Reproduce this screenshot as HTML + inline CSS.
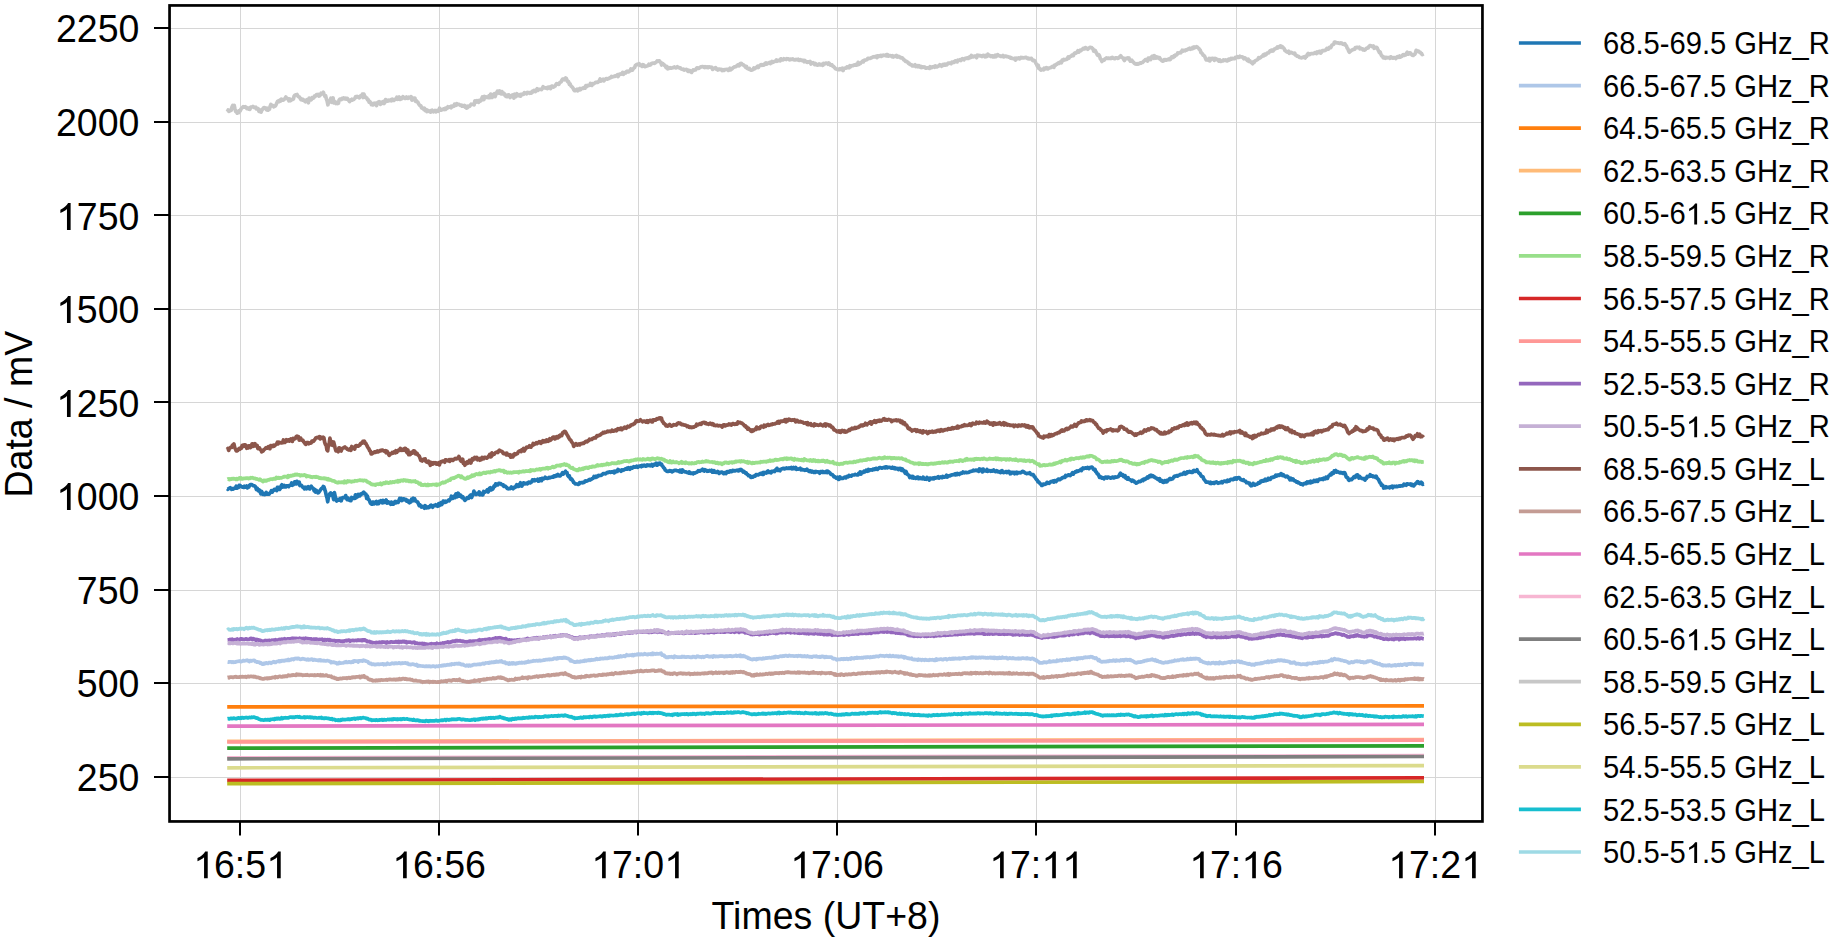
<!DOCTYPE html><html><head><meta charset="utf-8"><style>html,body{margin:0;padding:0;background:#fff;overflow:hidden}svg{display:block}</style></head><body><svg width="1847" height="941" viewBox="0 0 1847 941">
<rect width="1847" height="941" fill="#ffffff"/>
<path d="M240.5 5.5 V821.5 M439.5 5.5 V821.5 M638.5 5.5 V821.5 M837.5 5.5 V821.5 M1036.5 5.5 V821.5 M1236.5 5.5 V821.5 M1435.5 5.5 V821.5 M169.6 777.5 H1482.5 M169.6 683.5 H1482.5 M169.6 590.5 H1482.5 M169.6 496.5 H1482.5 M169.6 402.5 H1482.5 M169.6 309.5 H1482.5 M169.6 215.5 H1482.5 M169.6 122.5 H1482.5 M169.6 28.5 H1482.5" stroke="#d6d6d6" stroke-width="1.0" fill="none"/>
<path d="M227.2 488.7 L227.9 489.3 L228.7 488.5 L229.4 488.3 L230.2 487.7 L230.9 488.2 L231.7 489.3 L232.4 488.6 L233.2 489.1 L233.9 488.3 L234.7 488.3 L235.4 488.0 L236.2 486.2 L236.9 488.2 L237.7 487.7 L238.4 487.5 L239.2 485.4 L239.9 485.3 L240.7 486.1 L241.4 486.5 L242.2 487.2 L242.9 486.9 L243.7 487.4 L244.4 486.3 L245.2 487.2 L245.9 487.2 L246.7 486.0 L247.4 487.9 L248.2 486.6 L248.9 486.9 L249.7 485.0 L250.4 484.6 L251.2 484.7 L251.9 484.7 L252.7 485.4 L253.4 485.7 L254.2 485.8 L254.9 486.1 L255.7 487.2 L256.4 489.5 L257.2 488.3 L257.9 490.0 L258.7 490.9 L259.4 489.9 L260.2 492.0 L260.9 493.8 L261.7 491.5 L262.4 493.8 L263.2 494.4 L263.9 493.6 L264.7 494.6 L265.4 493.8 L266.2 492.4 L266.9 494.2 L267.7 493.9 L268.4 493.9 L269.2 494.1 L269.9 492.9 L270.7 492.3 L271.4 490.7 L272.2 492.1 L272.9 490.6 L273.7 490.4 L274.4 489.4 L275.2 489.3 L275.9 489.3 L276.7 490.6 L277.4 487.3 L278.2 487.4 L278.9 488.6 L279.7 489.4 L280.4 488.2 L281.2 485.7 L281.9 484.7 L282.7 487.1 L283.4 485.9 L284.2 485.4 L284.9 487.0 L285.7 487.0 L286.4 485.9 L287.2 485.8 L287.9 485.8 L288.7 486.6 L289.4 485.5 L290.2 485.2 L290.9 485.1 L291.7 483.0 L292.4 485.3 L293.2 484.8 L293.9 484.2 L294.7 481.8 L295.4 482.8 L296.2 483.9 L296.9 481.4 L297.7 482.6 L298.4 483.6 L299.2 482.2 L299.9 485.5 L300.7 485.2 L301.4 485.3 L302.2 486.4 L302.9 487.3 L303.7 487.6 L304.4 488.9 L305.2 487.2 L305.9 487.4 L306.7 488.7 L307.4 487.7 L308.2 486.8 L308.9 488.4 L309.7 488.9 L310.4 487.1 L311.2 486.2 L311.9 487.4 L312.7 488.1 L313.4 488.6 L314.2 490.9 L314.9 489.4 L315.7 492.1 L316.4 490.5 L317.2 491.6 L317.9 492.9 L318.7 492.5 L319.4 491.5 L320.2 490.2 L320.9 489.2 L321.7 488.4 L322.4 488.0 L323.2 486.5 L323.9 486.7 L324.7 489.5 L325.4 491.4 L326.2 495.2 L326.9 497.3 L327.7 501.8 L328.4 497.5 L329.2 494.9 L329.9 493.7 L330.7 493.0 L331.4 495.1 L332.2 493.8 L332.9 496.1 L333.7 499.7 L334.4 492.7 L335.2 496.3 L335.9 499.8 L336.7 501.0 L337.4 500.2 L338.2 499.4 L338.9 500.1 L339.7 499.4 L340.4 498.4 L341.2 500.8 L341.9 498.7 L342.7 497.6 L343.4 497.7 L344.2 497.3 L344.9 497.7 L345.7 495.6 L346.4 497.9 L347.2 499.6 L347.9 497.9 L348.7 499.2 L349.4 500.4 L350.2 500.5 L350.9 500.7 L351.7 497.5 L352.4 498.3 L353.2 498.0 L353.9 498.5 L354.7 498.5 L355.4 494.8 L356.2 497.8 L356.9 495.2 L357.7 496.7 L358.4 494.4 L359.2 495.4 L359.9 495.8 L360.7 494.1 L361.4 493.9 L362.2 493.9 L362.9 492.8 L363.7 492.1 L364.4 493.2 L365.2 494.1 L365.9 494.2 L366.7 498.3 L367.4 496.1 L368.2 499.3 L368.9 499.6 L369.7 501.3 L370.4 503.2 L371.2 503.9 L371.9 504.2 L372.7 502.1 L373.4 502.0 L374.2 503.9 L374.9 502.3 L375.7 502.1 L376.4 501.5 L377.2 503.8 L377.9 503.1 L378.7 503.6 L379.4 501.3 L380.2 501.9 L380.9 500.7 L381.7 502.2 L382.4 502.8 L383.2 500.4 L383.9 502.6 L384.7 502.3 L385.4 501.4 L386.2 500.0 L386.9 503.2 L387.7 502.1 L388.4 501.8 L389.2 502.9 L389.9 503.1 L390.7 504.2 L391.4 502.1 L392.2 504.2 L392.9 504.2 L393.7 503.9 L394.4 502.2 L395.2 501.4 L395.9 502.8 L396.7 501.7 L397.4 501.5 L398.2 502.4 L398.9 500.6 L399.7 498.5 L400.4 500.0 L401.2 498.4 L401.9 500.6 L402.7 499.9 L403.4 498.8 L404.2 499.1 L404.9 499.8 L405.7 499.5 L406.4 501.0 L407.2 500.1 L407.9 501.5 L408.7 502.2 L409.4 502.7 L410.2 500.9 L410.9 502.0 L411.7 499.1 L412.4 499.4 L413.2 498.3 L413.9 500.6 L414.7 498.8 L415.4 500.6 L416.2 501.1 L416.9 501.9 L417.7 502.1 L418.4 503.6 L419.2 505.7 L419.9 504.8 L420.7 505.9 L421.4 507.0 L422.2 506.7 L422.9 506.3 L423.7 506.8 L424.4 508.2 L425.2 505.7 L425.9 506.5 L426.7 507.9 L427.4 507.6 L428.2 506.9 L428.9 507.5 L429.7 506.9 L430.4 505.6 L431.2 505.1 L431.9 505.9 L432.7 507.2 L433.4 505.8 L434.2 505.4 L434.9 505.5 L435.7 504.7 L436.4 505.9 L437.2 504.9 L437.9 506.2 L438.7 503.7 L439.4 505.6 L440.2 504.3 L440.9 502.7 L441.7 504.6 L442.4 503.3 L443.2 501.1 L443.9 501.8 L444.7 502.4 L445.4 501.3 L446.2 502.0 L446.9 501.5 L447.7 501.0 L448.4 500.2 L449.2 500.7 L449.9 499.6 L450.7 499.0 L451.4 496.2 L452.2 498.5 L452.9 498.4 L453.7 496.5 L454.4 495.9 L455.2 497.6 L455.9 493.8 L456.7 495.4 L457.4 496.7 L458.2 493.2 L458.9 494.3 L459.7 496.1 L460.4 495.0 L461.2 496.4 L461.9 497.5 L462.7 496.6 L463.4 498.1 L464.2 499.2 L464.9 500.4 L465.7 499.7 L466.4 498.9 L467.2 497.6 L467.9 497.6 L468.7 498.2 L469.4 496.9 L470.2 495.5 L470.9 494.9 L471.7 497.5 L472.4 495.5 L473.2 494.5 L473.9 491.0 L474.7 493.3 L475.4 493.2 L476.2 494.4 L476.9 493.5 L477.7 493.3 L478.4 494.0 L479.2 491.9 L479.9 494.8 L480.7 494.4 L481.4 493.4 L482.2 494.8 L482.9 494.8 L483.7 491.5 L484.4 491.7 L485.2 492.1 L485.9 491.6 L486.7 490.6 L487.4 489.7 L488.2 492.0 L488.9 490.6 L489.7 488.2 L490.4 487.6 L491.2 489.9 L491.9 488.8 L492.7 489.1 L493.4 487.8 L494.2 485.8 L494.9 486.4 L495.7 483.8 L496.4 484.6 L497.2 484.8 L497.9 484.9 L498.7 483.3 L499.4 483.4 L500.2 483.5 L500.9 483.8 L501.7 484.6 L502.4 484.8 L503.2 484.9 L503.9 486.5 L504.7 486.4 L505.4 486.2 L506.2 487.0 L506.9 488.1 L507.7 488.6 L508.4 488.8 L509.2 488.5 L509.9 488.6 L510.7 488.1 L511.4 487.0 L512.2 488.3 L513.0 488.8 L513.7 488.0 L514.5 487.1 L515.2 487.4 L516.0 485.9 L516.7 484.8 L517.5 486.3 L518.2 485.1 L519.0 486.3 L519.7 484.4 L520.5 482.8 L521.2 483.9 L522.0 486.0 L522.7 484.0 L523.5 482.8 L524.2 483.1 L525.0 483.9 L525.7 483.6 L526.5 483.1 L527.2 483.9 L528.0 483.0 L528.7 482.1 L529.5 482.3 L530.2 482.9 L531.0 482.1 L531.7 481.9 L532.5 479.8 L533.2 480.3 L534.0 480.8 L534.7 479.7 L535.5 480.6 L536.2 480.1 L537.0 480.2 L537.7 479.2 L538.5 481.2 L539.2 480.0 L540.0 478.8 L540.7 478.9 L541.5 480.7 L542.2 478.3 L543.0 479.1 L543.7 479.0 L544.5 478.2 L545.2 477.2 L546.0 478.1 L546.7 478.1 L547.5 478.5 L548.2 478.1 L549.0 477.4 L549.7 477.9 L550.5 477.5 L551.2 477.2 L552.0 476.9 L552.7 476.6 L553.5 477.1 L554.2 475.8 L555.0 476.0 L555.7 476.3 L556.5 475.1 L557.2 475.7 L558.0 474.5 L558.7 475.3 L559.5 476.0 L560.2 475.9 L561.0 474.9 L561.7 474.1 L562.5 472.7 L563.2 474.1 L564.0 472.6 L564.7 472.3 L565.5 471.3 L566.2 472.8 L567.0 472.7 L567.7 475.4 L568.5 476.5 L569.2 475.7 L570.0 477.8 L570.7 479.2 L571.5 478.8 L572.2 479.8 L573.0 481.2 L573.7 482.5 L574.5 483.0 L575.2 483.8 L576.0 483.9 L576.7 484.0 L577.5 484.0 L578.2 484.4 L579.0 484.1 L579.7 482.6 L580.5 483.0 L581.2 482.6 L582.0 482.5 L582.7 482.8 L583.5 482.5 L584.2 482.5 L585.0 481.0 L585.7 480.9 L586.5 481.2 L587.2 480.8 L588.0 480.4 L588.7 480.2 L589.5 479.5 L590.2 480.0 L591.0 479.5 L591.7 479.0 L592.5 478.3 L593.2 478.3 L594.0 476.5 L594.7 477.2 L595.5 477.4 L596.2 476.3 L597.0 476.9 L597.7 476.5 L598.5 475.4 L599.2 475.7 L600.0 475.3 L600.7 475.4 L601.5 475.2 L602.2 474.5 L603.0 473.7 L603.7 473.8 L604.5 473.6 L605.2 473.9 L606.0 473.5 L606.7 472.8 L607.5 472.3 L608.2 472.6 L609.0 472.3 L609.7 471.9 L610.5 472.3 L611.2 471.9 L612.0 472.1 L612.7 472.1 L613.5 471.4 L614.2 472.8 L615.0 471.2 L615.7 471.8 L616.5 471.1 L617.2 471.4 L618.0 469.4 L618.7 470.1 L619.5 470.5 L620.2 470.5 L621.0 471.3 L621.7 470.0 L622.5 470.4 L623.2 469.9 L624.0 469.8 L624.7 469.4 L625.5 468.9 L626.2 469.1 L627.0 468.1 L627.7 469.1 L628.5 467.8 L629.2 468.3 L630.0 469.2 L630.7 467.7 L631.5 467.7 L632.2 468.1 L633.0 467.3 L633.7 466.7 L634.5 467.1 L635.2 467.1 L636.0 467.0 L636.7 466.1 L637.5 467.3 L638.2 467.1 L639.0 466.2 L639.7 466.2 L640.5 465.8 L641.2 466.7 L642.0 465.4 L642.7 466.1 L643.5 465.4 L644.2 465.2 L645.0 465.9 L645.7 466.2 L646.5 465.3 L647.2 464.9 L648.0 465.6 L648.7 465.1 L649.5 465.2 L650.2 465.8 L651.0 465.5 L651.7 464.5 L652.5 466.0 L653.2 464.6 L654.0 465.0 L654.7 464.1 L655.5 464.4 L656.2 463.3 L657.0 465.2 L657.7 464.9 L658.5 463.4 L659.2 463.2 L660.0 463.0 L660.7 464.5 L661.5 464.2 L662.2 465.6 L663.0 466.6 L663.7 467.8 L664.5 468.4 L665.2 470.1 L666.0 470.4 L666.7 471.2 L667.5 471.4 L668.2 471.4 L669.0 471.0 L669.7 470.6 L670.5 471.2 L671.2 470.8 L672.0 471.8 L672.7 471.4 L673.5 470.8 L674.2 470.6 L675.0 470.4 L675.7 470.3 L676.5 470.6 L677.2 470.9 L678.0 471.0 L678.7 470.9 L679.5 471.7 L680.2 470.2 L681.0 470.5 L681.7 472.2 L682.5 469.9 L683.2 470.8 L684.0 471.5 L684.7 471.7 L685.5 472.0 L686.2 471.9 L687.0 472.5 L687.7 472.5 L688.5 473.1 L689.2 471.9 L690.0 472.7 L690.7 473.4 L691.5 473.1 L692.2 473.2 L693.0 473.8 L693.7 472.8 L694.5 473.2 L695.2 473.0 L696.0 472.5 L696.7 472.3 L697.5 471.7 L698.2 470.7 L699.0 471.2 L699.7 471.2 L700.5 470.3 L701.2 470.3 L702.0 470.5 L702.7 469.3 L703.5 470.2 L704.2 471.0 L705.0 469.8 L705.7 470.3 L706.5 470.3 L707.2 471.3 L708.0 470.8 L708.7 471.2 L709.5 470.5 L710.2 471.0 L711.0 471.1 L711.7 470.3 L712.5 472.2 L713.2 472.0 L714.0 470.7 L714.7 472.2 L715.5 471.9 L716.2 472.3 L717.0 472.4 L717.7 471.5 L718.5 472.4 L719.2 473.4 L720.0 472.4 L720.7 472.3 L721.5 472.2 L722.2 472.2 L723.0 472.9 L723.7 473.6 L724.5 472.7 L725.2 472.5 L726.0 473.5 L726.7 471.8 L727.5 471.6 L728.2 472.2 L729.0 472.1 L729.7 471.1 L730.5 470.9 L731.2 471.6 L732.0 471.4 L732.7 470.4 L733.5 470.9 L734.2 470.6 L735.0 471.0 L735.7 470.6 L736.5 470.5 L737.2 470.2 L738.0 470.9 L738.7 470.9 L739.5 469.8 L740.2 470.4 L741.0 469.4 L741.7 469.9 L742.5 470.9 L743.2 472.0 L744.0 471.5 L744.7 472.3 L745.5 473.1 L746.2 472.8 L747.0 474.3 L747.7 474.5 L748.5 475.7 L749.2 475.5 L750.0 475.7 L750.7 477.4 L751.5 477.4 L752.2 476.6 L753.0 477.1 L753.7 476.2 L754.5 475.7 L755.2 476.0 L756.0 474.6 L756.7 474.8 L757.5 474.8 L758.2 475.0 L759.0 474.1 L759.7 474.1 L760.5 473.3 L761.2 473.7 L762.0 474.3 L762.7 472.8 L763.5 474.4 L764.2 472.5 L765.0 472.7 L765.7 472.7 L766.5 473.0 L767.2 471.6 L768.0 470.9 L768.7 472.3 L769.5 472.2 L770.2 471.9 L771.0 472.9 L771.7 471.4 L772.5 471.3 L773.2 471.5 L774.0 471.0 L774.7 471.5 L775.5 469.8 L776.2 470.1 L777.0 468.3 L777.7 470.4 L778.5 469.6 L779.2 470.2 L780.0 470.7 L780.7 469.3 L781.5 469.0 L782.2 468.7 L783.0 468.4 L783.7 468.3 L784.5 468.9 L785.2 468.4 L786.0 468.2 L786.7 467.9 L787.5 468.5 L788.2 468.3 L789.0 467.9 L789.7 468.4 L790.5 467.9 L791.2 467.4 L792.0 468.8 L792.7 468.3 L793.5 467.5 L794.2 468.7 L795.0 468.4 L795.7 467.5 L796.5 469.4 L797.2 468.8 L798.0 469.2 L798.7 469.0 L799.5 468.9 L800.2 468.3 L801.0 469.8 L801.7 469.4 L802.5 469.4 L803.2 469.9 L804.0 469.8 L804.7 470.3 L805.5 469.9 L806.2 470.2 L807.0 469.2 L807.7 470.2 L808.5 471.0 L809.2 471.5 L810.0 470.6 L810.7 470.9 L811.5 472.0 L812.2 471.1 L813.0 471.8 L813.7 472.4 L814.5 471.7 L815.2 472.4 L816.0 471.4 L816.7 472.0 L817.5 471.8 L818.2 471.9 L819.0 472.5 L819.7 473.2 L820.5 471.6 L821.2 471.7 L822.0 472.3 L822.7 471.4 L823.5 472.3 L824.2 472.4 L825.0 471.9 L825.7 472.4 L826.5 471.3 L827.2 472.6 L828.0 471.3 L828.7 472.0 L829.5 472.6 L830.2 473.2 L831.0 474.4 L831.7 474.5 L832.5 474.8 L833.2 475.8 L834.0 476.9 L834.7 476.6 L835.5 477.3 L836.2 478.3 L837.0 478.1 L837.7 477.3 L838.5 479.4 L839.2 479.2 L840.0 476.9 L840.7 478.0 L841.5 478.2 L842.2 478.5 L843.0 478.4 L843.7 477.8 L844.5 477.2 L845.2 477.6 L846.0 477.9 L846.7 476.5 L847.5 476.3 L848.2 476.7 L849.0 475.4 L849.7 476.1 L850.5 475.8 L851.2 476.1 L852.0 475.3 L852.7 475.0 L853.5 475.0 L854.2 475.0 L855.0 474.4 L855.7 474.6 L856.5 474.8 L857.2 474.8 L858.0 474.9 L858.7 473.3 L859.5 473.3 L860.2 471.9 L861.0 474.0 L861.7 472.3 L862.5 472.4 L863.2 472.5 L864.0 471.2 L864.7 471.9 L865.5 471.4 L866.2 470.2 L867.0 471.1 L867.7 471.3 L868.5 469.4 L869.2 470.6 L870.0 470.0 L870.7 469.9 L871.5 469.8 L872.2 470.1 L873.0 469.1 L873.7 469.6 L874.5 468.8 L875.2 469.3 L876.0 468.3 L876.7 468.6 L877.5 469.4 L878.2 468.6 L879.0 468.1 L879.7 467.5 L880.5 467.5 L881.2 467.9 L882.0 468.2 L882.7 467.8 L883.5 467.7 L884.2 467.3 L885.0 467.9 L885.7 466.9 L886.5 466.9 L887.2 467.8 L888.0 467.4 L888.7 467.3 L889.5 467.3 L890.2 467.5 L891.0 468.1 L891.7 468.1 L892.5 467.3 L893.2 468.3 L894.0 468.3 L894.7 467.7 L895.5 468.8 L896.2 468.3 L897.0 468.4 L897.7 469.1 L898.5 469.5 L899.2 468.4 L900.0 469.2 L900.7 468.5 L901.5 470.4 L902.2 468.9 L903.0 470.6 L903.7 470.3 L904.5 471.8 L905.2 473.3 L906.0 471.4 L906.7 473.2 L907.5 474.5 L908.2 474.9 L909.0 475.3 L909.7 477.5 L910.5 477.1 L911.2 476.4 L912.0 477.8 L912.7 476.5 L913.5 478.1 L914.2 477.2 L915.0 477.7 L915.7 478.4 L916.5 477.9 L917.2 477.1 L918.0 477.0 L918.7 478.7 L919.5 478.5 L920.2 477.7 L921.0 478.7 L921.7 478.6 L922.5 478.8 L923.2 477.2 L924.0 478.4 L924.7 479.1 L925.5 479.1 L926.2 479.3 L927.0 477.5 L927.7 479.0 L928.5 479.0 L929.2 480.1 L930.0 478.1 L930.7 478.3 L931.5 478.4 L932.2 478.8 L933.0 478.0 L933.7 478.8 L934.5 477.6 L935.2 478.1 L936.0 477.6 L936.7 477.9 L937.5 477.3 L938.2 476.7 L939.0 478.1 L939.7 477.6 L940.5 477.0 L941.2 477.4 L942.0 477.7 L942.7 476.5 L943.5 476.9 L944.2 477.2 L945.0 477.0 L945.7 476.4 L946.5 475.3 L947.2 477.0 L948.0 476.3 L948.7 476.0 L949.5 475.6 L950.2 475.8 L951.0 475.2 L951.7 474.8 L952.5 474.8 L953.2 474.7 L954.0 474.5 L954.7 474.0 L955.5 474.9 L956.2 473.6 L957.0 474.6 L957.7 473.5 L958.5 474.1 L959.2 474.5 L960.0 473.7 L960.7 473.0 L961.5 473.3 L962.2 473.2 L963.0 472.0 L963.7 472.5 L964.5 472.8 L965.2 472.3 L966.0 472.4 L966.7 472.7 L967.5 472.5 L968.2 472.5 L969.0 472.2 L969.7 471.5 L970.5 471.6 L971.2 471.3 L972.0 471.1 L972.7 471.0 L973.5 470.1 L974.2 470.7 L975.0 470.7 L975.7 470.1 L976.5 470.4 L977.2 470.6 L978.0 470.1 L978.7 471.4 L979.5 468.9 L980.2 470.2 L981.0 469.4 L981.7 471.0 L982.5 471.9 L983.2 469.1 L984.0 470.6 L984.7 470.9 L985.5 470.5 L986.2 471.0 L987.0 469.5 L987.7 471.3 L988.5 471.0 L989.2 470.9 L990.0 470.6 L990.7 471.3 L991.5 470.7 L992.2 471.2 L993.0 470.8 L993.7 469.9 L994.5 471.2 L995.2 471.4 L996.0 471.7 L996.7 470.8 L997.5 471.4 L998.2 471.8 L999.0 471.5 L999.7 472.2 L1000.5 472.6 L1001.2 471.1 L1002.0 470.6 L1002.7 472.2 L1003.5 472.6 L1004.2 472.3 L1005.0 472.3 L1005.7 471.6 L1006.5 471.6 L1007.2 472.6 L1008.0 471.7 L1008.7 471.3 L1009.5 471.8 L1010.2 473.8 L1011.0 473.6 L1011.7 472.3 L1012.5 472.3 L1013.2 472.9 L1014.0 472.5 L1014.7 473.7 L1015.5 472.9 L1016.2 472.3 L1017.0 473.6 L1017.7 472.5 L1018.5 472.9 L1019.2 472.7 L1020.0 472.5 L1020.7 472.8 L1021.5 472.2 L1022.2 471.5 L1023.0 471.3 L1023.7 471.9 L1024.5 472.4 L1025.2 472.9 L1026.0 473.2 L1026.7 473.6 L1027.5 473.5 L1028.2 473.2 L1029.0 473.4 L1029.7 472.8 L1030.5 474.0 L1031.2 474.5 L1032.0 474.7 L1032.7 474.5 L1033.5 474.9 L1034.2 476.6 L1035.0 477.1 L1035.7 478.5 L1036.5 479.4 L1037.2 480.2 L1038.0 481.8 L1038.7 481.8 L1039.5 482.9 L1040.2 483.7 L1041.0 484.3 L1041.7 485.4 L1042.5 485.3 L1043.2 484.1 L1044.0 484.2 L1044.7 484.4 L1045.5 484.0 L1046.2 484.0 L1047.0 482.4 L1047.7 482.6 L1048.5 483.0 L1049.2 483.3 L1050.0 482.4 L1050.7 481.6 L1051.5 481.7 L1052.2 481.3 L1053.0 481.0 L1053.7 482.1 L1054.5 480.6 L1055.2 480.6 L1056.0 481.5 L1056.7 480.7 L1057.5 479.9 L1058.2 479.1 L1059.0 479.3 L1059.7 479.7 L1060.5 478.8 L1061.2 478.9 L1062.0 477.9 L1062.7 477.8 L1063.5 477.1 L1064.2 477.2 L1065.0 477.3 L1065.7 475.5 L1066.5 476.0 L1067.2 475.8 L1068.0 475.1 L1068.7 474.9 L1069.5 475.2 L1070.2 475.5 L1071.0 474.5 L1071.7 474.0 L1072.5 472.6 L1073.2 474.2 L1074.0 472.9 L1074.7 472.5 L1075.5 471.6 L1076.2 471.9 L1077.0 471.0 L1077.7 471.3 L1078.5 471.2 L1079.2 470.6 L1080.0 470.5 L1080.7 469.5 L1081.5 470.5 L1082.2 469.0 L1083.0 468.0 L1083.7 468.7 L1084.5 468.2 L1085.2 467.9 L1086.0 468.1 L1086.7 468.3 L1087.5 467.4 L1088.2 467.8 L1089.0 468.5 L1089.7 467.9 L1090.5 467.3 L1091.2 467.3 L1092.0 467.1 L1092.7 468.0 L1093.5 469.4 L1094.2 469.8 L1095.0 469.4 L1095.7 471.6 L1096.5 472.1 L1097.2 473.8 L1098.0 474.0 L1098.7 475.3 L1099.5 477.3 L1100.2 476.5 L1101.0 477.3 L1101.7 478.1 L1102.5 477.7 L1103.2 477.8 L1104.0 478.8 L1104.7 478.0 L1105.5 477.1 L1106.2 477.1 L1107.0 478.1 L1107.7 477.1 L1108.5 477.1 L1109.2 477.4 L1110.0 477.9 L1110.7 478.2 L1111.5 477.7 L1112.2 477.2 L1113.0 477.2 L1113.7 478.0 L1114.5 477.8 L1115.2 476.8 L1116.0 477.2 L1116.7 477.1 L1117.5 477.0 L1118.2 476.6 L1119.0 475.8 L1119.7 474.3 L1120.5 473.2 L1121.2 475.2 L1122.0 475.2 L1122.7 474.7 L1123.5 476.6 L1124.2 476.7 L1125.0 475.6 L1125.7 478.1 L1126.5 478.0 L1127.2 479.1 L1128.0 477.7 L1128.7 479.1 L1129.5 479.5 L1130.2 479.8 L1131.0 480.3 L1131.7 481.2 L1132.5 480.2 L1133.2 480.8 L1134.0 481.1 L1134.7 482.0 L1135.5 482.4 L1136.2 483.2 L1137.0 482.8 L1137.7 482.3 L1138.5 481.6 L1139.2 481.3 L1140.0 481.7 L1140.7 481.3 L1141.5 480.6 L1142.2 480.0 L1143.0 480.6 L1143.7 479.1 L1144.5 479.4 L1145.2 479.3 L1146.0 478.2 L1146.7 478.4 L1147.5 477.0 L1148.2 477.8 L1149.0 477.0 L1149.7 475.7 L1150.5 476.6 L1151.2 475.3 L1152.0 476.2 L1152.7 475.6 L1153.5 476.4 L1154.2 477.1 L1155.0 477.2 L1155.7 478.0 L1156.5 478.0 L1157.2 479.1 L1158.0 479.2 L1158.7 479.8 L1159.5 478.6 L1160.2 481.2 L1161.0 481.1 L1161.7 480.5 L1162.5 482.0 L1163.2 482.3 L1164.0 482.3 L1164.7 480.8 L1165.5 481.9 L1166.2 480.6 L1167.0 481.7 L1167.7 480.0 L1168.5 480.1 L1169.2 479.2 L1170.0 478.5 L1170.7 479.4 L1171.5 478.9 L1172.2 479.0 L1173.0 478.3 L1173.7 477.1 L1174.5 476.2 L1175.2 476.4 L1176.0 476.1 L1176.7 475.7 L1177.5 476.1 L1178.2 475.7 L1179.0 475.0 L1179.7 474.9 L1180.5 474.4 L1181.2 474.3 L1182.0 474.3 L1182.7 474.2 L1183.5 473.1 L1184.2 472.5 L1185.0 474.0 L1185.7 473.1 L1186.5 473.5 L1187.2 471.8 L1188.0 472.3 L1188.7 472.4 L1189.5 471.4 L1190.2 471.7 L1191.0 472.3 L1191.7 472.3 L1192.5 472.4 L1193.2 470.9 L1194.0 470.4 L1194.7 471.3 L1195.5 471.4 L1196.2 470.8 L1197.0 469.8 L1197.7 471.6 L1198.5 472.5 L1199.2 473.3 L1200.0 473.7 L1200.7 475.1 L1201.5 476.3 L1202.2 476.6 L1203.0 476.8 L1203.7 478.9 L1204.5 480.0 L1205.2 480.7 L1206.0 482.1 L1206.7 481.9 L1207.5 482.2 L1208.2 482.1 L1209.0 482.6 L1209.7 483.2 L1210.5 482.2 L1211.2 483.5 L1212.0 483.2 L1212.7 482.8 L1213.5 482.7 L1214.2 483.4 L1215.0 482.3 L1215.7 482.4 L1216.5 481.9 L1217.2 482.8 L1218.0 483.3 L1218.7 482.8 L1219.5 482.8 L1220.2 482.5 L1221.0 482.6 L1221.7 481.6 L1222.5 482.7 L1223.2 481.8 L1224.0 481.2 L1224.7 481.2 L1225.5 481.0 L1226.2 481.7 L1227.0 481.6 L1227.7 480.1 L1228.5 481.2 L1229.2 481.0 L1230.0 480.0 L1230.7 479.3 L1231.5 479.5 L1232.2 479.4 L1233.0 479.7 L1233.7 479.2 L1234.5 478.1 L1235.2 479.1 L1236.0 478.0 L1236.7 479.1 L1237.5 477.8 L1238.2 477.9 L1239.0 477.6 L1239.7 478.0 L1240.5 479.5 L1241.2 479.7 L1242.0 480.0 L1242.7 480.3 L1243.5 479.7 L1244.2 480.7 L1245.0 481.2 L1245.7 481.4 L1246.5 482.7 L1247.2 482.4 L1248.0 482.9 L1248.7 483.2 L1249.5 483.1 L1250.2 485.0 L1251.0 485.8 L1251.7 485.6 L1252.5 484.8 L1253.2 483.5 L1254.0 484.8 L1254.7 485.1 L1255.5 484.3 L1256.2 484.3 L1257.0 484.3 L1257.7 483.8 L1258.5 482.7 L1259.2 483.2 L1260.0 482.7 L1260.7 481.2 L1261.5 481.5 L1262.2 480.6 L1263.0 481.0 L1263.7 481.1 L1264.5 479.9 L1265.2 479.1 L1266.0 480.6 L1266.7 479.8 L1267.5 480.1 L1268.2 478.3 L1269.0 479.3 L1269.7 479.5 L1270.5 479.2 L1271.2 477.7 L1272.0 477.6 L1272.7 477.1 L1273.5 477.4 L1274.2 477.1 L1275.0 476.3 L1275.7 475.2 L1276.5 476.1 L1277.2 475.1 L1278.0 475.4 L1278.7 474.9 L1279.5 475.4 L1280.2 474.8 L1281.0 473.6 L1281.7 474.3 L1282.5 475.5 L1283.2 474.6 L1284.0 475.5 L1284.7 476.3 L1285.5 476.8 L1286.2 476.7 L1287.0 476.1 L1287.7 476.5 L1288.5 477.8 L1289.2 478.2 L1290.0 479.8 L1290.7 478.3 L1291.5 479.8 L1292.2 480.0 L1293.0 479.0 L1293.7 479.9 L1294.5 480.8 L1295.2 480.9 L1296.0 481.4 L1296.7 482.2 L1297.5 481.9 L1298.2 482.9 L1299.0 482.7 L1299.7 483.2 L1300.5 484.2 L1301.2 483.9 L1302.0 484.3 L1302.7 484.8 L1303.5 483.7 L1304.2 483.5 L1305.0 483.7 L1305.7 482.9 L1306.5 483.5 L1307.2 482.0 L1308.0 482.9 L1308.7 482.1 L1309.5 481.7 L1310.2 482.9 L1311.0 481.3 L1311.7 482.5 L1312.5 481.7 L1313.2 481.9 L1314.0 480.4 L1314.7 481.4 L1315.5 481.4 L1316.2 480.3 L1317.0 480.1 L1317.7 481.3 L1318.5 479.9 L1319.2 479.3 L1320.0 479.0 L1320.7 479.4 L1321.5 479.1 L1322.2 478.9 L1323.0 479.5 L1323.7 478.2 L1324.5 478.4 L1325.2 478.8 L1326.0 477.2 L1326.7 478.1 L1327.5 478.4 L1328.2 476.4 L1329.0 475.8 L1329.7 475.2 L1330.5 474.1 L1331.2 474.7 L1332.0 472.8 L1332.7 473.4 L1333.5 473.3 L1334.2 470.9 L1335.0 471.2 L1335.7 470.5 L1336.5 472.1 L1337.2 471.5 L1338.0 471.9 L1338.7 472.3 L1339.5 472.8 L1340.2 472.4 L1341.0 472.8 L1341.7 472.7 L1342.5 473.3 L1343.2 472.7 L1344.0 473.6 L1344.7 472.7 L1345.5 474.5 L1346.2 477.1 L1347.0 477.3 L1347.7 477.8 L1348.5 479.9 L1349.2 480.3 L1350.0 479.4 L1350.7 479.4 L1351.5 479.6 L1352.2 478.9 L1353.0 478.1 L1353.7 477.1 L1354.5 476.5 L1355.2 477.3 L1356.0 476.2 L1356.7 475.0 L1357.5 474.8 L1358.2 475.6 L1359.0 478.1 L1359.7 476.5 L1360.5 477.6 L1361.2 478.1 L1362.0 478.4 L1362.7 478.7 L1363.5 478.5 L1364.2 479.1 L1365.0 480.1 L1365.7 478.1 L1366.5 478.4 L1367.2 476.5 L1368.0 476.7 L1368.7 476.4 L1369.5 476.3 L1370.2 474.6 L1371.0 475.9 L1371.7 476.1 L1372.5 475.8 L1373.2 476.8 L1374.0 476.3 L1374.7 476.7 L1375.5 477.4 L1376.2 476.3 L1377.0 478.1 L1377.7 478.7 L1378.5 479.5 L1379.2 481.1 L1380.0 482.8 L1380.7 483.2 L1381.5 485.2 L1382.2 484.9 L1383.0 485.8 L1383.7 488.1 L1384.5 487.5 L1385.2 487.8 L1386.0 486.8 L1386.7 487.6 L1387.5 487.3 L1388.2 487.5 L1389.0 487.2 L1389.7 487.8 L1390.5 486.7 L1391.2 486.5 L1392.0 486.2 L1392.7 487.7 L1393.5 486.6 L1394.2 486.4 L1395.0 486.4 L1395.7 486.7 L1396.5 486.2 L1397.2 486.7 L1398.0 486.3 L1398.7 486.2 L1399.5 485.8 L1400.2 486.2 L1401.0 485.7 L1401.7 485.9 L1402.5 485.8 L1403.2 485.7 L1404.0 484.1 L1404.7 484.9 L1405.5 484.6 L1406.2 485.3 L1407.0 483.8 L1407.7 484.1 L1408.5 484.2 L1409.2 484.0 L1410.0 484.5 L1410.7 483.9 L1411.5 485.3 L1412.2 484.5 L1413.0 484.9 L1413.7 485.9 L1414.5 484.8 L1415.2 484.1 L1416.0 483.3 L1416.7 482.8 L1417.5 481.6 L1418.2 483.0 L1419.0 482.4 L1419.7 483.5 L1420.5 483.2 L1421.2 482.3 L1422.0 482.9 L1422.7 484.4 L1423.5 483.8" stroke="#1f77b4" stroke-width="3.7" fill="none" stroke-linejoin="round" stroke-linecap="butt"/>
<path d="M227.6 662.0 L228.3 662.1 L229.1 661.9 L229.8 661.8 L230.6 661.9 L231.3 661.9 L232.1 662.3 L232.8 661.8 L233.6 662.3 L234.3 662.2 L235.1 662.1 L235.8 661.9 L236.6 661.6 L237.3 661.5 L238.1 661.4 L238.8 661.1 L239.6 661.3 L240.3 661.1 L241.1 661.7 L241.8 661.3 L242.6 661.0 L243.3 660.5 L244.1 661.0 L244.8 660.8 L245.6 660.6 L246.3 660.5 L247.1 660.1 L247.8 660.9 L248.6 660.7 L249.3 661.5 L250.1 660.6 L250.8 660.5 L251.6 661.0 L252.3 660.5 L253.1 660.5 L253.8 660.4 L254.6 660.6 L255.3 661.5 L256.1 661.6 L256.9 662.1 L257.6 661.8 L258.4 662.2 L259.1 662.2 L259.9 663.0 L260.6 662.6 L261.4 663.4 L262.1 663.9 L262.9 664.2 L263.6 663.4 L264.4 663.9 L265.1 663.2 L265.9 663.1 L266.6 662.8 L267.4 663.5 L268.1 663.5 L268.9 662.7 L269.6 662.6 L270.4 662.6 L271.1 663.3 L271.9 662.8 L272.6 662.2 L273.4 661.7 L274.1 661.9 L274.9 662.4 L275.6 662.5 L276.4 661.7 L277.1 661.5 L277.9 661.4 L278.6 660.9 L279.4 661.6 L280.1 660.9 L280.9 661.4 L281.6 660.5 L282.4 660.5 L283.1 660.9 L283.9 660.5 L284.6 660.8 L285.4 660.5 L286.1 660.0 L286.9 660.4 L287.6 660.4 L288.4 659.4 L289.1 660.4 L289.9 659.9 L290.6 659.9 L291.4 659.0 L292.1 659.2 L292.9 659.2 L293.6 659.6 L294.4 658.7 L295.1 658.7 L295.9 658.3 L296.6 658.7 L297.4 658.8 L298.1 658.3 L298.9 658.6 L299.6 659.0 L300.4 659.4 L301.1 659.2 L301.9 658.9 L302.6 658.7 L303.4 658.8 L304.1 659.0 L304.9 659.3 L305.6 659.3 L306.4 659.8 L307.1 659.5 L307.9 659.1 L308.6 660.0 L309.4 659.8 L310.1 659.6 L310.9 659.4 L311.6 659.1 L312.4 659.4 L313.1 660.1 L313.9 659.6 L314.6 659.5 L315.4 660.0 L316.1 660.1 L316.9 660.2 L317.6 660.3 L318.4 660.6 L319.1 660.0 L319.9 660.6 L320.6 660.0 L321.4 660.6 L322.1 660.5 L322.9 660.6 L323.6 660.8 L324.4 660.6 L325.1 661.0 L325.9 661.0 L326.6 660.8 L327.4 660.6 L328.1 660.8 L328.9 661.0 L329.6 661.3 L330.4 661.6 L331.1 662.6 L331.9 662.1 L332.6 662.4 L333.4 662.1 L334.1 662.3 L334.9 662.6 L335.6 663.0 L336.4 662.8 L337.1 663.8 L337.9 663.2 L338.6 663.6 L339.4 662.5 L340.1 663.1 L340.9 663.1 L341.6 663.0 L342.4 663.0 L343.1 662.9 L343.9 662.7 L344.6 662.0 L345.4 662.3 L346.1 661.7 L346.9 662.5 L347.6 662.4 L348.4 662.1 L349.1 661.9 L349.9 661.8 L350.6 662.5 L351.4 662.4 L352.1 661.7 L352.9 662.1 L353.6 661.1 L354.4 660.9 L355.1 661.3 L355.9 661.1 L356.6 661.1 L357.4 661.2 L358.1 662.0 L358.9 660.8 L359.6 660.9 L360.4 660.9 L361.1 660.7 L361.9 661.0 L362.6 661.1 L363.4 660.1 L364.1 660.5 L364.9 660.6 L365.6 661.2 L366.4 661.1 L367.1 661.4 L367.9 661.7 L368.6 662.9 L369.4 663.2 L370.1 663.6 L370.9 663.3 L371.6 664.3 L372.4 664.4 L373.1 664.1 L373.9 664.2 L374.6 664.7 L375.4 664.6 L376.1 664.4 L376.9 664.5 L377.6 664.1 L378.4 664.3 L379.1 664.2 L379.9 664.4 L380.6 664.1 L381.4 664.1 L382.1 664.0 L382.9 663.8 L383.6 664.7 L384.4 664.1 L385.1 664.0 L385.9 664.6 L386.6 664.3 L387.4 663.3 L388.1 664.0 L388.9 664.0 L389.6 664.2 L390.4 664.0 L391.1 663.8 L391.9 663.2 L392.6 663.3 L393.4 663.6 L394.1 663.6 L394.9 663.1 L395.6 663.3 L396.4 663.2 L397.1 663.3 L397.9 663.4 L398.6 663.1 L399.4 662.8 L400.1 663.5 L400.9 663.6 L401.6 663.0 L402.4 663.3 L403.1 663.1 L403.9 663.1 L404.6 663.0 L405.4 662.8 L406.1 663.3 L406.9 663.6 L407.6 663.2 L408.4 664.2 L409.1 664.4 L409.9 664.4 L410.6 664.6 L411.4 664.4 L412.1 664.2 L412.9 664.2 L413.6 664.3 L414.4 664.7 L415.1 664.8 L415.9 665.2 L416.6 664.5 L417.4 665.9 L418.1 666.1 L418.9 665.5 L419.6 665.9 L420.4 665.9 L421.1 666.0 L421.9 666.0 L422.6 666.2 L423.4 666.1 L424.1 666.4 L424.9 666.3 L425.6 666.4 L426.4 666.0 L427.1 666.3 L427.9 666.3 L428.6 666.5 L429.4 666.0 L430.1 666.4 L430.9 666.6 L431.6 666.5 L432.4 666.2 L433.1 666.2 L433.9 666.2 L434.6 666.5 L435.4 666.8 L436.1 666.3 L436.9 666.1 L437.6 666.4 L438.4 666.3 L439.1 665.9 L439.9 665.8 L440.6 665.9 L441.4 666.0 L442.1 665.4 L442.9 665.3 L443.6 665.7 L444.4 665.0 L445.1 665.3 L445.9 665.3 L446.6 665.1 L447.4 664.7 L448.1 664.9 L448.9 664.7 L449.6 664.8 L450.4 664.3 L451.1 664.8 L451.9 663.8 L452.6 664.2 L453.4 664.1 L454.1 664.3 L454.9 663.7 L455.6 664.0 L456.4 663.5 L457.1 663.8 L457.9 664.0 L458.6 663.4 L459.4 663.8 L460.1 663.6 L460.9 664.4 L461.6 664.7 L462.4 664.6 L463.1 664.4 L463.9 665.1 L464.6 665.5 L465.4 665.7 L466.1 665.9 L466.9 665.2 L467.6 665.5 L468.4 666.0 L469.1 665.1 L469.9 665.7 L470.6 665.8 L471.4 665.4 L472.1 665.4 L472.9 664.9 L473.6 664.5 L474.4 664.7 L475.1 664.6 L475.9 664.6 L476.6 664.7 L477.4 664.3 L478.1 664.3 L478.9 664.3 L479.6 664.1 L480.4 664.5 L481.1 664.0 L481.9 663.8 L482.6 663.6 L483.4 663.4 L484.1 663.9 L484.9 663.4 L485.6 662.9 L486.4 663.0 L487.1 663.0 L487.9 662.8 L488.6 663.2 L489.4 662.4 L490.1 662.8 L490.9 662.6 L491.6 662.1 L492.4 662.4 L493.1 662.2 L493.9 662.3 L494.6 661.9 L495.4 662.1 L496.1 661.4 L496.9 661.4 L497.6 661.9 L498.4 661.9 L499.1 661.5 L499.9 661.2 L500.6 661.7 L501.4 661.0 L502.1 661.6 L502.9 662.3 L503.6 662.5 L504.4 662.2 L505.1 662.2 L505.9 663.4 L506.6 663.2 L507.4 663.1 L508.1 663.6 L508.9 664.1 L509.6 663.0 L510.4 664.0 L511.1 663.8 L511.9 662.9 L512.6 663.7 L513.4 662.9 L514.1 663.7 L514.9 663.4 L515.6 663.9 L516.4 663.0 L517.1 663.1 L517.9 663.4 L518.6 662.8 L519.4 662.7 L520.1 662.8 L520.9 662.8 L521.6 662.4 L522.4 662.8 L523.1 662.7 L523.9 662.5 L524.6 662.9 L525.4 662.2 L526.1 662.6 L526.9 661.9 L527.6 662.2 L528.4 661.3 L529.1 661.9 L529.9 661.7 L530.6 661.5 L531.4 661.3 L532.1 661.3 L532.9 661.1 L533.6 660.6 L534.4 661.0 L535.1 660.9 L535.9 660.8 L536.6 660.6 L537.4 660.8 L538.1 660.9 L538.9 660.5 L539.6 660.4 L540.4 660.8 L541.1 660.6 L541.9 660.5 L542.6 660.5 L543.4 660.0 L544.1 659.9 L544.9 660.2 L545.6 659.6 L546.4 659.7 L547.1 659.7 L547.9 659.6 L548.6 659.3 L549.4 659.6 L550.1 659.2 L550.9 659.4 L551.6 659.4 L552.4 659.2 L553.1 659.1 L553.9 658.4 L554.6 658.3 L555.4 658.4 L556.1 658.7 L556.9 658.9 L557.6 658.0 L558.4 658.3 L559.1 657.9 L559.9 657.8 L560.6 657.9 L561.4 658.1 L562.1 657.9 L562.9 658.1 L563.6 657.3 L564.4 657.8 L565.1 657.7 L565.9 657.7 L566.6 658.2 L567.4 658.3 L568.1 658.5 L568.9 659.1 L569.6 659.4 L570.4 660.8 L571.1 660.2 L571.9 661.2 L572.6 661.2 L573.4 661.6 L574.1 662.1 L574.9 661.8 L575.6 662.2 L576.4 662.0 L577.1 661.3 L577.9 661.9 L578.6 661.8 L579.4 661.7 L580.1 661.9 L580.9 661.2 L581.6 661.4 L582.4 661.4 L583.1 660.8 L583.9 661.3 L584.6 660.4 L585.4 660.4 L586.1 660.9 L586.9 660.3 L587.6 660.5 L588.4 659.9 L589.1 660.4 L589.9 659.9 L590.6 660.3 L591.4 659.6 L592.1 660.1 L592.9 659.8 L593.6 659.8 L594.4 659.7 L595.1 659.7 L595.9 659.1 L596.6 658.7 L597.4 659.4 L598.1 659.0 L598.9 659.0 L599.6 659.2 L600.4 658.4 L601.1 658.7 L601.9 658.6 L602.6 658.4 L603.4 658.7 L604.1 658.5 L604.9 658.2 L605.6 658.1 L606.4 658.5 L607.1 658.0 L607.9 658.3 L608.6 658.1 L609.4 657.3 L610.1 657.5 L610.9 657.7 L611.6 657.7 L612.4 657.8 L613.1 657.7 L613.9 657.7 L614.6 657.2 L615.4 657.1 L616.1 657.3 L616.9 656.9 L617.6 657.2 L618.4 656.3 L619.1 656.9 L619.9 656.6 L620.6 655.9 L621.4 656.7 L622.1 656.5 L622.9 656.3 L623.6 655.9 L624.4 655.9 L625.1 656.4 L625.9 655.7 L626.6 654.8 L627.4 655.5 L628.1 655.3 L628.9 655.5 L629.6 655.3 L630.4 655.1 L631.1 655.0 L631.9 655.5 L632.6 654.7 L633.4 655.6 L634.1 654.7 L634.9 654.5 L635.6 655.0 L636.4 654.8 L637.1 654.2 L637.9 654.7 L638.6 653.9 L639.4 654.2 L640.1 654.7 L640.9 654.3 L641.6 654.0 L642.4 654.5 L643.1 654.6 L643.9 654.3 L644.6 653.7 L645.4 654.1 L646.1 654.3 L646.9 654.4 L647.6 654.7 L648.4 654.1 L649.1 654.0 L649.9 654.1 L650.6 654.4 L651.4 653.7 L652.1 654.4 L652.9 653.2 L653.6 654.2 L654.4 653.7 L655.1 654.0 L655.9 654.1 L656.6 653.5 L657.4 653.8 L658.1 653.9 L658.9 653.9 L659.6 653.5 L660.4 653.4 L661.1 653.2 L661.9 655.0 L662.6 654.7 L663.4 655.2 L664.1 655.4 L664.9 656.6 L665.6 656.7 L666.4 657.5 L667.1 657.4 L667.9 657.1 L668.6 657.3 L669.4 656.8 L670.1 657.0 L670.9 656.9 L671.6 656.7 L672.4 657.1 L673.1 657.1 L673.9 657.5 L674.6 656.1 L675.4 656.9 L676.1 656.8 L676.9 657.0 L677.6 657.2 L678.4 657.2 L679.1 657.1 L679.9 657.0 L680.6 657.2 L681.4 657.2 L682.1 656.5 L682.9 657.0 L683.6 656.7 L684.4 656.7 L685.1 657.1 L685.9 657.1 L686.6 657.1 L687.4 656.8 L688.1 657.0 L688.9 656.8 L689.6 657.2 L690.4 657.2 L691.1 657.5 L691.9 657.4 L692.6 656.7 L693.4 656.8 L694.1 656.7 L694.9 657.0 L695.6 657.5 L696.4 657.1 L697.1 656.2 L697.9 656.5 L698.6 656.4 L699.4 657.0 L700.1 656.8 L700.9 656.9 L701.6 657.3 L702.4 656.5 L703.1 656.5 L703.9 657.3 L704.6 656.8 L705.4 656.4 L706.1 656.0 L706.9 656.2 L707.6 655.9 L708.4 656.6 L709.1 656.6 L709.9 656.8 L710.6 656.5 L711.4 656.3 L712.1 656.3 L712.9 657.0 L713.6 655.9 L714.4 656.5 L715.1 656.4 L715.9 656.6 L716.6 656.3 L717.4 656.5 L718.1 656.6 L718.9 656.3 L719.6 656.2 L720.4 656.2 L721.1 656.0 L721.9 656.2 L722.6 656.1 L723.4 656.3 L724.1 656.6 L724.9 656.6 L725.6 656.0 L726.4 656.3 L727.1 656.2 L727.9 656.3 L728.6 656.1 L729.4 656.1 L730.1 655.9 L730.9 655.8 L731.6 656.3 L732.4 656.4 L733.1 656.2 L733.9 656.1 L734.6 656.0 L735.4 655.8 L736.1 655.3 L736.9 656.1 L737.6 655.9 L738.4 655.7 L739.1 655.5 L739.9 656.2 L740.6 655.2 L741.4 656.3 L742.1 655.9 L742.9 656.4 L743.6 655.7 L744.4 656.2 L745.1 656.4 L745.9 657.0 L746.6 657.2 L747.4 657.4 L748.1 658.3 L748.9 658.1 L749.6 658.5 L750.4 659.2 L751.1 659.2 L751.9 659.4 L752.6 659.6 L753.4 659.3 L754.1 658.9 L754.9 659.2 L755.6 659.1 L756.4 659.6 L757.1 658.7 L757.9 659.2 L758.6 658.6 L759.4 658.6 L760.1 658.6 L760.9 658.7 L761.6 658.8 L762.4 658.9 L763.1 658.1 L763.9 658.6 L764.6 658.5 L765.4 658.3 L766.1 657.8 L766.9 658.2 L767.6 657.8 L768.4 657.9 L769.1 657.6 L769.9 657.8 L770.6 657.8 L771.4 657.8 L772.1 657.3 L772.9 657.6 L773.6 657.6 L774.4 656.8 L775.1 657.4 L775.9 656.5 L776.6 657.0 L777.4 656.9 L778.1 657.1 L778.9 656.7 L779.6 656.4 L780.4 656.2 L781.1 656.0 L781.9 656.5 L782.6 656.1 L783.4 655.9 L784.1 656.2 L784.9 655.7 L785.6 655.7 L786.4 655.6 L787.1 656.2 L787.9 656.2 L788.6 655.7 L789.4 655.3 L790.1 655.9 L790.9 655.8 L791.6 656.0 L792.4 656.0 L793.1 655.8 L793.9 656.2 L794.6 656.2 L795.4 656.0 L796.1 655.9 L796.9 655.9 L797.6 656.3 L798.4 655.7 L799.1 656.0 L799.9 655.9 L800.6 655.7 L801.4 656.4 L802.1 656.2 L802.9 656.2 L803.6 656.5 L804.4 655.8 L805.1 656.3 L805.9 656.4 L806.6 656.6 L807.4 656.0 L808.1 656.6 L808.9 656.5 L809.6 656.8 L810.4 656.8 L811.1 656.7 L811.9 657.2 L812.6 656.5 L813.4 656.4 L814.1 656.5 L814.9 656.3 L815.6 656.6 L816.4 656.1 L817.1 656.7 L817.9 656.8 L818.6 657.0 L819.4 656.6 L820.1 657.2 L820.9 656.6 L821.6 656.8 L822.4 656.3 L823.1 656.6 L823.9 656.7 L824.6 657.4 L825.4 657.1 L826.1 656.6 L826.9 657.2 L827.6 657.2 L828.4 657.0 L829.1 657.1 L829.9 657.0 L830.6 657.2 L831.4 657.1 L832.1 657.8 L832.9 658.5 L833.6 658.8 L834.4 658.6 L835.1 658.8 L835.9 659.2 L836.6 659.8 L837.4 659.7 L838.1 659.3 L838.9 659.5 L839.6 659.3 L840.4 659.5 L841.1 659.1 L841.9 658.8 L842.6 659.2 L843.4 659.3 L844.1 658.7 L844.9 658.9 L845.6 659.2 L846.4 658.7 L847.1 658.6 L847.9 659.3 L848.6 658.9 L849.4 658.9 L850.1 658.3 L850.9 659.0 L851.6 657.9 L852.4 658.2 L853.1 658.5 L853.9 658.6 L854.6 657.9 L855.4 657.9 L856.1 658.1 L856.9 657.4 L857.6 658.1 L858.4 658.0 L859.1 657.7 L859.9 657.9 L860.6 657.9 L861.4 657.7 L862.1 657.7 L862.9 658.0 L863.6 657.3 L864.4 657.4 L865.1 657.2 L865.9 657.6 L866.6 657.1 L867.4 657.3 L868.1 657.1 L868.9 657.1 L869.6 657.5 L870.4 656.9 L871.1 657.3 L871.9 657.0 L872.6 657.1 L873.4 656.6 L874.1 656.9 L874.9 656.8 L875.6 656.3 L876.4 656.5 L877.1 656.3 L877.9 656.3 L878.6 656.6 L879.4 656.0 L880.1 655.6 L880.9 655.6 L881.6 655.9 L882.4 655.8 L883.1 655.9 L883.9 656.0 L884.6 656.3 L885.4 655.8 L886.1 655.9 L886.9 655.6 L887.6 656.0 L888.4 656.3 L889.1 656.3 L889.9 655.4 L890.6 656.3 L891.4 656.5 L892.1 656.3 L892.9 655.7 L893.6 656.1 L894.4 656.4 L895.1 656.4 L895.9 656.1 L896.6 656.1 L897.4 656.7 L898.1 656.1 L898.9 656.9 L899.6 656.6 L900.4 656.7 L901.1 656.2 L901.9 656.5 L902.6 657.0 L903.4 656.6 L904.1 657.8 L904.9 656.9 L905.6 657.2 L906.4 657.7 L907.1 658.0 L907.9 658.3 L908.6 658.2 L909.4 658.4 L910.1 658.6 L910.9 658.7 L911.6 658.3 L912.4 659.5 L913.1 659.5 L913.9 659.6 L914.6 659.4 L915.4 659.7 L916.1 659.7 L916.9 659.7 L917.6 660.1 L918.4 659.3 L919.1 659.9 L919.9 659.5 L920.6 659.8 L921.4 660.3 L922.1 659.6 L922.9 659.9 L923.6 659.8 L924.4 660.3 L925.1 659.7 L925.9 659.6 L926.6 660.2 L927.4 660.0 L928.1 660.0 L928.9 660.3 L929.6 659.7 L930.4 659.8 L931.1 659.9 L931.9 660.0 L932.6 659.7 L933.4 660.1 L934.1 660.4 L934.9 659.6 L935.6 660.2 L936.4 659.0 L937.1 660.0 L937.9 659.4 L938.6 659.5 L939.4 659.4 L940.1 659.2 L940.9 659.0 L941.6 659.2 L942.4 659.7 L943.1 659.6 L943.9 659.1 L944.6 659.0 L945.4 658.9 L946.1 658.8 L946.9 659.6 L947.6 659.2 L948.4 659.0 L949.1 658.8 L949.9 658.6 L950.6 659.2 L951.4 659.0 L952.1 658.5 L952.9 659.0 L953.6 658.4 L954.4 658.8 L955.1 658.3 L955.9 658.5 L956.6 658.7 L957.4 658.6 L958.1 658.7 L958.9 658.2 L959.6 658.8 L960.4 658.7 L961.1 658.3 L961.9 658.4 L962.6 658.0 L963.4 658.1 L964.1 657.8 L964.9 658.1 L965.6 658.1 L966.4 658.4 L967.1 658.2 L967.9 658.2 L968.6 657.8 L969.4 657.8 L970.1 657.7 L970.9 657.8 L971.6 657.2 L972.4 657.9 L973.1 657.2 L973.9 657.5 L974.6 657.6 L975.4 657.4 L976.1 658.0 L976.9 657.4 L977.6 657.9 L978.4 657.8 L979.1 657.3 L979.9 657.6 L980.6 657.8 L981.4 657.4 L982.1 657.5 L982.9 657.4 L983.6 657.6 L984.4 657.5 L985.1 657.6 L985.9 657.9 L986.6 658.0 L987.4 657.7 L988.1 657.7 L988.9 657.9 L989.6 657.6 L990.4 657.4 L991.1 658.0 L991.9 657.5 L992.6 658.0 L993.4 657.5 L994.1 658.3 L994.9 657.5 L995.6 658.1 L996.4 658.3 L997.1 657.6 L997.9 658.3 L998.6 657.7 L999.4 657.4 L1000.1 658.1 L1000.9 658.1 L1001.6 657.9 L1002.4 657.2 L1003.1 658.0 L1003.9 657.9 L1004.6 657.9 L1005.4 658.0 L1006.1 657.5 L1006.9 657.9 L1007.6 658.6 L1008.4 658.6 L1009.1 658.0 L1009.9 657.9 L1010.6 658.3 L1011.4 658.5 L1012.1 658.4 L1012.9 657.9 L1013.6 658.3 L1014.4 658.3 L1015.1 658.7 L1015.9 658.6 L1016.6 658.5 L1017.4 658.7 L1018.1 658.2 L1018.9 658.8 L1019.6 658.3 L1020.4 658.5 L1021.1 658.7 L1021.9 658.2 L1022.6 658.2 L1023.4 658.0 L1024.1 658.5 L1024.8 658.5 L1025.6 658.4 L1026.3 658.7 L1027.1 657.9 L1027.8 658.6 L1028.6 658.6 L1029.3 658.5 L1030.1 658.9 L1030.8 659.1 L1031.6 658.5 L1032.3 658.4 L1033.1 658.5 L1033.8 659.1 L1034.6 659.7 L1035.3 659.7 L1036.1 660.6 L1036.8 660.4 L1037.6 661.4 L1038.3 661.7 L1039.1 662.1 L1039.8 663.0 L1040.6 662.8 L1041.3 662.8 L1042.1 662.9 L1042.8 662.9 L1043.6 662.2 L1044.3 662.5 L1045.1 662.2 L1045.8 662.5 L1046.6 662.6 L1047.3 662.1 L1048.1 662.0 L1048.8 662.0 L1049.6 661.0 L1050.3 662.0 L1051.1 661.8 L1051.8 661.6 L1052.6 661.3 L1053.3 661.2 L1054.1 661.2 L1054.8 661.5 L1055.6 661.1 L1056.3 661.4 L1057.1 660.2 L1057.8 660.7 L1058.6 660.8 L1059.3 660.6 L1060.1 660.1 L1060.8 660.3 L1061.6 660.7 L1062.3 659.9 L1063.1 659.9 L1063.8 659.8 L1064.6 659.8 L1065.3 660.1 L1066.1 660.0 L1066.8 659.1 L1067.6 660.1 L1068.3 659.4 L1069.1 659.3 L1069.8 659.9 L1070.6 659.3 L1071.3 658.8 L1072.1 658.9 L1072.8 658.8 L1073.6 658.6 L1074.3 658.7 L1075.1 659.0 L1075.8 658.7 L1076.6 658.2 L1077.3 659.3 L1078.1 658.1 L1078.8 658.3 L1079.6 658.2 L1080.3 658.3 L1081.1 657.9 L1081.8 658.0 L1082.6 658.4 L1083.3 657.8 L1084.1 657.3 L1084.8 657.6 L1085.6 657.2 L1086.3 657.3 L1087.1 657.3 L1087.8 657.3 L1088.6 657.0 L1089.3 657.3 L1090.1 656.9 L1090.8 656.5 L1091.6 657.0 L1092.3 656.8 L1093.1 657.7 L1093.8 657.5 L1094.6 658.2 L1095.3 658.5 L1096.1 658.0 L1096.8 658.8 L1097.6 659.3 L1098.3 660.4 L1099.1 659.8 L1099.8 661.0 L1100.6 661.4 L1101.3 661.6 L1102.1 662.0 L1102.8 661.6 L1103.6 661.7 L1104.3 661.7 L1105.1 661.7 L1105.8 661.7 L1106.6 661.4 L1107.3 661.2 L1108.1 661.2 L1108.8 661.4 L1109.6 660.7 L1110.3 660.8 L1111.1 661.0 L1111.8 660.9 L1112.6 660.9 L1113.3 660.1 L1114.1 660.8 L1114.8 660.7 L1115.6 661.0 L1116.3 660.1 L1117.1 660.5 L1117.8 660.7 L1118.6 660.6 L1119.3 660.8 L1120.1 660.7 L1120.8 660.0 L1121.6 660.4 L1122.3 660.1 L1123.1 659.9 L1123.8 660.5 L1124.6 659.8 L1125.3 659.7 L1126.1 659.8 L1126.8 659.6 L1127.6 660.1 L1128.3 659.8 L1129.1 660.1 L1129.8 659.7 L1130.6 659.8 L1131.3 660.6 L1132.1 660.6 L1132.8 661.0 L1133.6 661.5 L1134.3 662.0 L1135.1 662.7 L1135.8 662.6 L1136.6 662.9 L1137.3 662.6 L1138.1 662.1 L1138.8 662.0 L1139.6 662.1 L1140.3 662.1 L1141.1 661.9 L1141.8 661.8 L1142.6 661.5 L1143.3 661.2 L1144.1 661.3 L1144.8 660.8 L1145.6 660.5 L1146.3 660.7 L1147.1 660.2 L1147.8 660.3 L1148.6 660.1 L1149.3 660.0 L1150.1 660.0 L1150.8 659.6 L1151.6 659.5 L1152.3 659.2 L1153.1 660.0 L1153.8 659.9 L1154.6 660.5 L1155.3 659.8 L1156.1 660.6 L1156.8 661.2 L1157.6 660.6 L1158.3 661.4 L1159.1 661.8 L1159.8 662.0 L1160.6 661.8 L1161.3 662.5 L1162.1 662.7 L1162.8 662.6 L1163.6 663.0 L1164.3 662.6 L1165.1 662.5 L1165.8 662.2 L1166.6 662.4 L1167.3 662.2 L1168.1 662.3 L1168.8 662.0 L1169.6 661.6 L1170.3 661.5 L1171.1 661.7 L1171.8 661.2 L1172.6 661.3 L1173.3 661.2 L1174.1 660.9 L1174.8 660.2 L1175.6 660.7 L1176.3 660.6 L1177.1 660.5 L1177.8 660.1 L1178.6 660.5 L1179.3 660.0 L1180.1 659.8 L1180.8 659.6 L1181.6 659.8 L1182.3 659.3 L1183.1 659.2 L1183.8 660.0 L1184.6 659.8 L1185.3 659.6 L1186.1 659.7 L1186.8 659.4 L1187.6 658.7 L1188.3 659.4 L1189.1 659.4 L1189.8 659.1 L1190.6 658.4 L1191.3 659.2 L1192.1 659.2 L1192.8 658.6 L1193.6 658.7 L1194.3 658.9 L1195.1 658.5 L1195.8 658.8 L1196.6 658.5 L1197.3 658.7 L1198.1 658.9 L1198.8 658.9 L1199.6 659.4 L1200.3 661.0 L1201.1 660.6 L1201.8 661.3 L1202.6 661.7 L1203.3 662.2 L1204.1 662.3 L1204.8 662.4 L1205.6 663.0 L1206.3 662.8 L1207.1 663.3 L1207.8 663.6 L1208.6 662.7 L1209.3 663.4 L1210.1 663.5 L1210.8 663.6 L1211.6 662.9 L1212.3 663.0 L1213.1 662.6 L1213.8 662.8 L1214.6 663.3 L1215.3 663.7 L1216.1 662.7 L1216.8 663.4 L1217.6 663.1 L1218.3 662.8 L1219.1 663.6 L1219.8 662.2 L1220.6 662.9 L1221.3 662.9 L1222.1 663.4 L1222.8 663.2 L1223.6 663.3 L1224.3 662.6 L1225.1 662.8 L1225.8 662.9 L1226.6 662.5 L1227.3 662.4 L1228.1 662.2 L1228.8 662.1 L1229.6 661.8 L1230.3 662.6 L1231.1 661.9 L1231.8 661.3 L1232.6 661.9 L1233.3 661.8 L1234.1 661.8 L1234.8 662.2 L1235.6 661.6 L1236.3 661.5 L1237.1 661.3 L1237.8 661.4 L1238.6 661.2 L1239.3 661.4 L1240.1 662.4 L1240.8 661.8 L1241.6 661.7 L1242.3 662.7 L1243.1 662.6 L1243.8 662.8 L1244.6 662.9 L1245.3 663.1 L1246.1 663.3 L1246.8 663.7 L1247.6 663.8 L1248.3 664.1 L1249.1 663.7 L1249.8 664.1 L1250.6 664.1 L1251.3 664.8 L1252.1 664.8 L1252.8 664.3 L1253.6 664.5 L1254.3 665.0 L1255.1 664.5 L1255.8 663.7 L1256.6 663.8 L1257.3 663.9 L1258.1 663.6 L1258.8 663.6 L1259.6 663.7 L1260.3 663.4 L1261.1 662.9 L1261.8 663.3 L1262.6 662.9 L1263.3 662.9 L1264.1 662.5 L1264.8 662.2 L1265.6 662.1 L1266.3 662.3 L1267.1 661.9 L1267.8 661.3 L1268.6 662.4 L1269.3 661.6 L1270.1 661.6 L1270.8 661.8 L1271.6 660.9 L1272.3 661.8 L1273.1 661.1 L1273.8 661.4 L1274.6 661.0 L1275.3 661.1 L1276.1 660.9 L1276.8 660.8 L1277.6 660.1 L1278.3 660.1 L1279.1 660.4 L1279.8 660.7 L1280.6 660.0 L1281.3 660.3 L1282.1 660.4 L1282.8 660.6 L1283.6 660.9 L1284.3 660.4 L1285.1 661.1 L1285.8 661.1 L1286.6 661.2 L1287.3 661.2 L1288.1 661.4 L1288.8 661.5 L1289.6 661.7 L1290.3 662.9 L1291.1 662.8 L1291.8 662.5 L1292.6 662.9 L1293.3 662.5 L1294.1 662.2 L1294.8 662.6 L1295.6 663.4 L1296.3 663.9 L1297.1 663.7 L1297.8 663.5 L1298.6 663.9 L1299.3 663.9 L1300.1 663.9 L1300.8 664.4 L1301.6 664.4 L1302.3 664.2 L1303.1 664.1 L1303.8 664.0 L1304.6 664.3 L1305.3 664.5 L1306.1 663.9 L1306.8 664.6 L1307.6 663.4 L1308.3 663.8 L1309.1 663.3 L1309.8 663.5 L1310.6 663.5 L1311.3 663.5 L1312.1 663.6 L1312.8 663.0 L1313.6 662.7 L1314.3 662.9 L1315.1 663.0 L1315.8 662.6 L1316.6 663.0 L1317.3 663.1 L1318.1 662.1 L1318.8 662.5 L1319.6 662.6 L1320.3 661.7 L1321.1 662.2 L1321.8 662.0 L1322.6 661.6 L1323.3 662.3 L1324.1 661.9 L1324.8 661.6 L1325.6 661.7 L1326.3 661.7 L1327.1 661.6 L1327.8 661.5 L1328.6 661.3 L1329.3 660.5 L1330.1 660.5 L1330.8 660.4 L1331.6 659.3 L1332.3 660.5 L1333.1 659.5 L1333.8 659.1 L1334.6 658.6 L1335.3 659.3 L1336.1 659.3 L1336.8 659.3 L1337.6 659.4 L1338.3 659.4 L1339.1 659.6 L1339.8 659.9 L1340.6 659.9 L1341.3 660.4 L1342.1 660.3 L1342.8 660.5 L1343.6 660.7 L1344.3 661.1 L1345.1 661.1 L1345.8 661.3 L1346.6 661.6 L1347.3 661.8 L1348.1 662.3 L1348.8 663.0 L1349.6 662.9 L1350.3 662.5 L1351.1 662.1 L1351.8 661.9 L1352.6 662.3 L1353.3 662.3 L1354.1 662.0 L1354.8 661.3 L1355.6 661.5 L1356.3 661.4 L1357.1 661.1 L1357.8 661.6 L1358.6 661.5 L1359.3 661.4 L1360.1 661.4 L1360.8 662.1 L1361.6 662.1 L1362.3 661.9 L1363.1 661.9 L1363.8 662.6 L1364.6 662.5 L1365.3 662.0 L1366.1 662.4 L1366.8 661.6 L1367.6 661.2 L1368.3 661.6 L1369.1 661.0 L1369.8 661.0 L1370.6 661.0 L1371.3 661.0 L1372.1 661.2 L1372.8 661.8 L1373.6 662.5 L1374.3 662.1 L1375.1 663.1 L1375.8 663.0 L1376.6 662.9 L1377.3 663.6 L1378.1 664.0 L1378.8 663.8 L1379.6 663.7 L1380.3 664.7 L1381.1 664.6 L1381.8 665.3 L1382.6 664.9 L1383.3 665.7 L1384.1 665.5 L1384.8 665.3 L1385.6 665.6 L1386.3 665.7 L1387.1 665.4 L1387.8 665.2 L1388.6 665.6 L1389.3 665.0 L1390.1 665.6 L1390.8 665.6 L1391.6 665.9 L1392.3 665.6 L1393.1 665.4 L1393.8 665.3 L1394.6 665.2 L1395.3 664.8 L1396.1 665.6 L1396.8 665.3 L1397.6 664.9 L1398.3 664.6 L1399.1 665.3 L1399.8 665.0 L1400.6 664.4 L1401.3 664.9 L1402.1 665.2 L1402.8 664.5 L1403.6 664.6 L1404.3 664.3 L1405.1 664.1 L1405.8 664.6 L1406.6 665.1 L1407.3 664.1 L1408.1 664.0 L1408.8 664.2 L1409.6 663.8 L1410.3 664.0 L1411.1 664.1 L1411.8 663.6 L1412.6 663.6 L1413.3 664.0 L1414.1 664.3 L1414.8 664.2 L1415.6 664.5 L1416.3 663.8 L1417.1 664.4 L1417.8 664.1 L1418.6 664.3 L1419.3 664.5 L1420.1 664.1 L1420.8 664.4 L1421.6 664.2 L1422.3 664.6 L1423.1 664.4 L1423.8 664.5" stroke="#aec7e8" stroke-width="3.7" fill="none" stroke-linejoin="round" stroke-linecap="butt"/>
<path d="M227.2 706.8 L1424.0 705.9" stroke="#ff7f0e" stroke-width="3.7" fill="none" stroke-linejoin="round" stroke-linecap="butt"/>
<path d="M227.2 741.4 L1424.0 739.6" stroke="#ffbb78" stroke-width="3.7" fill="none" stroke-linejoin="round" stroke-linecap="butt"/>
<path d="M227.2 748.2 L1424.0 745.9" stroke="#2ca02c" stroke-width="3.7" fill="none" stroke-linejoin="round" stroke-linecap="butt"/>
<path d="M227.6 479.3 L228.3 478.9 L229.1 479.5 L229.8 478.9 L230.6 479.3 L231.3 479.1 L232.1 478.6 L232.8 478.9 L233.6 478.6 L234.3 478.8 L235.1 478.8 L235.8 479.4 L236.6 478.6 L237.3 479.3 L238.1 478.9 L238.8 478.2 L239.6 477.9 L240.3 478.8 L241.1 477.9 L241.8 478.8 L242.6 478.9 L243.3 478.6 L244.1 478.4 L244.8 478.3 L245.6 478.5 L246.3 478.2 L247.1 478.1 L247.8 478.1 L248.6 478.6 L249.3 478.0 L250.1 478.3 L250.8 477.7 L251.6 477.9 L252.3 477.6 L253.1 478.0 L253.8 478.3 L254.6 478.4 L255.3 478.4 L256.1 479.0 L256.9 478.9 L257.6 479.3 L258.4 479.5 L259.1 479.9 L259.9 479.1 L260.6 479.7 L261.4 480.6 L262.1 480.6 L262.9 481.6 L263.6 480.6 L264.4 480.3 L265.1 480.9 L265.9 480.4 L266.6 480.8 L267.4 480.2 L268.1 479.8 L268.9 480.0 L269.6 479.3 L270.4 479.3 L271.1 479.1 L271.9 479.1 L272.6 479.3 L273.4 478.7 L274.1 478.9 L274.9 478.5 L275.6 478.8 L276.4 477.4 L277.1 478.2 L277.9 478.1 L278.6 477.6 L279.4 478.2 L280.1 477.8 L280.9 478.0 L281.6 477.7 L282.4 477.5 L283.1 477.1 L283.9 476.6 L284.6 476.8 L285.4 476.6 L286.1 476.7 L286.9 476.3 L287.6 477.4 L288.4 475.7 L289.1 476.5 L289.9 475.8 L290.6 475.7 L291.4 476.0 L292.1 475.5 L292.9 475.0 L293.6 475.4 L294.4 475.0 L295.1 474.3 L295.9 474.9 L296.6 474.4 L297.4 474.4 L298.1 474.9 L298.9 474.9 L299.6 474.8 L300.4 475.8 L301.1 475.3 L301.9 475.0 L302.6 475.4 L303.4 475.4 L304.1 474.8 L304.9 475.1 L305.6 475.3 L306.4 476.6 L307.1 475.9 L307.9 476.0 L308.6 476.0 L309.4 476.6 L310.1 476.4 L310.9 477.1 L311.6 476.9 L312.4 477.3 L313.1 476.8 L313.9 477.0 L314.6 476.9 L315.4 477.1 L316.1 476.6 L316.9 477.1 L317.6 477.1 L318.4 477.3 L319.1 478.1 L319.9 477.8 L320.6 478.3 L321.4 478.2 L322.1 478.4 L322.9 478.5 L323.6 478.1 L324.4 478.6 L325.1 478.4 L325.9 478.4 L326.6 479.1 L327.4 479.5 L328.1 478.7 L328.9 479.9 L329.6 479.9 L330.4 479.6 L331.1 480.2 L331.9 480.6 L332.6 480.8 L333.4 480.9 L334.1 480.8 L334.9 481.5 L335.6 482.1 L336.4 482.3 L337.1 482.6 L337.9 482.8 L338.6 482.1 L339.4 482.3 L340.1 482.4 L340.9 482.5 L341.6 482.2 L342.4 482.3 L343.1 482.1 L343.9 482.7 L344.6 481.2 L345.4 481.8 L346.1 482.6 L346.9 481.8 L347.6 481.0 L348.4 481.6 L349.1 481.0 L349.9 481.2 L350.6 481.5 L351.4 481.9 L352.1 481.4 L352.9 481.4 L353.6 481.5 L354.4 481.1 L355.1 480.7 L355.9 480.9 L356.6 481.0 L357.4 480.7 L358.1 480.5 L358.9 480.5 L359.6 480.1 L360.4 480.2 L361.1 480.4 L361.9 480.3 L362.6 480.4 L363.4 480.8 L364.1 480.3 L364.9 480.5 L365.6 480.5 L366.4 480.9 L367.1 481.8 L367.9 481.8 L368.6 482.6 L369.4 482.5 L370.1 483.4 L370.9 483.7 L371.6 484.4 L372.4 484.4 L373.1 484.6 L373.9 484.7 L374.6 484.6 L375.4 485.1 L376.1 484.4 L376.9 484.2 L377.6 484.1 L378.4 484.3 L379.1 484.1 L379.9 484.1 L380.6 483.3 L381.4 484.5 L382.1 484.2 L382.9 483.5 L383.6 482.9 L384.4 483.3 L385.1 483.3 L385.9 482.3 L386.6 482.9 L387.4 482.3 L388.1 482.9 L388.9 483.1 L389.6 482.8 L390.4 481.9 L391.1 482.7 L391.9 482.5 L392.6 481.9 L393.4 482.1 L394.1 482.3 L394.9 481.6 L395.6 481.6 L396.4 481.3 L397.1 481.8 L397.9 480.6 L398.6 481.7 L399.4 480.7 L400.1 481.3 L400.9 480.3 L401.6 480.4 L402.4 480.4 L403.1 480.8 L403.9 479.9 L404.6 480.5 L405.4 480.2 L406.1 480.9 L406.9 480.4 L407.6 480.8 L408.4 480.7 L409.1 481.4 L409.9 480.8 L410.6 481.0 L411.4 481.7 L412.1 481.2 L412.9 481.5 L413.6 481.1 L414.4 481.5 L415.1 481.0 L415.9 482.1 L416.6 482.2 L417.4 482.2 L418.1 482.6 L418.9 483.8 L419.6 483.9 L420.4 483.5 L421.1 485.0 L421.9 484.5 L422.6 484.9 L423.4 485.2 L424.1 484.7 L424.9 484.5 L425.6 484.8 L426.4 485.4 L427.1 485.3 L427.9 484.4 L428.6 485.3 L429.4 484.9 L430.1 485.0 L430.9 484.9 L431.6 485.0 L432.4 484.5 L433.1 484.5 L433.9 484.5 L434.6 484.6 L435.4 484.9 L436.1 484.3 L436.9 485.2 L437.6 484.4 L438.4 484.4 L439.1 484.7 L439.9 484.2 L440.6 483.6 L441.4 483.1 L442.1 482.7 L442.9 482.2 L443.6 482.8 L444.4 482.4 L445.1 482.4 L445.9 481.6 L446.6 481.2 L447.4 481.0 L448.1 480.7 L448.9 480.0 L449.6 479.9 L450.4 480.1 L451.1 478.5 L451.9 478.3 L452.6 478.1 L453.4 478.3 L454.1 478.1 L454.9 477.3 L455.6 477.3 L456.4 476.7 L457.1 476.5 L457.9 475.9 L458.6 475.7 L459.4 475.8 L460.1 476.6 L460.9 477.3 L461.6 476.3 L462.4 477.5 L463.1 477.6 L463.9 478.3 L464.6 478.7 L465.4 478.9 L466.1 478.7 L466.9 477.8 L467.6 477.2 L468.4 478.1 L469.1 477.6 L469.9 476.6 L470.6 477.0 L471.4 476.5 L472.1 475.2 L472.9 476.0 L473.6 475.1 L474.4 475.5 L475.1 474.6 L475.9 474.3 L476.6 473.9 L477.4 474.2 L478.1 474.5 L478.9 473.8 L479.6 473.2 L480.4 474.4 L481.1 474.2 L481.9 473.7 L482.6 473.1 L483.4 472.8 L484.1 472.5 L484.9 473.1 L485.6 473.2 L486.4 472.3 L487.1 472.5 L487.9 472.3 L488.6 472.2 L489.4 472.3 L490.1 472.7 L490.9 471.7 L491.6 472.0 L492.4 472.0 L493.1 471.4 L493.9 471.3 L494.6 470.8 L495.4 471.5 L496.1 470.8 L496.9 470.6 L497.6 470.7 L498.4 470.3 L499.1 470.1 L499.9 470.2 L500.6 470.8 L501.4 470.5 L502.1 471.0 L502.9 470.6 L503.6 470.7 L504.4 472.3 L505.1 471.8 L505.9 471.7 L506.6 472.4 L507.4 472.9 L508.1 472.3 L508.9 472.5 L509.6 472.8 L510.4 472.3 L511.1 472.8 L511.9 472.8 L512.6 472.6 L513.4 472.2 L514.1 472.3 L514.9 472.0 L515.6 472.1 L516.4 472.2 L517.1 471.9 L517.9 472.2 L518.6 472.7 L519.4 471.6 L520.1 471.8 L520.9 471.9 L521.6 471.7 L522.4 471.4 L523.1 471.2 L523.9 471.6 L524.6 471.4 L525.4 471.3 L526.1 470.8 L526.9 471.2 L527.6 471.2 L528.4 470.8 L529.1 471.0 L529.9 471.4 L530.6 470.0 L531.4 470.8 L532.1 470.1 L532.9 470.0 L533.6 470.3 L534.4 470.4 L535.1 470.2 L535.9 469.7 L536.6 469.4 L537.4 469.6 L538.1 469.7 L538.9 469.3 L539.6 468.9 L540.4 469.9 L541.1 468.9 L541.9 469.0 L542.6 468.7 L543.4 468.6 L544.1 468.7 L544.9 468.5 L545.6 468.6 L546.4 467.9 L547.1 467.7 L547.9 468.7 L548.6 467.9 L549.4 468.1 L550.1 468.1 L550.9 467.7 L551.6 467.4 L552.4 466.8 L553.1 466.6 L553.9 467.4 L554.6 467.1 L555.4 466.8 L556.1 465.9 L556.9 465.5 L557.6 465.7 L558.4 465.5 L559.1 465.7 L559.9 465.2 L560.6 465.8 L561.4 464.9 L562.1 464.7 L562.9 465.0 L563.6 464.6 L564.4 464.0 L565.1 464.4 L565.9 465.1 L566.6 464.5 L567.4 465.3 L568.1 465.4 L568.9 465.6 L569.6 466.9 L570.4 467.4 L571.1 467.9 L571.9 468.2 L572.6 467.8 L573.4 469.0 L574.1 469.2 L574.9 469.5 L575.6 469.8 L576.4 470.3 L577.1 469.8 L577.9 470.4 L578.6 469.7 L579.4 468.8 L580.1 469.6 L580.9 469.6 L581.6 469.0 L582.4 468.4 L583.1 469.3 L583.9 468.1 L584.6 468.4 L585.4 467.6 L586.1 467.7 L586.9 467.4 L587.6 468.2 L588.4 468.1 L589.1 467.4 L589.9 466.9 L590.6 467.2 L591.4 467.2 L592.1 466.4 L592.9 466.4 L593.6 466.6 L594.4 466.7 L595.1 466.4 L595.9 466.3 L596.6 465.6 L597.4 465.0 L598.1 465.8 L598.9 465.3 L599.6 465.4 L600.4 465.2 L601.1 465.3 L601.9 464.7 L602.6 465.3 L603.4 464.7 L604.1 464.8 L604.9 464.7 L605.6 464.7 L606.4 464.4 L607.1 463.5 L607.9 463.8 L608.6 464.5 L609.4 464.0 L610.1 463.9 L610.9 463.7 L611.6 463.2 L612.4 463.1 L613.1 463.0 L613.9 463.5 L614.6 463.1 L615.4 463.5 L616.1 463.0 L616.9 463.3 L617.6 462.7 L618.4 462.0 L619.1 462.9 L619.9 462.3 L620.6 462.5 L621.4 462.1 L622.1 461.8 L622.9 461.8 L623.6 461.3 L624.4 461.1 L625.1 461.1 L625.9 461.2 L626.6 460.8 L627.4 461.1 L628.1 461.1 L628.9 461.6 L629.6 461.4 L630.4 460.6 L631.1 460.9 L631.9 460.4 L632.6 460.5 L633.4 460.2 L634.1 459.9 L634.9 460.0 L635.6 459.4 L636.4 459.9 L637.1 459.6 L637.9 459.2 L638.6 459.4 L639.4 459.7 L640.1 459.2 L640.9 459.6 L641.6 459.6 L642.4 459.9 L643.1 458.9 L643.9 459.2 L644.6 459.4 L645.4 459.7 L646.1 459.3 L646.9 459.4 L647.6 458.6 L648.4 458.8 L649.1 459.6 L649.9 458.9 L650.6 459.7 L651.4 458.6 L652.1 458.8 L652.9 458.3 L653.6 459.0 L654.4 458.8 L655.1 459.4 L655.9 458.7 L656.6 458.5 L657.4 458.1 L658.1 458.5 L658.9 458.8 L659.6 458.7 L660.4 458.9 L661.1 458.7 L661.9 458.8 L662.6 459.4 L663.4 459.7 L664.1 459.5 L664.9 460.9 L665.6 460.9 L666.4 460.8 L667.1 461.6 L667.9 461.9 L668.6 462.2 L669.4 462.4 L670.1 460.9 L670.9 462.2 L671.6 462.6 L672.4 461.8 L673.1 461.5 L673.9 462.3 L674.6 462.4 L675.4 462.4 L676.1 461.9 L676.9 462.2 L677.6 462.5 L678.4 462.7 L679.1 463.3 L679.9 462.7 L680.6 462.4 L681.4 461.8 L682.1 463.1 L682.9 462.7 L683.6 462.8 L684.4 462.5 L685.1 463.2 L685.9 462.3 L686.6 463.0 L687.4 463.1 L688.1 463.2 L688.9 463.6 L689.6 463.2 L690.4 463.3 L691.1 463.6 L691.9 462.8 L692.6 463.3 L693.4 463.3 L694.1 463.5 L694.9 462.8 L695.6 463.2 L696.4 462.9 L697.1 462.1 L697.9 462.0 L698.6 461.9 L699.4 462.3 L700.1 462.2 L700.9 462.2 L701.6 462.1 L702.4 461.5 L703.1 461.9 L703.9 461.7 L704.6 461.5 L705.4 461.6 L706.1 461.0 L706.9 461.7 L707.6 461.3 L708.4 461.4 L709.1 461.7 L709.9 462.0 L710.6 462.0 L711.4 462.0 L712.1 461.9 L712.9 462.4 L713.6 462.2 L714.4 462.0 L715.1 462.6 L715.9 463.2 L716.6 462.7 L717.4 462.5 L718.1 463.5 L718.9 463.7 L719.6 463.1 L720.4 463.2 L721.1 463.4 L721.9 464.4 L722.6 463.3 L723.4 463.5 L724.1 463.2 L724.9 462.4 L725.6 462.5 L726.4 462.4 L727.1 462.9 L727.9 462.7 L728.6 463.2 L729.4 462.4 L730.1 462.5 L730.9 462.3 L731.6 462.2 L732.4 462.9 L733.1 462.1 L733.9 462.4 L734.6 462.3 L735.4 461.5 L736.1 461.9 L736.9 461.4 L737.6 461.5 L738.4 461.4 L739.1 461.3 L739.9 461.0 L740.6 461.7 L741.4 460.9 L742.1 461.2 L742.9 461.4 L743.6 461.1 L744.4 461.5 L745.1 461.9 L745.9 462.0 L746.6 462.5 L747.4 461.6 L748.1 463.0 L748.9 462.6 L749.6 462.2 L750.4 462.8 L751.1 462.8 L751.9 463.4 L752.6 462.7 L753.4 462.8 L754.1 463.2 L754.9 463.0 L755.6 462.6 L756.4 462.7 L757.1 462.6 L757.9 462.6 L758.6 462.5 L759.4 462.3 L760.1 462.6 L760.9 461.6 L761.6 461.9 L762.4 462.0 L763.1 461.7 L763.9 461.6 L764.6 461.5 L765.4 461.6 L766.1 461.9 L766.9 461.3 L767.6 461.2 L768.4 461.3 L769.1 461.0 L769.9 460.3 L770.6 461.0 L771.4 460.6 L772.1 460.5 L772.9 460.8 L773.6 460.5 L774.4 460.2 L775.1 459.5 L775.9 459.6 L776.6 460.1 L777.4 459.9 L778.1 460.0 L778.9 459.8 L779.6 459.5 L780.4 459.1 L781.1 459.1 L781.9 459.3 L782.6 458.9 L783.4 459.4 L784.1 458.6 L784.9 458.3 L785.6 458.8 L786.4 458.2 L787.1 459.3 L787.9 458.4 L788.6 458.8 L789.4 458.8 L790.1 458.6 L790.9 458.4 L791.6 458.4 L792.4 459.4 L793.1 459.5 L793.9 460.0 L794.6 458.7 L795.4 459.5 L796.1 459.4 L796.9 459.7 L797.6 459.3 L798.4 459.8 L799.1 459.9 L799.9 459.8 L800.6 460.2 L801.4 459.7 L802.1 460.3 L802.9 459.6 L803.6 460.5 L804.4 459.0 L805.1 460.0 L805.9 459.8 L806.6 460.1 L807.4 460.5 L808.1 460.5 L808.9 460.3 L809.6 460.9 L810.4 459.9 L811.1 460.2 L811.9 461.0 L812.6 460.7 L813.4 459.9 L814.1 460.8 L814.9 460.3 L815.6 461.3 L816.4 461.2 L817.1 460.7 L817.9 461.4 L818.6 460.7 L819.4 461.4 L820.1 461.3 L820.9 461.1 L821.6 460.7 L822.4 461.2 L823.1 460.5 L823.9 461.2 L824.6 460.8 L825.4 461.9 L826.1 461.2 L826.9 460.7 L827.6 461.8 L828.4 461.8 L829.1 461.6 L829.9 462.5 L830.6 462.3 L831.4 462.3 L832.1 462.3 L832.9 461.7 L833.6 463.2 L834.4 463.6 L835.1 463.3 L835.9 463.3 L836.6 464.0 L837.4 463.5 L838.1 464.0 L838.9 464.2 L839.6 464.3 L840.4 463.8 L841.1 463.7 L841.9 463.8 L842.6 464.0 L843.4 463.3 L844.1 462.9 L844.9 462.9 L845.6 462.6 L846.4 462.6 L847.1 462.8 L847.9 462.8 L848.6 462.6 L849.4 462.5 L850.1 462.2 L850.9 462.4 L851.6 462.4 L852.4 462.3 L853.1 462.4 L853.9 461.6 L854.6 461.5 L855.4 462.1 L856.1 461.5 L856.9 461.4 L857.6 461.0 L858.4 461.4 L859.1 460.8 L859.9 460.4 L860.6 460.6 L861.4 460.4 L862.1 460.7 L862.9 460.2 L863.6 460.2 L864.4 460.0 L865.1 460.1 L865.9 459.6 L866.6 460.1 L867.4 459.1 L868.1 459.3 L868.9 459.1 L869.6 459.5 L870.4 459.1 L871.1 459.2 L871.9 458.8 L872.6 458.6 L873.4 458.4 L874.1 458.6 L874.9 458.4 L875.6 458.6 L876.4 458.6 L877.1 458.7 L877.9 458.2 L878.6 457.9 L879.4 457.7 L880.1 458.0 L880.9 458.0 L881.6 458.5 L882.4 457.8 L883.1 458.3 L883.9 458.2 L884.6 457.1 L885.4 457.8 L886.1 457.8 L886.9 458.0 L887.6 457.6 L888.4 458.0 L889.1 457.5 L889.9 457.7 L890.6 457.8 L891.4 458.5 L892.1 457.8 L892.9 458.3 L893.6 458.1 L894.4 457.8 L895.1 458.2 L895.9 458.4 L896.6 458.0 L897.4 458.5 L898.1 458.1 L898.9 458.1 L899.6 458.6 L900.4 458.5 L901.1 458.3 L901.9 458.1 L902.6 458.9 L903.4 459.2 L904.1 459.3 L904.9 459.8 L905.6 459.5 L906.4 460.5 L907.1 460.8 L907.9 461.0 L908.6 461.0 L909.4 461.6 L910.1 461.9 L910.9 462.5 L911.6 462.5 L912.4 462.8 L913.1 462.8 L913.9 463.6 L914.6 463.8 L915.4 463.3 L916.1 463.7 L916.9 463.7 L917.6 463.6 L918.4 463.2 L919.1 464.3 L919.9 463.1 L920.6 463.9 L921.4 463.7 L922.1 464.2 L922.9 463.7 L923.6 463.9 L924.4 464.2 L925.1 464.1 L925.9 463.8 L926.6 464.3 L927.4 464.2 L928.1 464.4 L928.9 463.8 L929.6 463.9 L930.4 463.7 L931.1 463.4 L931.9 463.7 L932.6 463.7 L933.4 464.0 L934.1 463.3 L934.9 463.5 L935.6 463.7 L936.4 463.2 L937.1 463.1 L937.9 463.1 L938.6 462.7 L939.4 462.5 L940.1 463.2 L940.9 462.8 L941.6 462.6 L942.4 462.2 L943.1 462.6 L943.9 462.8 L944.6 462.0 L945.4 462.0 L946.1 462.6 L946.9 462.6 L947.6 462.6 L948.4 461.8 L949.1 462.1 L949.9 461.5 L950.6 461.9 L951.4 461.5 L952.1 461.6 L952.9 461.9 L953.6 461.5 L954.4 461.2 L955.1 461.2 L955.9 461.2 L956.6 460.9 L957.4 461.0 L958.1 461.1 L958.9 461.3 L959.6 460.0 L960.4 460.2 L961.1 460.1 L961.9 460.8 L962.6 461.2 L963.4 460.4 L964.1 460.3 L964.9 460.5 L965.6 459.2 L966.4 459.9 L967.1 458.8 L967.9 459.8 L968.6 459.5 L969.4 459.5 L970.1 459.7 L970.9 459.3 L971.6 459.8 L972.4 459.3 L973.1 459.4 L973.9 460.0 L974.6 458.9 L975.4 459.3 L976.1 458.6 L976.9 459.2 L977.6 459.1 L978.4 458.8 L979.1 459.1 L979.9 459.3 L980.6 459.2 L981.4 458.8 L982.1 458.7 L982.9 459.2 L983.6 458.3 L984.4 458.6 L985.1 459.0 L985.9 459.0 L986.6 459.5 L987.4 459.5 L988.1 459.0 L988.9 459.0 L989.6 458.4 L990.4 458.8 L991.1 459.0 L991.9 458.8 L992.6 458.9 L993.4 459.1 L994.1 458.6 L994.9 458.8 L995.6 458.3 L996.4 459.4 L997.1 458.6 L997.9 458.4 L998.6 459.3 L999.4 458.9 L1000.1 459.4 L1000.9 458.9 L1001.6 459.8 L1002.4 459.3 L1003.1 459.1 L1003.9 459.1 L1004.6 459.0 L1005.4 459.4 L1006.1 459.9 L1006.9 459.1 L1007.6 459.0 L1008.4 459.6 L1009.1 459.8 L1009.9 459.0 L1010.6 459.3 L1011.4 459.3 L1012.1 459.9 L1012.9 459.9 L1013.6 459.5 L1014.4 459.5 L1015.1 460.1 L1015.9 459.3 L1016.6 460.2 L1017.4 460.0 L1018.1 460.8 L1018.9 460.5 L1019.6 460.1 L1020.4 460.2 L1021.1 460.3 L1021.9 460.2 L1022.6 460.5 L1023.4 460.9 L1024.1 460.1 L1024.8 460.6 L1025.6 461.2 L1026.3 461.0 L1027.1 460.5 L1027.8 460.6 L1028.6 460.7 L1029.3 460.4 L1030.1 461.5 L1030.8 461.1 L1031.6 460.9 L1032.3 460.7 L1033.1 461.2 L1033.8 461.5 L1034.6 462.7 L1035.3 462.4 L1036.1 463.1 L1036.8 463.9 L1037.6 464.2 L1038.3 464.3 L1039.1 464.1 L1039.8 465.8 L1040.6 465.9 L1041.3 465.6 L1042.1 465.6 L1042.8 465.2 L1043.6 465.1 L1044.3 464.8 L1045.1 465.4 L1045.8 465.3 L1046.6 465.1 L1047.3 465.2 L1048.1 465.0 L1048.8 464.7 L1049.6 464.3 L1050.3 464.7 L1051.1 464.8 L1051.8 464.5 L1052.6 464.6 L1053.3 463.9 L1054.1 463.5 L1054.8 464.1 L1055.6 463.2 L1056.3 463.3 L1057.1 462.9 L1057.8 462.8 L1058.6 462.4 L1059.3 462.1 L1060.1 461.5 L1060.8 462.5 L1061.6 461.7 L1062.3 460.7 L1063.1 460.9 L1063.8 460.6 L1064.6 460.5 L1065.3 459.6 L1066.1 460.5 L1066.8 460.6 L1067.6 459.8 L1068.3 459.9 L1069.1 459.7 L1069.8 458.9 L1070.6 459.7 L1071.3 458.5 L1072.1 458.8 L1072.8 458.7 L1073.6 459.2 L1074.3 458.7 L1075.1 458.4 L1075.8 458.1 L1076.6 458.3 L1077.3 458.1 L1078.1 458.2 L1078.8 458.3 L1079.6 458.0 L1080.3 457.6 L1081.1 457.4 L1081.8 457.9 L1082.6 457.3 L1083.3 457.1 L1084.1 457.6 L1084.8 457.4 L1085.6 456.9 L1086.3 456.6 L1087.1 456.3 L1087.8 456.7 L1088.6 456.1 L1089.3 456.5 L1090.1 455.7 L1090.8 455.9 L1091.6 455.9 L1092.3 456.0 L1093.1 456.5 L1093.8 457.1 L1094.6 457.0 L1095.3 457.5 L1096.1 458.3 L1096.8 459.5 L1097.6 459.3 L1098.3 459.5 L1099.1 460.0 L1099.8 460.7 L1100.6 461.6 L1101.3 461.5 L1102.1 462.3 L1102.8 462.1 L1103.6 461.9 L1104.3 461.6 L1105.1 461.8 L1105.8 461.6 L1106.6 461.9 L1107.3 461.1 L1108.1 462.0 L1108.8 461.8 L1109.6 461.7 L1110.3 462.0 L1111.1 461.6 L1111.8 460.8 L1112.6 461.3 L1113.3 461.4 L1114.1 460.9 L1114.8 460.7 L1115.6 461.2 L1116.3 461.2 L1117.1 460.8 L1117.8 460.8 L1118.6 460.6 L1119.3 460.1 L1120.1 459.6 L1120.8 460.2 L1121.6 459.6 L1122.3 460.2 L1123.1 461.1 L1123.8 460.9 L1124.6 461.1 L1125.3 461.6 L1126.1 461.2 L1126.8 461.3 L1127.6 461.4 L1128.3 461.7 L1129.1 462.5 L1129.8 463.0 L1130.6 462.8 L1131.3 462.9 L1132.1 463.5 L1132.8 463.8 L1133.6 463.9 L1134.3 463.4 L1135.1 464.1 L1135.8 463.7 L1136.6 464.5 L1137.3 463.9 L1138.1 463.8 L1138.8 464.3 L1139.6 464.0 L1140.3 463.5 L1141.1 463.3 L1141.8 463.0 L1142.6 462.5 L1143.3 462.5 L1144.1 463.0 L1144.8 461.8 L1145.6 461.7 L1146.3 461.7 L1147.1 461.8 L1147.8 461.5 L1148.6 460.7 L1149.3 460.8 L1150.1 460.5 L1150.8 460.0 L1151.6 460.2 L1152.3 460.1 L1153.1 460.7 L1153.8 460.7 L1154.6 460.5 L1155.3 461.0 L1156.1 461.1 L1156.8 461.2 L1157.6 461.4 L1158.3 462.1 L1159.1 461.8 L1159.8 461.6 L1160.6 462.1 L1161.3 462.8 L1162.1 463.5 L1162.8 462.5 L1163.6 462.6 L1164.3 462.4 L1165.1 461.8 L1165.8 462.2 L1166.6 461.9 L1167.3 461.8 L1168.1 462.3 L1168.8 461.2 L1169.6 461.4 L1170.3 461.2 L1171.1 460.5 L1171.8 460.4 L1172.6 460.9 L1173.3 460.4 L1174.1 460.0 L1174.8 459.4 L1175.6 459.9 L1176.3 459.6 L1177.1 459.9 L1177.8 459.5 L1178.6 459.1 L1179.3 458.7 L1180.1 458.4 L1180.8 458.0 L1181.6 458.1 L1182.3 458.0 L1183.1 458.0 L1183.8 458.1 L1184.6 457.7 L1185.3 457.3 L1186.1 457.7 L1186.8 457.9 L1187.6 457.0 L1188.3 457.3 L1189.1 457.3 L1189.8 457.2 L1190.6 457.1 L1191.3 456.8 L1192.1 456.7 L1192.8 457.3 L1193.6 457.2 L1194.3 456.0 L1195.1 455.6 L1195.8 456.5 L1196.6 456.0 L1197.3 456.1 L1198.1 456.2 L1198.8 457.4 L1199.6 457.7 L1200.3 458.0 L1201.1 459.0 L1201.8 460.0 L1202.6 460.2 L1203.3 460.5 L1204.1 460.5 L1204.8 461.3 L1205.6 461.6 L1206.3 462.5 L1207.1 462.4 L1207.8 462.2 L1208.6 462.5 L1209.3 462.1 L1210.1 462.7 L1210.8 463.0 L1211.6 462.4 L1212.3 462.8 L1213.1 462.1 L1213.8 463.1 L1214.6 463.1 L1215.3 462.6 L1216.1 463.6 L1216.8 463.1 L1217.6 462.5 L1218.3 462.7 L1219.1 463.6 L1219.8 463.2 L1220.6 463.8 L1221.3 462.8 L1222.1 463.2 L1222.8 463.4 L1223.6 462.8 L1224.3 463.1 L1225.1 462.7 L1225.8 462.8 L1226.6 462.7 L1227.3 463.2 L1228.1 461.9 L1228.8 462.5 L1229.6 462.6 L1230.3 461.7 L1231.1 462.0 L1231.8 462.6 L1232.6 462.1 L1233.3 460.6 L1234.1 461.4 L1234.8 460.8 L1235.6 461.4 L1236.3 461.0 L1237.1 460.9 L1237.8 460.7 L1238.6 461.0 L1239.3 460.7 L1240.1 460.7 L1240.8 461.2 L1241.6 461.6 L1242.3 461.3 L1243.1 462.2 L1243.8 461.5 L1244.6 462.4 L1245.3 462.3 L1246.1 463.1 L1246.8 462.6 L1247.6 462.8 L1248.3 462.7 L1249.1 464.1 L1249.8 463.8 L1250.6 463.4 L1251.3 463.9 L1252.1 463.7 L1252.8 464.4 L1253.6 463.8 L1254.3 462.8 L1255.1 463.4 L1255.8 463.4 L1256.6 463.0 L1257.3 462.9 L1258.1 462.6 L1258.8 462.5 L1259.6 462.3 L1260.3 461.8 L1261.1 462.0 L1261.8 461.8 L1262.6 461.5 L1263.3 461.1 L1264.1 460.8 L1264.8 461.1 L1265.6 461.1 L1266.3 459.8 L1267.1 460.3 L1267.8 460.7 L1268.6 460.4 L1269.3 459.7 L1270.1 460.2 L1270.8 459.2 L1271.6 459.1 L1272.3 459.9 L1273.1 458.9 L1273.8 458.8 L1274.6 458.1 L1275.3 458.1 L1276.1 457.9 L1276.8 458.1 L1277.6 457.3 L1278.3 458.1 L1279.1 457.5 L1279.8 457.2 L1280.6 457.0 L1281.3 457.4 L1282.1 457.9 L1282.8 457.5 L1283.6 458.4 L1284.3 458.6 L1285.1 458.7 L1285.8 458.6 L1286.6 458.2 L1287.3 459.1 L1288.1 459.0 L1288.8 459.4 L1289.6 458.9 L1290.3 459.7 L1291.1 460.1 L1291.8 459.9 L1292.6 460.5 L1293.3 461.2 L1294.1 460.9 L1294.8 460.8 L1295.6 462.1 L1296.3 460.7 L1297.1 461.4 L1297.8 462.0 L1298.6 461.9 L1299.3 461.6 L1300.1 462.6 L1300.8 463.1 L1301.6 462.6 L1302.3 463.3 L1303.1 462.8 L1303.8 462.9 L1304.6 461.9 L1305.3 462.3 L1306.1 462.8 L1306.8 462.8 L1307.6 462.5 L1308.3 461.9 L1309.1 461.9 L1309.8 461.5 L1310.6 462.0 L1311.3 461.2 L1312.1 461.4 L1312.8 460.6 L1313.6 460.6 L1314.3 461.7 L1315.1 461.0 L1315.8 460.9 L1316.6 460.0 L1317.3 460.6 L1318.1 461.2 L1318.8 459.9 L1319.6 459.5 L1320.3 460.1 L1321.1 459.9 L1321.8 459.9 L1322.6 459.5 L1323.3 459.3 L1324.1 459.2 L1324.8 459.8 L1325.6 459.4 L1326.3 459.6 L1327.1 458.9 L1327.8 459.3 L1328.6 458.6 L1329.3 458.3 L1330.1 458.0 L1330.8 457.2 L1331.6 456.6 L1332.3 455.6 L1333.1 455.7 L1333.8 455.4 L1334.6 454.4 L1335.3 454.5 L1336.1 454.0 L1336.8 454.3 L1337.6 455.0 L1338.3 455.4 L1339.1 454.9 L1339.8 454.5 L1340.6 455.1 L1341.3 454.7 L1342.1 455.3 L1342.8 456.1 L1343.6 455.6 L1344.3 455.6 L1345.1 456.2 L1345.8 456.5 L1346.6 457.4 L1347.3 458.0 L1348.1 458.8 L1348.8 458.9 L1349.6 459.7 L1350.3 459.5 L1351.1 458.2 L1351.8 457.8 L1352.6 458.1 L1353.3 458.7 L1354.1 458.0 L1354.8 457.9 L1355.6 457.7 L1356.3 457.5 L1357.1 457.0 L1357.8 457.1 L1358.6 457.6 L1359.3 457.9 L1360.1 458.0 L1360.8 458.1 L1361.6 458.0 L1362.3 458.7 L1363.1 458.6 L1363.8 459.0 L1364.6 457.7 L1365.3 458.7 L1366.1 457.2 L1366.8 457.9 L1367.6 457.3 L1368.3 457.3 L1369.1 456.9 L1369.8 456.7 L1370.6 456.9 L1371.3 457.1 L1372.1 456.9 L1372.8 456.5 L1373.6 457.3 L1374.3 458.0 L1375.1 457.7 L1375.8 458.3 L1376.6 458.2 L1377.3 458.5 L1378.1 459.8 L1378.8 460.5 L1379.6 460.5 L1380.3 461.0 L1381.1 461.9 L1381.8 461.7 L1382.6 462.4 L1383.3 463.7 L1384.1 463.7 L1384.8 463.2 L1385.6 463.1 L1386.3 463.4 L1387.1 462.8 L1387.8 463.1 L1388.6 463.1 L1389.3 462.3 L1390.1 463.4 L1390.8 463.4 L1391.6 463.5 L1392.3 462.6 L1393.1 462.6 L1393.8 462.7 L1394.6 462.5 L1395.3 463.7 L1396.1 462.6 L1396.8 462.8 L1397.6 462.8 L1398.3 462.8 L1399.1 462.9 L1399.8 461.9 L1400.6 462.4 L1401.3 462.0 L1402.1 461.4 L1402.8 461.7 L1403.6 461.0 L1404.3 461.9 L1405.1 460.9 L1405.8 461.4 L1406.6 461.3 L1407.3 460.5 L1408.1 460.3 L1408.8 460.5 L1409.6 459.9 L1410.3 460.4 L1411.1 460.3 L1411.8 460.0 L1412.6 460.2 L1413.3 460.8 L1414.1 460.1 L1414.8 461.3 L1415.6 460.5 L1416.3 460.8 L1417.1 460.7 L1417.8 461.7 L1418.6 461.5 L1419.3 461.8 L1420.1 461.6 L1420.8 461.5 L1421.6 462.2 L1422.3 461.9 L1423.1 462.0 L1423.8 462.0" stroke="#98df8a" stroke-width="3.7" fill="none" stroke-linejoin="round" stroke-linecap="butt"/>
<path d="M227.2 780.3 L1424.0 777.9" stroke="#d62728" stroke-width="3.7" fill="none" stroke-linejoin="round" stroke-linecap="butt"/>
<path d="M227.2 742.0 L1424.0 740.2" stroke="#ff9896" stroke-width="3.7" fill="none" stroke-linejoin="round" stroke-linecap="butt"/>
<path d="M227.6 640.2 L228.3 640.1 L229.1 639.9 L229.8 639.4 L230.6 640.5 L231.3 639.5 L232.1 639.2 L232.8 639.6 L233.6 640.3 L234.3 640.1 L235.1 639.5 L235.8 639.7 L236.6 639.6 L237.3 639.0 L238.1 639.5 L238.8 639.6 L239.6 639.8 L240.3 639.1 L241.1 638.8 L241.8 638.9 L242.6 639.5 L243.3 639.4 L244.1 639.3 L244.8 639.3 L245.6 639.1 L246.3 638.8 L247.1 639.3 L247.8 639.3 L248.6 639.3 L249.3 639.5 L250.1 638.7 L250.8 638.3 L251.6 638.5 L252.3 639.6 L253.1 638.6 L253.8 639.1 L254.6 639.1 L255.3 639.5 L256.1 640.5 L256.9 639.5 L257.6 639.8 L258.4 639.9 L259.1 640.3 L259.9 640.6 L260.6 640.3 L261.4 641.1 L262.1 641.3 L262.9 641.2 L263.6 641.0 L264.4 640.9 L265.1 640.4 L265.9 641.0 L266.6 640.5 L267.4 640.6 L268.1 641.0 L268.9 640.3 L269.6 640.4 L270.4 640.7 L271.1 641.0 L271.9 640.2 L272.6 640.6 L273.4 640.0 L274.1 640.3 L274.9 640.3 L275.6 639.7 L276.4 640.3 L277.1 640.5 L277.9 639.9 L278.6 639.9 L279.4 639.4 L280.1 640.2 L280.9 639.6 L281.6 639.2 L282.4 639.7 L283.1 639.0 L283.9 639.2 L284.6 638.7 L285.4 639.7 L286.1 639.9 L286.9 639.0 L287.6 638.9 L288.4 638.8 L289.1 638.8 L289.9 639.1 L290.6 639.3 L291.4 638.5 L292.1 638.8 L292.9 638.1 L293.6 639.1 L294.4 638.5 L295.1 638.3 L295.9 638.9 L296.6 638.3 L297.4 638.7 L298.1 638.7 L298.9 638.9 L299.6 638.2 L300.4 638.5 L301.1 638.6 L301.9 638.5 L302.6 639.1 L303.4 638.4 L304.1 639.0 L304.9 639.1 L305.6 638.2 L306.4 638.5 L307.1 638.6 L307.9 638.7 L308.6 639.1 L309.4 638.9 L310.1 639.0 L310.9 638.9 L311.6 639.1 L312.4 639.3 L313.1 639.4 L313.9 639.0 L314.6 639.2 L315.4 639.1 L316.1 639.3 L316.9 639.0 L317.6 639.7 L318.4 639.7 L319.1 639.5 L319.9 639.4 L320.6 639.5 L321.4 639.5 L322.1 639.2 L322.9 640.2 L323.6 640.8 L324.4 639.5 L325.1 639.5 L325.9 640.1 L326.6 640.1 L327.4 639.5 L328.1 639.5 L328.9 640.3 L329.6 639.6 L330.4 640.7 L331.1 640.3 L331.9 640.5 L332.6 640.6 L333.4 640.5 L334.1 640.7 L334.9 640.7 L335.6 641.3 L336.4 640.9 L337.1 641.0 L337.9 640.9 L338.6 640.9 L339.4 640.8 L340.1 641.0 L340.9 641.5 L341.6 641.3 L342.4 641.0 L343.1 641.4 L343.9 641.1 L344.6 640.9 L345.4 640.7 L346.1 640.4 L346.9 640.8 L347.6 640.6 L348.4 640.2 L349.1 640.2 L349.9 641.2 L350.6 640.6 L351.4 640.7 L352.1 640.6 L352.9 640.3 L353.6 640.6 L354.4 640.7 L355.1 640.3 L355.9 640.5 L356.6 640.6 L357.4 640.1 L358.1 640.3 L358.9 640.0 L359.6 640.4 L360.4 640.1 L361.1 640.5 L361.9 639.9 L362.6 640.6 L363.4 639.9 L364.1 639.8 L364.9 639.9 L365.6 640.7 L366.4 640.5 L367.1 641.6 L367.9 641.7 L368.6 641.7 L369.4 641.4 L370.1 642.1 L370.9 642.2 L371.6 642.1 L372.4 642.9 L373.1 643.4 L373.9 642.6 L374.6 642.9 L375.4 643.1 L376.1 642.4 L376.9 642.5 L377.6 642.7 L378.4 642.7 L379.1 642.2 L379.9 642.6 L380.6 642.4 L381.4 642.7 L382.1 641.9 L382.9 642.2 L383.6 642.2 L384.4 642.2 L385.1 642.5 L385.9 642.1 L386.6 643.1 L387.4 642.0 L388.1 642.5 L388.9 642.5 L389.6 642.4 L390.4 642.1 L391.1 641.8 L391.9 642.0 L392.6 642.2 L393.4 642.0 L394.1 642.2 L394.9 642.1 L395.6 641.7 L396.4 641.6 L397.1 642.3 L397.9 641.7 L398.6 641.3 L399.4 642.4 L400.1 641.5 L400.9 641.5 L401.6 642.0 L402.4 641.3 L403.1 641.4 L403.9 641.9 L404.6 641.4 L405.4 642.4 L406.1 641.8 L406.9 642.7 L407.6 642.0 L408.4 642.1 L409.1 642.0 L409.9 642.2 L410.6 642.2 L411.4 642.5 L412.1 642.8 L412.9 642.3 L413.6 642.5 L414.4 642.2 L415.1 643.4 L415.9 643.0 L416.6 643.2 L417.4 643.2 L418.1 643.7 L418.9 643.5 L419.6 643.8 L420.4 643.6 L421.1 643.7 L421.9 643.8 L422.6 643.4 L423.4 644.3 L424.1 643.5 L424.9 643.7 L425.6 644.2 L426.4 644.0 L427.1 644.2 L427.9 644.5 L428.6 644.6 L429.4 644.4 L430.1 643.9 L430.9 644.6 L431.6 643.7 L432.4 644.0 L433.1 644.3 L433.9 643.9 L434.6 644.0 L435.4 643.9 L436.1 644.4 L436.9 643.3 L437.6 644.4 L438.4 644.3 L439.1 643.8 L439.9 643.9 L440.6 643.3 L441.4 643.8 L442.1 644.3 L442.9 642.9 L443.6 643.5 L444.4 642.9 L445.1 642.7 L445.9 642.6 L446.6 642.5 L447.4 642.1 L448.1 641.9 L448.9 642.7 L449.6 642.1 L450.4 642.1 L451.1 641.9 L451.9 641.8 L452.6 641.1 L453.4 641.2 L454.1 641.5 L454.9 641.5 L455.6 640.7 L456.4 640.8 L457.1 640.5 L457.9 640.9 L458.6 640.8 L459.4 640.8 L460.1 640.7 L460.9 641.1 L461.6 641.2 L462.4 641.1 L463.1 641.5 L463.9 641.3 L464.6 641.9 L465.4 642.0 L466.1 641.7 L466.9 642.2 L467.6 641.9 L468.4 641.6 L469.1 641.4 L469.9 641.1 L470.6 641.2 L471.4 641.5 L472.1 641.7 L472.9 641.0 L473.6 641.2 L474.4 641.1 L475.1 641.2 L475.9 641.0 L476.6 641.1 L477.4 640.9 L478.1 640.3 L478.9 640.6 L479.6 639.7 L480.4 640.2 L481.1 640.2 L481.9 640.3 L482.6 639.9 L483.4 640.2 L484.1 640.2 L484.9 639.5 L485.6 639.5 L486.4 639.6 L487.1 639.6 L487.9 639.4 L488.6 639.5 L489.4 638.8 L490.1 639.3 L490.9 639.3 L491.6 639.2 L492.4 638.9 L493.1 638.6 L493.9 638.7 L494.6 638.5 L495.4 637.9 L496.1 638.1 L496.9 638.2 L497.6 638.0 L498.4 637.8 L499.1 637.9 L499.9 637.7 L500.6 637.9 L501.4 638.1 L502.1 638.4 L502.9 638.9 L503.6 638.8 L504.4 639.1 L505.1 638.9 L505.9 638.6 L506.6 639.6 L507.4 640.1 L508.1 640.0 L508.9 640.1 L509.6 639.9 L510.4 640.5 L511.1 640.1 L511.9 640.3 L512.6 640.5 L513.4 640.3 L514.1 640.8 L514.9 640.1 L515.6 640.4 L516.4 640.3 L517.1 639.9 L517.9 640.1 L518.6 639.9 L519.4 639.7 L520.1 640.1 L520.9 639.7 L521.6 640.3 L522.4 639.5 L523.1 639.5 L523.9 639.6 L524.6 639.3 L525.4 639.4 L526.1 639.1 L526.9 638.8 L527.6 638.4 L528.4 638.7 L529.1 639.4 L529.9 639.0 L530.6 638.9 L531.4 638.6 L532.1 638.6 L532.9 638.6 L533.6 638.1 L534.4 638.1 L535.1 638.0 L535.9 638.6 L536.6 637.8 L537.4 638.4 L538.1 637.8 L538.9 638.7 L539.6 637.8 L540.4 637.7 L541.1 638.0 L541.9 637.8 L542.6 637.7 L543.4 637.1 L544.1 637.6 L544.9 637.7 L545.6 637.1 L546.4 636.9 L547.1 636.6 L547.9 637.2 L548.6 636.9 L549.4 636.7 L550.1 636.2 L550.9 637.0 L551.6 636.7 L552.4 636.4 L553.1 636.7 L553.9 635.9 L554.6 636.4 L555.4 635.7 L556.1 636.4 L556.9 635.8 L557.6 636.1 L558.4 635.6 L559.1 635.7 L559.9 635.9 L560.6 635.2 L561.4 635.4 L562.1 635.0 L562.9 635.4 L563.6 634.9 L564.4 634.9 L565.1 634.9 L565.9 635.5 L566.6 635.1 L567.4 635.6 L568.1 635.8 L568.9 636.0 L569.6 636.3 L570.4 636.7 L571.1 637.1 L571.9 636.9 L572.6 637.7 L573.4 637.5 L574.1 638.2 L574.9 638.9 L575.6 637.9 L576.4 638.1 L577.1 638.0 L577.9 638.3 L578.6 637.7 L579.4 637.3 L580.1 637.2 L580.9 637.7 L581.6 637.7 L582.4 637.8 L583.1 637.3 L583.9 637.5 L584.6 637.0 L585.4 637.6 L586.1 637.1 L586.9 636.8 L587.6 637.0 L588.4 637.4 L589.1 636.6 L589.9 636.4 L590.6 636.4 L591.4 636.2 L592.1 636.5 L592.9 636.5 L593.6 636.3 L594.4 636.3 L595.1 636.6 L595.9 636.0 L596.6 635.7 L597.4 635.3 L598.1 636.0 L598.9 635.6 L599.6 635.7 L600.4 635.8 L601.1 635.7 L601.9 635.1 L602.6 635.2 L603.4 635.4 L604.1 635.2 L604.9 635.6 L605.6 635.0 L606.4 634.4 L607.1 635.3 L607.9 634.4 L608.6 634.5 L609.4 634.9 L610.1 634.4 L610.9 635.4 L611.6 634.6 L612.4 634.6 L613.1 634.2 L613.9 635.0 L614.6 634.4 L615.4 633.9 L616.1 634.5 L616.9 633.5 L617.6 633.7 L618.4 633.9 L619.1 633.8 L619.9 633.4 L620.6 634.1 L621.4 634.0 L622.1 633.2 L622.9 633.5 L623.6 633.1 L624.4 633.1 L625.1 633.5 L625.9 633.1 L626.6 633.0 L627.4 633.0 L628.1 632.5 L628.9 633.1 L629.6 632.5 L630.4 633.0 L631.1 632.4 L631.9 632.3 L632.6 632.8 L633.4 632.4 L634.1 632.1 L634.9 632.0 L635.6 632.3 L636.4 632.6 L637.1 632.1 L637.9 631.8 L638.6 631.5 L639.4 631.7 L640.1 631.8 L640.9 631.9 L641.6 631.7 L642.4 632.2 L643.1 631.5 L643.9 631.6 L644.6 632.0 L645.4 631.9 L646.1 631.7 L646.9 632.1 L647.6 631.3 L648.4 632.3 L649.1 632.4 L649.9 632.3 L650.6 631.8 L651.4 632.3 L652.1 631.7 L652.9 632.1 L653.6 631.6 L654.4 631.7 L655.1 631.8 L655.9 631.1 L656.6 631.6 L657.4 632.2 L658.1 630.8 L658.9 631.7 L659.6 631.9 L660.4 631.7 L661.1 631.7 L661.9 632.3 L662.6 632.2 L663.4 631.8 L664.1 632.3 L664.9 632.7 L665.6 633.1 L666.4 633.1 L667.1 633.1 L667.9 633.7 L668.6 632.3 L669.4 633.5 L670.1 633.4 L670.9 633.3 L671.6 633.1 L672.4 633.1 L673.1 633.2 L673.9 633.1 L674.6 632.8 L675.4 633.2 L676.1 632.7 L676.9 633.0 L677.6 632.9 L678.4 632.6 L679.1 633.1 L679.9 632.9 L680.6 632.5 L681.4 632.9 L682.1 632.5 L682.9 633.3 L683.6 633.0 L684.4 633.4 L685.1 632.6 L685.9 633.0 L686.6 632.5 L687.4 632.5 L688.1 632.7 L688.9 632.8 L689.6 633.0 L690.4 632.6 L691.1 633.0 L691.9 633.0 L692.6 632.4 L693.4 632.6 L694.1 632.3 L694.9 633.1 L695.6 632.4 L696.4 632.8 L697.1 632.8 L697.9 632.5 L698.6 632.4 L699.4 632.6 L700.1 632.3 L700.9 632.1 L701.6 632.2 L702.4 632.5 L703.1 632.5 L703.9 632.9 L704.6 631.9 L705.4 632.5 L706.1 632.0 L706.9 632.7 L707.6 632.5 L708.4 632.4 L709.1 632.7 L709.9 632.2 L710.6 632.1 L711.4 631.9 L712.1 632.0 L712.9 632.3 L713.6 632.4 L714.4 632.6 L715.1 632.1 L715.9 631.9 L716.6 632.1 L717.4 632.0 L718.1 632.0 L718.9 632.0 L719.6 631.8 L720.4 632.1 L721.1 631.9 L721.9 632.0 L722.6 631.6 L723.4 632.1 L724.1 632.2 L724.9 632.2 L725.6 631.8 L726.4 631.6 L727.1 631.5 L727.9 631.6 L728.6 631.7 L729.4 631.8 L730.1 631.3 L730.9 632.1 L731.6 631.4 L732.4 631.6 L733.1 631.6 L733.9 632.0 L734.6 632.3 L735.4 631.7 L736.1 631.7 L736.9 631.6 L737.6 631.7 L738.4 631.7 L739.1 632.4 L739.9 631.3 L740.6 631.6 L741.4 631.4 L742.1 631.7 L742.9 631.5 L743.6 631.9 L744.4 631.7 L745.1 632.9 L745.9 632.5 L746.6 632.2 L747.4 633.2 L748.1 633.1 L748.9 633.1 L749.6 633.9 L750.4 633.8 L751.1 634.5 L751.9 634.2 L752.6 634.6 L753.4 634.3 L754.1 634.4 L754.9 634.2 L755.6 634.0 L756.4 634.0 L757.1 634.2 L757.9 634.2 L758.6 633.8 L759.4 634.6 L760.1 634.4 L760.9 633.5 L761.6 634.1 L762.4 633.7 L763.1 633.8 L763.9 633.4 L764.6 634.1 L765.4 633.3 L766.1 633.5 L766.9 633.2 L767.6 634.0 L768.4 633.7 L769.1 632.9 L769.9 633.1 L770.6 633.3 L771.4 633.0 L772.1 633.0 L772.9 632.8 L773.6 633.1 L774.4 632.7 L775.1 633.2 L775.9 633.6 L776.6 632.7 L777.4 633.3 L778.1 632.9 L778.9 632.5 L779.6 632.6 L780.4 632.3 L781.1 632.6 L781.9 632.7 L782.6 632.7 L783.4 632.3 L784.1 632.0 L784.9 632.3 L785.6 632.8 L786.4 632.3 L787.1 632.2 L787.9 631.6 L788.6 632.2 L789.4 632.5 L790.1 632.1 L790.9 632.8 L791.6 632.3 L792.4 632.2 L793.1 632.3 L793.9 632.5 L794.6 632.9 L795.4 632.5 L796.1 632.1 L796.9 632.7 L797.6 632.9 L798.4 633.2 L799.1 632.5 L799.9 633.3 L800.6 633.1 L801.4 633.1 L802.1 632.7 L802.9 632.8 L803.6 632.8 L804.4 633.4 L805.1 633.2 L805.9 633.5 L806.6 633.7 L807.4 633.3 L808.1 633.3 L808.9 633.9 L809.6 633.0 L810.4 633.3 L811.1 633.3 L811.9 633.4 L812.6 633.6 L813.4 633.3 L814.1 633.9 L814.9 633.2 L815.6 633.4 L816.4 633.2 L817.1 633.3 L817.9 634.0 L818.6 634.0 L819.4 633.8 L820.1 634.1 L820.9 634.1 L821.6 633.8 L822.4 634.0 L823.1 634.2 L823.9 634.7 L824.6 634.0 L825.4 634.3 L826.1 634.4 L826.9 634.6 L827.6 634.4 L828.4 634.6 L829.1 634.0 L829.9 634.3 L830.6 633.9 L831.4 634.5 L832.1 635.3 L832.9 634.8 L833.6 634.8 L834.4 635.0 L835.1 635.0 L835.9 634.7 L836.6 635.0 L837.4 635.1 L838.1 635.2 L838.9 634.8 L839.6 635.0 L840.4 634.7 L841.1 634.5 L841.9 634.6 L842.6 634.5 L843.4 635.0 L844.1 635.1 L844.9 634.8 L845.6 634.5 L846.4 634.3 L847.1 634.0 L847.9 634.2 L848.6 634.8 L849.4 634.6 L850.1 634.3 L850.9 634.1 L851.6 634.1 L852.4 634.2 L853.1 634.0 L853.9 634.1 L854.6 633.7 L855.4 633.8 L856.1 633.7 L856.9 634.0 L857.6 633.3 L858.4 634.0 L859.1 633.5 L859.9 633.4 L860.6 633.4 L861.4 633.4 L862.1 633.3 L862.9 633.4 L863.6 633.0 L864.4 632.7 L865.1 633.3 L865.9 633.0 L866.6 633.5 L867.4 633.1 L868.1 632.3 L868.9 633.2 L869.6 632.6 L870.4 632.9 L871.1 633.3 L871.9 632.9 L872.6 632.2 L873.4 632.5 L874.1 632.0 L874.9 632.6 L875.6 632.5 L876.4 632.0 L877.1 632.4 L877.9 632.4 L878.6 632.3 L879.4 631.9 L880.1 631.8 L880.9 631.6 L881.6 631.5 L882.4 631.9 L883.1 631.8 L883.9 632.1 L884.6 631.7 L885.4 631.5 L886.1 631.2 L886.9 632.2 L887.6 631.8 L888.4 631.9 L889.1 631.6 L889.9 631.7 L890.6 632.3 L891.4 631.9 L892.1 632.4 L892.9 632.5 L893.6 632.3 L894.4 632.0 L895.1 632.6 L895.9 633.0 L896.6 632.4 L897.4 632.4 L898.1 633.1 L898.9 632.9 L899.6 632.8 L900.4 633.4 L901.1 633.0 L901.9 633.3 L902.6 633.2 L903.4 633.3 L904.1 633.7 L904.9 633.6 L905.6 633.5 L906.4 634.1 L907.1 634.8 L907.9 634.9 L908.6 635.4 L909.4 635.2 L910.1 635.6 L910.9 635.4 L911.6 635.4 L912.4 635.8 L913.1 635.6 L913.9 636.3 L914.6 636.0 L915.4 636.2 L916.1 635.8 L916.9 636.1 L917.6 636.4 L918.4 636.0 L919.1 635.9 L919.9 636.2 L920.6 636.4 L921.4 636.0 L922.1 635.8 L922.9 635.6 L923.6 635.7 L924.4 636.4 L925.1 636.1 L925.9 636.2 L926.6 636.4 L927.4 636.2 L928.1 636.2 L928.9 635.9 L929.6 635.5 L930.4 636.1 L931.1 635.9 L931.9 636.0 L932.6 635.5 L933.4 635.7 L934.1 636.3 L934.9 635.4 L935.6 635.7 L936.4 636.0 L937.1 635.5 L937.9 635.5 L938.6 634.8 L939.4 635.6 L940.1 635.2 L940.9 635.7 L941.6 635.3 L942.4 635.1 L943.1 635.3 L943.9 635.1 L944.6 635.0 L945.4 635.5 L946.1 635.3 L946.9 635.0 L947.6 635.2 L948.4 635.1 L949.1 635.0 L949.9 634.8 L950.6 634.8 L951.4 634.8 L952.1 634.8 L952.9 634.7 L953.6 634.4 L954.4 634.5 L955.1 634.6 L955.9 634.2 L956.6 634.4 L957.4 634.6 L958.1 634.4 L958.9 634.2 L959.6 634.2 L960.4 634.1 L961.1 634.4 L961.9 634.0 L962.6 633.6 L963.4 633.7 L964.1 634.1 L964.9 634.0 L965.6 633.8 L966.4 633.5 L967.1 633.8 L967.9 633.5 L968.6 633.5 L969.4 633.7 L970.1 633.4 L970.9 633.7 L971.6 633.3 L972.4 633.4 L973.1 633.4 L973.9 633.9 L974.6 633.8 L975.4 633.6 L976.1 633.1 L976.9 633.3 L977.6 633.5 L978.4 633.5 L979.1 632.8 L979.9 633.3 L980.6 633.1 L981.4 633.5 L982.1 633.5 L982.9 633.2 L983.6 634.0 L984.4 633.3 L985.1 634.1 L985.9 633.4 L986.6 633.4 L987.4 634.0 L988.1 633.4 L988.9 633.4 L989.6 634.0 L990.4 633.6 L991.1 633.7 L991.9 633.3 L992.6 634.2 L993.4 634.0 L994.1 633.8 L994.9 633.9 L995.6 633.6 L996.4 633.6 L997.1 633.3 L997.9 633.9 L998.6 634.2 L999.4 634.1 L1000.1 634.2 L1000.9 634.1 L1001.6 633.7 L1002.4 633.6 L1003.1 634.2 L1003.9 634.1 L1004.6 634.3 L1005.4 634.0 L1006.1 633.8 L1006.9 634.2 L1007.6 634.0 L1008.4 633.7 L1009.1 634.0 L1009.9 633.9 L1010.6 633.9 L1011.4 634.1 L1012.1 634.5 L1012.9 635.0 L1013.6 634.8 L1014.4 634.2 L1015.1 634.7 L1015.9 634.4 L1016.6 634.5 L1017.4 634.2 L1018.1 634.4 L1018.9 634.0 L1019.6 635.0 L1020.4 634.3 L1021.1 634.7 L1021.9 634.4 L1022.6 634.7 L1023.4 634.3 L1024.1 634.5 L1024.8 634.9 L1025.6 634.8 L1026.3 634.1 L1027.1 635.0 L1027.8 634.4 L1028.6 634.8 L1029.3 634.9 L1030.1 634.6 L1030.8 634.7 L1031.6 634.8 L1032.3 635.0 L1033.1 635.2 L1033.8 635.5 L1034.6 635.5 L1035.3 636.3 L1036.1 635.7 L1036.8 636.8 L1037.6 636.5 L1038.3 637.1 L1039.1 637.1 L1039.8 637.5 L1040.6 637.5 L1041.3 637.8 L1042.1 638.2 L1042.8 637.6 L1043.6 637.5 L1044.3 637.4 L1045.1 637.5 L1045.8 637.2 L1046.6 637.2 L1047.3 637.1 L1048.1 637.4 L1048.8 637.2 L1049.6 636.5 L1050.3 636.6 L1051.1 636.7 L1051.8 636.8 L1052.6 636.8 L1053.3 636.4 L1054.1 637.0 L1054.8 636.2 L1055.6 636.6 L1056.3 636.5 L1057.1 636.5 L1057.8 636.0 L1058.6 636.0 L1059.3 635.3 L1060.1 635.2 L1060.8 635.4 L1061.6 635.7 L1062.3 635.7 L1063.1 635.3 L1063.8 635.6 L1064.6 635.4 L1065.3 635.5 L1066.1 634.6 L1066.8 634.7 L1067.6 634.6 L1068.3 634.5 L1069.1 635.2 L1069.8 634.4 L1070.6 634.3 L1071.3 634.3 L1072.1 634.6 L1072.8 634.2 L1073.6 634.4 L1074.3 634.3 L1075.1 633.8 L1075.8 633.3 L1076.6 633.6 L1077.3 633.4 L1078.1 634.2 L1078.8 633.4 L1079.6 633.2 L1080.3 633.6 L1081.1 633.4 L1081.8 633.0 L1082.6 633.5 L1083.3 633.4 L1084.1 633.1 L1084.8 632.8 L1085.6 632.6 L1086.3 632.2 L1087.1 632.8 L1087.8 632.8 L1088.6 632.3 L1089.3 632.5 L1090.1 633.4 L1090.8 632.0 L1091.6 631.7 L1092.3 632.6 L1093.1 632.5 L1093.8 632.8 L1094.6 633.4 L1095.3 633.5 L1096.1 634.1 L1096.8 634.3 L1097.6 634.7 L1098.3 634.7 L1099.1 634.3 L1099.8 635.7 L1100.6 635.1 L1101.3 636.2 L1102.1 636.2 L1102.8 635.7 L1103.6 636.1 L1104.3 636.4 L1105.1 635.8 L1105.8 636.1 L1106.6 635.9 L1107.3 635.8 L1108.1 635.9 L1108.8 636.5 L1109.6 636.3 L1110.3 636.1 L1111.1 636.1 L1111.8 636.1 L1112.6 636.2 L1113.3 636.2 L1114.1 635.6 L1114.8 636.4 L1115.6 635.8 L1116.3 635.4 L1117.1 636.3 L1117.8 635.8 L1118.6 636.1 L1119.3 636.1 L1120.1 635.9 L1120.8 636.3 L1121.6 636.0 L1122.3 636.0 L1123.1 635.8 L1123.8 636.0 L1124.6 635.8 L1125.3 636.1 L1126.1 636.5 L1126.8 636.4 L1127.6 636.2 L1128.3 635.7 L1129.1 636.4 L1129.8 636.4 L1130.6 636.9 L1131.3 635.8 L1132.1 636.7 L1132.8 636.8 L1133.6 637.4 L1134.3 637.0 L1135.1 637.4 L1135.8 638.4 L1136.6 638.0 L1137.3 637.0 L1138.1 637.5 L1138.8 637.8 L1139.6 637.1 L1140.3 637.4 L1141.1 637.1 L1141.8 636.6 L1142.6 636.7 L1143.3 637.1 L1144.1 637.0 L1144.8 636.4 L1145.6 636.8 L1146.3 636.2 L1147.1 636.3 L1147.8 636.2 L1148.6 635.7 L1149.3 636.0 L1150.1 635.7 L1150.8 635.0 L1151.6 635.4 L1152.3 635.4 L1153.1 635.5 L1153.8 635.6 L1154.6 635.8 L1155.3 635.4 L1156.1 636.5 L1156.8 636.4 L1157.6 636.6 L1158.3 636.5 L1159.1 636.7 L1159.8 636.8 L1160.6 636.6 L1161.3 636.6 L1162.1 637.2 L1162.8 637.6 L1163.6 637.2 L1164.3 637.5 L1165.1 636.6 L1165.8 636.8 L1166.6 636.5 L1167.3 637.0 L1168.1 637.0 L1168.8 636.2 L1169.6 636.5 L1170.3 636.1 L1171.1 635.8 L1171.8 635.9 L1172.6 635.5 L1173.3 636.2 L1174.1 635.8 L1174.8 635.8 L1175.6 635.5 L1176.3 634.6 L1177.1 635.4 L1177.8 635.1 L1178.6 634.2 L1179.3 634.8 L1180.1 635.0 L1180.8 635.1 L1181.6 634.2 L1182.3 634.6 L1183.1 634.4 L1183.8 634.2 L1184.6 634.1 L1185.3 634.3 L1186.1 634.3 L1186.8 634.2 L1187.6 633.8 L1188.3 633.5 L1189.1 634.2 L1189.8 634.2 L1190.6 633.6 L1191.3 633.7 L1192.1 633.8 L1192.8 633.0 L1193.6 633.6 L1194.3 634.1 L1195.1 633.4 L1195.8 633.1 L1196.6 633.9 L1197.3 633.3 L1198.1 633.6 L1198.8 633.7 L1199.6 634.2 L1200.3 634.0 L1201.1 634.4 L1201.8 634.6 L1202.6 635.6 L1203.3 635.6 L1204.1 636.3 L1204.8 635.7 L1205.6 636.4 L1206.3 637.3 L1207.1 636.7 L1207.8 636.4 L1208.6 636.7 L1209.3 636.9 L1210.1 637.0 L1210.8 637.4 L1211.6 637.4 L1212.3 637.5 L1213.1 637.3 L1213.8 637.0 L1214.6 637.0 L1215.3 636.7 L1216.1 637.5 L1216.8 637.6 L1217.6 637.2 L1218.3 637.0 L1219.1 637.5 L1219.8 637.4 L1220.6 637.3 L1221.3 636.9 L1222.1 637.3 L1222.8 637.0 L1223.6 637.3 L1224.3 637.2 L1225.1 637.1 L1225.8 636.8 L1226.6 637.4 L1227.3 637.1 L1228.1 637.2 L1228.8 637.0 L1229.6 636.9 L1230.3 636.8 L1231.1 636.3 L1231.8 636.1 L1232.6 636.3 L1233.3 636.7 L1234.1 636.7 L1234.8 636.4 L1235.6 636.4 L1236.3 636.8 L1237.1 636.1 L1237.8 635.7 L1238.6 635.7 L1239.3 636.0 L1240.1 636.5 L1240.8 636.7 L1241.6 636.6 L1242.3 637.0 L1243.1 637.0 L1243.8 636.9 L1244.6 637.2 L1245.3 637.7 L1246.1 637.9 L1246.8 637.5 L1247.6 637.7 L1248.3 638.2 L1249.1 638.9 L1249.8 638.1 L1250.6 638.3 L1251.3 638.9 L1252.1 639.0 L1252.8 638.6 L1253.6 638.6 L1254.3 638.6 L1255.1 637.9 L1255.8 638.3 L1256.6 638.3 L1257.3 638.3 L1258.1 638.3 L1258.8 637.8 L1259.6 637.3 L1260.3 638.0 L1261.1 637.7 L1261.8 637.2 L1262.6 637.5 L1263.3 637.4 L1264.1 637.0 L1264.8 636.2 L1265.6 636.6 L1266.3 636.4 L1267.1 636.3 L1267.8 636.4 L1268.6 636.0 L1269.3 636.3 L1270.1 636.6 L1270.8 635.6 L1271.6 636.2 L1272.3 635.6 L1273.1 635.8 L1273.8 635.5 L1274.6 635.8 L1275.3 635.1 L1276.1 635.4 L1276.8 634.8 L1277.6 635.0 L1278.3 634.8 L1279.1 635.0 L1279.8 634.1 L1280.6 634.1 L1281.3 634.8 L1282.1 634.7 L1282.8 635.2 L1283.6 634.5 L1284.3 635.0 L1285.1 635.3 L1285.8 635.7 L1286.6 635.3 L1287.3 635.3 L1288.1 635.8 L1288.8 635.7 L1289.6 635.6 L1290.3 636.2 L1291.1 635.5 L1291.8 635.9 L1292.6 636.7 L1293.3 636.3 L1294.1 636.5 L1294.8 636.8 L1295.6 637.2 L1296.3 637.1 L1297.1 636.8 L1297.8 637.1 L1298.6 637.7 L1299.3 637.4 L1300.1 637.4 L1300.8 638.0 L1301.6 638.1 L1302.3 638.3 L1303.1 637.3 L1303.8 637.4 L1304.6 637.3 L1305.3 637.6 L1306.1 637.3 L1306.8 637.7 L1307.6 636.5 L1308.3 637.5 L1309.1 637.0 L1309.8 637.0 L1310.6 637.2 L1311.3 637.0 L1312.1 636.6 L1312.8 637.3 L1313.6 637.0 L1314.3 636.6 L1315.1 636.7 L1315.8 636.3 L1316.6 636.2 L1317.3 636.4 L1318.1 636.5 L1318.8 636.4 L1319.6 636.1 L1320.3 635.8 L1321.1 635.7 L1321.8 636.6 L1322.6 636.2 L1323.3 635.8 L1324.1 636.3 L1324.8 636.0 L1325.6 635.7 L1326.3 635.6 L1327.1 636.0 L1327.8 635.7 L1328.6 635.9 L1329.3 635.3 L1330.1 634.7 L1330.8 634.4 L1331.6 634.1 L1332.3 634.2 L1333.1 633.9 L1333.8 633.7 L1334.6 633.4 L1335.3 633.0 L1336.1 633.4 L1336.8 633.3 L1337.6 633.9 L1338.3 633.5 L1339.1 633.9 L1339.8 634.0 L1340.6 634.2 L1341.3 634.4 L1342.1 635.1 L1342.8 634.7 L1343.6 634.5 L1344.3 635.0 L1345.1 635.5 L1345.8 635.7 L1346.6 636.0 L1347.3 636.8 L1348.1 636.8 L1348.8 636.8 L1349.6 637.1 L1350.3 636.2 L1351.1 636.4 L1351.8 636.0 L1352.6 636.2 L1353.3 636.4 L1354.1 635.6 L1354.8 636.1 L1355.6 635.1 L1356.3 635.7 L1357.1 634.8 L1357.8 635.2 L1358.6 635.9 L1359.3 635.8 L1360.1 636.0 L1360.8 636.1 L1361.6 636.4 L1362.3 636.4 L1363.1 636.4 L1363.8 636.7 L1364.6 636.8 L1365.3 636.3 L1366.1 636.5 L1366.8 636.6 L1367.6 635.4 L1368.3 635.5 L1369.1 635.4 L1369.8 635.3 L1370.6 635.4 L1371.3 635.3 L1372.1 635.7 L1372.8 636.0 L1373.6 636.1 L1374.3 636.8 L1375.1 636.6 L1375.8 636.4 L1376.6 636.5 L1377.3 637.4 L1378.1 637.3 L1378.8 637.4 L1379.6 637.4 L1380.3 637.9 L1381.1 638.2 L1381.8 638.2 L1382.6 638.5 L1383.3 639.1 L1384.1 639.1 L1384.8 639.1 L1385.6 638.8 L1386.3 638.5 L1387.1 639.1 L1387.8 639.3 L1388.6 639.3 L1389.3 639.2 L1390.1 639.0 L1390.8 639.0 L1391.6 638.9 L1392.3 639.3 L1393.1 638.8 L1393.8 639.5 L1394.6 639.1 L1395.3 638.8 L1396.1 638.9 L1396.8 638.4 L1397.6 638.7 L1398.3 638.8 L1399.1 639.6 L1399.8 638.6 L1400.6 639.1 L1401.3 638.8 L1402.1 638.7 L1402.8 638.9 L1403.6 638.2 L1404.3 639.0 L1405.1 639.3 L1405.8 638.8 L1406.6 638.7 L1407.3 638.7 L1408.1 638.8 L1408.8 638.5 L1409.6 638.6 L1410.3 638.7 L1411.1 638.5 L1411.8 638.7 L1412.6 638.6 L1413.3 638.7 L1414.1 638.2 L1414.8 638.3 L1415.6 638.3 L1416.3 638.8 L1417.1 638.5 L1417.8 637.9 L1418.6 638.0 L1419.3 638.9 L1420.1 638.5 L1420.8 638.0 L1421.6 638.1 L1422.3 638.4 L1423.1 638.7 L1423.8 638.8" stroke="#9467bd" stroke-width="3.7" fill="none" stroke-linejoin="round" stroke-linecap="butt"/>
<path d="M227.6 642.7 L228.3 642.8 L229.1 643.4 L229.8 642.6 L230.6 643.4 L231.3 643.1 L232.1 643.0 L232.8 643.4 L233.6 643.2 L234.3 642.9 L235.1 642.7 L235.8 643.2 L236.6 643.4 L237.3 643.7 L238.1 642.5 L238.8 643.7 L239.6 643.6 L240.3 643.9 L241.1 643.7 L241.8 643.5 L242.6 643.7 L243.3 643.7 L244.1 643.4 L244.8 643.6 L245.6 643.7 L246.3 643.6 L247.1 643.3 L247.8 643.4 L248.6 644.0 L249.3 644.0 L250.1 643.9 L250.8 643.6 L251.6 644.2 L252.3 643.9 L253.1 643.4 L253.8 644.5 L254.6 643.7 L255.3 644.8 L256.1 644.3 L256.9 644.1 L257.6 643.6 L258.4 644.1 L259.1 644.8 L259.9 644.7 L260.6 644.5 L261.4 643.9 L262.1 644.4 L262.9 644.4 L263.6 644.6 L264.4 644.3 L265.1 644.4 L265.9 643.7 L266.6 643.9 L267.4 644.5 L268.1 643.6 L268.9 644.2 L269.6 644.5 L270.4 643.9 L271.1 643.3 L271.9 644.0 L272.6 643.0 L273.4 643.6 L274.1 643.3 L274.9 643.7 L275.6 643.6 L276.4 643.2 L277.1 643.6 L277.9 643.3 L278.6 642.8 L279.4 642.6 L280.1 643.5 L280.9 642.6 L281.6 642.8 L282.4 642.5 L283.1 642.4 L283.9 642.0 L284.6 642.3 L285.4 642.2 L286.1 642.5 L286.9 642.0 L287.6 641.6 L288.4 641.7 L289.1 641.9 L289.9 641.9 L290.6 642.0 L291.4 641.6 L292.1 641.8 L292.9 641.6 L293.6 641.9 L294.4 641.4 L295.1 641.3 L295.9 641.4 L296.6 641.5 L297.4 640.8 L298.1 641.1 L298.9 641.2 L299.6 640.7 L300.4 641.8 L301.1 641.8 L301.9 641.6 L302.6 642.6 L303.4 642.1 L304.1 642.4 L304.9 642.4 L305.6 642.2 L306.4 641.6 L307.1 642.6 L307.9 642.3 L308.6 641.9 L309.4 642.4 L310.1 642.7 L310.9 642.8 L311.6 642.7 L312.4 642.5 L313.1 643.0 L313.9 642.6 L314.6 642.9 L315.4 643.2 L316.1 642.7 L316.9 643.3 L317.6 642.7 L318.4 643.0 L319.1 643.0 L319.9 643.4 L320.6 643.7 L321.4 643.6 L322.1 644.0 L322.9 643.8 L323.6 643.8 L324.4 644.1 L325.1 643.9 L325.9 644.1 L326.6 644.5 L327.4 644.1 L328.1 644.7 L328.9 644.1 L329.6 644.4 L330.4 644.1 L331.1 644.5 L331.9 645.2 L332.6 644.9 L333.4 645.2 L334.1 644.5 L334.9 644.7 L335.6 645.2 L336.4 645.4 L337.1 645.5 L337.9 644.8 L338.6 645.5 L339.4 645.3 L340.1 645.4 L340.9 645.5 L341.6 645.3 L342.4 644.9 L343.1 645.1 L343.9 645.0 L344.6 645.1 L345.4 645.5 L346.1 645.9 L346.9 645.3 L347.6 645.3 L348.4 645.3 L349.1 645.1 L349.9 645.6 L350.6 645.5 L351.4 645.6 L352.1 645.4 L352.9 645.8 L353.6 645.4 L354.4 645.9 L355.1 645.6 L355.9 646.0 L356.6 645.5 L357.4 645.9 L358.1 646.0 L358.9 645.8 L359.6 646.4 L360.4 645.9 L361.1 645.7 L361.9 646.1 L362.6 645.7 L363.4 645.8 L364.1 646.0 L364.9 646.1 L365.6 646.5 L366.4 645.5 L367.1 646.0 L367.9 646.4 L368.6 646.1 L369.4 646.2 L370.1 646.6 L370.9 645.8 L371.6 646.2 L372.4 646.4 L373.1 646.1 L373.9 645.8 L374.6 646.0 L375.4 646.4 L376.1 646.4 L376.9 646.9 L377.6 646.8 L378.4 646.0 L379.1 646.7 L379.9 646.7 L380.6 646.9 L381.4 646.5 L382.1 646.4 L382.9 646.6 L383.6 647.0 L384.4 646.8 L385.1 647.1 L385.9 646.9 L386.6 646.5 L387.4 646.4 L388.1 647.2 L388.9 646.3 L389.6 646.7 L390.4 646.7 L391.1 646.5 L391.9 646.7 L392.6 646.8 L393.4 647.6 L394.1 646.9 L394.9 646.8 L395.6 647.0 L396.4 647.2 L397.1 646.7 L397.9 646.9 L398.6 646.5 L399.4 647.3 L400.1 647.3 L400.9 647.5 L401.6 646.8 L402.4 647.8 L403.1 647.4 L403.9 647.1 L404.6 647.1 L405.4 647.2 L406.1 646.9 L406.9 647.5 L407.6 647.1 L408.4 647.1 L409.1 647.5 L409.9 647.4 L410.6 647.2 L411.4 647.4 L412.1 647.3 L412.9 647.9 L413.6 647.8 L414.4 647.3 L415.1 647.5 L415.9 648.0 L416.6 647.5 L417.4 648.1 L418.1 647.8 L418.9 647.9 L419.6 647.1 L420.4 648.0 L421.1 647.8 L421.9 647.9 L422.6 647.9 L423.4 647.9 L424.1 647.6 L424.9 648.0 L425.6 647.7 L426.4 647.3 L427.1 647.3 L427.9 647.6 L428.6 647.6 L429.4 646.8 L430.1 646.8 L430.9 647.7 L431.6 647.3 L432.4 648.1 L433.1 646.8 L433.9 647.2 L434.6 647.0 L435.4 647.3 L436.1 647.5 L436.9 647.5 L437.6 646.7 L438.4 647.3 L439.1 646.6 L439.9 647.0 L440.6 646.9 L441.4 647.0 L442.1 646.5 L442.9 647.1 L443.6 646.7 L444.4 646.6 L445.1 646.5 L445.9 646.2 L446.6 646.7 L447.4 646.6 L448.1 646.5 L448.9 646.9 L449.6 646.1 L450.4 646.2 L451.1 646.2 L451.9 646.4 L452.6 646.1 L453.4 646.4 L454.1 646.2 L454.9 645.5 L455.6 645.8 L456.4 645.3 L457.1 645.8 L457.9 645.7 L458.6 646.0 L459.4 645.8 L460.1 645.7 L460.9 646.0 L461.6 645.8 L462.4 645.2 L463.1 645.3 L463.9 645.6 L464.6 645.9 L465.4 645.3 L466.1 645.3 L466.9 645.4 L467.6 645.4 L468.4 645.1 L469.1 645.1 L469.9 644.8 L470.6 644.7 L471.4 644.5 L472.1 644.8 L472.9 644.4 L473.6 644.6 L474.4 644.5 L475.1 644.5 L475.9 643.4 L476.6 643.8 L477.4 643.6 L478.1 643.8 L478.9 644.0 L479.6 644.4 L480.4 644.0 L481.1 643.9 L481.9 643.5 L482.6 643.2 L483.4 643.4 L484.1 642.5 L484.9 643.3 L485.6 642.9 L486.4 643.0 L487.1 642.4 L487.9 642.3 L488.6 642.4 L489.4 642.5 L490.1 642.5 L490.9 642.2 L491.6 642.3 L492.4 642.3 L493.1 641.7 L493.9 641.9 L494.6 641.4 L495.4 641.6 L496.1 641.9 L496.9 641.3 L497.6 642.0 L498.4 641.5 L499.1 641.5 L499.9 641.2 L500.6 641.4 L501.4 641.7 L502.1 641.6 L502.9 641.6 L503.6 641.8 L504.4 642.7 L505.1 642.3 L505.9 642.4 L506.6 642.5 L507.4 642.5 L508.1 643.0 L508.9 643.4 L509.6 642.9 L510.4 642.7 L511.1 642.8 L511.9 642.7 L512.6 642.2 L513.4 642.3 L514.1 641.7 L514.9 642.1 L515.6 641.4 L516.4 641.4 L517.1 641.3 L517.9 641.0 L518.6 640.6 L519.4 641.4 L520.1 641.0 L520.9 640.0 L521.6 640.4 L522.4 639.9 L523.1 640.3 L523.9 639.8 L524.6 640.2 L525.4 640.1 L526.1 640.4 L526.9 640.1 L527.6 639.6 L528.4 639.9 L529.1 639.4 L529.9 639.4 L530.6 639.2 L531.4 638.7 L532.1 639.3 L532.9 638.5 L533.6 638.9 L534.4 639.0 L535.1 638.8 L535.9 638.3 L536.6 638.4 L537.4 638.7 L538.1 638.8 L538.9 638.8 L539.6 637.7 L540.4 638.3 L541.1 637.9 L541.9 638.2 L542.6 637.4 L543.4 637.8 L544.1 637.9 L544.9 637.4 L545.6 637.4 L546.4 637.2 L547.1 637.7 L547.9 636.9 L548.6 636.9 L549.4 637.0 L550.1 636.9 L550.9 637.5 L551.6 636.9 L552.4 636.5 L553.1 636.8 L553.9 636.7 L554.6 636.6 L555.4 636.4 L556.1 636.4 L556.9 635.9 L557.6 635.8 L558.4 635.9 L559.1 635.6 L559.9 636.1 L560.6 636.3 L561.4 636.0 L562.1 635.7 L562.9 635.6 L563.6 635.2 L564.4 634.9 L565.1 635.4 L565.9 635.0 L566.6 635.8 L567.4 636.0 L568.1 636.5 L568.9 636.6 L569.6 637.0 L570.4 637.1 L571.1 637.0 L571.9 637.7 L572.6 638.3 L573.4 638.7 L574.1 639.1 L574.9 638.6 L575.6 638.5 L576.4 638.9 L577.1 638.5 L577.9 639.3 L578.6 638.5 L579.4 637.9 L580.1 638.1 L580.9 638.6 L581.6 637.5 L582.4 638.0 L583.1 637.5 L583.9 638.3 L584.6 637.6 L585.4 637.3 L586.1 637.1 L586.9 637.3 L587.6 636.6 L588.4 637.2 L589.1 637.8 L589.9 637.2 L590.6 637.0 L591.4 636.6 L592.1 637.0 L592.9 636.6 L593.6 636.4 L594.4 637.0 L595.1 636.6 L595.9 636.2 L596.6 636.8 L597.4 636.2 L598.1 636.3 L598.9 636.1 L599.6 636.3 L600.4 636.1 L601.1 635.7 L601.9 635.9 L602.6 635.5 L603.4 635.6 L604.1 636.0 L604.9 635.1 L605.6 635.0 L606.4 635.1 L607.1 635.0 L607.9 635.4 L608.6 634.5 L609.4 635.5 L610.1 635.2 L610.9 634.6 L611.6 634.7 L612.4 634.4 L613.1 634.6 L613.9 634.5 L614.6 634.5 L615.4 634.4 L616.1 634.6 L616.9 633.9 L617.6 634.1 L618.4 633.8 L619.1 633.7 L619.9 633.7 L620.6 633.5 L621.4 633.6 L622.1 633.1 L622.9 633.3 L623.6 633.0 L624.4 632.8 L625.1 632.8 L625.9 632.8 L626.6 632.8 L627.4 632.3 L628.1 632.6 L628.9 632.3 L629.6 632.3 L630.4 632.5 L631.1 632.7 L631.9 632.3 L632.6 632.0 L633.4 632.0 L634.1 632.4 L634.9 631.4 L635.6 632.2 L636.4 631.3 L637.1 631.5 L637.9 631.6 L638.6 631.5 L639.4 632.0 L640.1 631.6 L640.9 631.4 L641.6 631.7 L642.4 631.4 L643.1 631.1 L643.9 631.6 L644.6 631.7 L645.4 631.6 L646.1 630.9 L646.9 631.7 L647.6 631.0 L648.4 631.3 L649.1 631.4 L649.9 631.7 L650.6 630.5 L651.4 630.7 L652.1 631.3 L652.9 631.0 L653.6 630.8 L654.4 630.0 L655.1 630.9 L655.9 630.7 L656.6 629.9 L657.4 631.5 L658.1 629.9 L658.9 630.4 L659.6 630.6 L660.4 630.6 L661.1 630.8 L661.9 630.9 L662.6 631.1 L663.4 631.7 L664.1 631.6 L664.9 632.3 L665.6 633.6 L666.4 633.0 L667.1 633.1 L667.9 633.7 L668.6 633.4 L669.4 633.1 L670.1 633.2 L670.9 632.9 L671.6 632.7 L672.4 633.2 L673.1 632.9 L673.9 633.3 L674.6 632.7 L675.4 632.6 L676.1 632.8 L676.9 632.6 L677.6 632.5 L678.4 632.3 L679.1 632.6 L679.9 632.6 L680.6 633.0 L681.4 632.4 L682.1 631.9 L682.9 632.5 L683.6 633.0 L684.4 632.2 L685.1 632.0 L685.9 632.2 L686.6 631.3 L687.4 632.1 L688.1 632.1 L688.9 631.6 L689.6 632.2 L690.4 631.7 L691.1 631.4 L691.9 631.7 L692.6 632.1 L693.4 632.4 L694.1 632.2 L694.9 631.8 L695.6 631.6 L696.4 631.6 L697.1 632.0 L697.9 631.5 L698.6 631.7 L699.4 631.8 L700.1 631.3 L700.9 631.3 L701.6 631.6 L702.4 631.4 L703.1 631.3 L703.9 631.2 L704.6 631.3 L705.4 631.8 L706.1 631.6 L706.9 630.7 L707.6 631.2 L708.4 631.1 L709.1 631.1 L709.9 630.6 L710.6 631.0 L711.4 631.0 L712.1 630.7 L712.9 631.0 L713.6 630.1 L714.4 630.4 L715.1 630.8 L715.9 630.9 L716.6 630.7 L717.4 630.5 L718.1 630.7 L718.9 630.9 L719.6 630.8 L720.4 630.5 L721.1 630.4 L721.9 630.8 L722.6 630.6 L723.4 630.6 L724.1 630.3 L724.9 630.1 L725.6 630.3 L726.4 630.0 L727.1 630.5 L727.9 630.4 L728.6 629.5 L729.4 630.3 L730.1 630.4 L730.9 630.3 L731.6 629.8 L732.4 629.7 L733.1 630.2 L733.9 630.2 L734.6 629.8 L735.4 629.4 L736.1 629.3 L736.9 629.8 L737.6 629.4 L738.4 629.4 L739.1 629.7 L739.9 629.9 L740.6 628.9 L741.4 629.3 L742.1 629.8 L742.9 629.4 L743.6 629.5 L744.4 630.1 L745.1 629.9 L745.9 630.2 L746.6 630.9 L747.4 631.7 L748.1 631.9 L748.9 632.0 L749.6 632.6 L750.4 632.5 L751.1 632.6 L751.9 632.7 L752.6 633.2 L753.4 633.3 L754.1 633.1 L754.9 632.9 L755.6 632.7 L756.4 633.1 L757.1 632.7 L757.9 632.2 L758.6 632.9 L759.4 632.3 L760.1 632.5 L760.9 632.3 L761.6 632.6 L762.4 632.3 L763.1 632.5 L763.9 632.1 L764.6 631.8 L765.4 631.8 L766.1 632.0 L766.9 631.5 L767.6 632.0 L768.4 631.6 L769.1 631.3 L769.9 631.2 L770.6 631.4 L771.4 631.9 L772.1 631.5 L772.9 631.2 L773.6 630.9 L774.4 631.6 L775.1 630.9 L775.9 630.9 L776.6 630.7 L777.4 631.2 L778.1 630.8 L778.9 630.5 L779.6 630.6 L780.4 630.2 L781.1 630.1 L781.9 630.3 L782.6 629.5 L783.4 630.6 L784.1 630.7 L784.9 629.8 L785.6 630.0 L786.4 629.5 L787.1 630.0 L787.9 630.0 L788.6 630.2 L789.4 629.6 L790.1 629.8 L790.9 629.8 L791.6 629.9 L792.4 630.7 L793.1 630.0 L793.9 630.1 L794.6 629.9 L795.4 630.3 L796.1 630.9 L796.9 630.5 L797.6 630.6 L798.4 629.9 L799.1 630.5 L799.9 630.2 L800.6 630.6 L801.4 630.6 L802.1 630.5 L802.9 629.8 L803.6 630.4 L804.4 630.2 L805.1 630.5 L805.9 630.4 L806.6 630.7 L807.4 630.0 L808.1 630.2 L808.9 630.4 L809.6 630.6 L810.4 630.4 L811.1 630.5 L811.9 630.6 L812.6 630.9 L813.4 630.5 L814.1 630.7 L814.9 630.1 L815.6 629.9 L816.4 630.2 L817.1 630.8 L817.9 630.0 L818.6 630.8 L819.4 630.7 L820.1 630.7 L820.9 630.6 L821.6 630.7 L822.4 631.0 L823.1 630.9 L823.9 630.8 L824.6 630.7 L825.4 630.9 L826.1 631.3 L826.9 630.9 L827.6 630.8 L828.4 630.6 L829.1 631.0 L829.9 630.7 L830.6 630.8 L831.4 631.7 L832.1 631.5 L832.9 631.3 L833.6 632.0 L834.4 633.0 L835.1 632.6 L835.9 632.5 L836.6 632.8 L837.4 633.4 L838.1 633.2 L838.9 633.1 L839.6 632.9 L840.4 633.0 L841.1 633.2 L841.9 632.9 L842.6 632.6 L843.4 632.2 L844.1 632.6 L844.9 632.9 L845.6 632.5 L846.4 631.9 L847.1 632.3 L847.9 632.5 L848.6 631.9 L849.4 632.1 L850.1 632.3 L850.9 632.3 L851.6 631.3 L852.4 631.2 L853.1 631.7 L853.9 631.8 L854.6 631.4 L855.4 631.4 L856.1 631.2 L856.9 631.6 L857.6 630.5 L858.4 631.2 L859.1 630.7 L859.9 630.8 L860.6 630.5 L861.4 630.6 L862.1 630.8 L862.9 630.7 L863.6 631.1 L864.4 630.5 L865.1 630.6 L865.9 630.5 L866.6 630.4 L867.4 630.7 L868.1 630.2 L868.9 630.2 L869.6 630.0 L870.4 630.0 L871.1 629.9 L871.9 630.1 L872.6 629.8 L873.4 629.7 L874.1 629.6 L874.9 629.8 L875.6 629.3 L876.4 629.7 L877.1 629.1 L877.9 629.4 L878.6 629.7 L879.4 629.2 L880.1 629.0 L880.9 628.6 L881.6 629.1 L882.4 628.8 L883.1 629.0 L883.9 628.5 L884.6 628.7 L885.4 629.0 L886.1 628.7 L886.9 628.5 L887.6 628.3 L888.4 628.8 L889.1 629.1 L889.9 629.1 L890.6 628.7 L891.4 628.8 L892.1 628.9 L892.9 628.9 L893.6 629.2 L894.4 629.5 L895.1 630.0 L895.9 629.6 L896.6 630.1 L897.4 629.2 L898.1 630.2 L898.9 630.1 L899.6 630.1 L900.4 630.3 L901.1 630.3 L901.9 630.7 L902.6 630.6 L903.4 630.1 L904.1 630.4 L904.9 631.6 L905.6 631.4 L906.4 632.1 L907.1 631.8 L907.9 632.0 L908.6 632.4 L909.4 632.8 L910.1 633.1 L910.9 633.1 L911.6 633.7 L912.4 634.0 L913.1 633.8 L913.9 634.0 L914.6 633.8 L915.4 634.3 L916.1 634.4 L916.9 634.2 L917.6 634.2 L918.4 634.4 L919.1 634.4 L919.9 634.6 L920.6 634.6 L921.4 634.5 L922.1 634.7 L922.9 634.1 L923.6 634.6 L924.4 634.5 L925.1 634.1 L925.9 634.2 L926.6 634.5 L927.4 634.4 L928.1 634.0 L928.9 634.1 L929.6 634.7 L930.4 634.4 L931.1 634.1 L931.9 634.4 L932.6 633.7 L933.4 633.9 L934.1 634.1 L934.9 633.7 L935.6 633.4 L936.4 633.8 L937.1 634.1 L937.9 632.8 L938.6 633.5 L939.4 633.0 L940.1 633.3 L940.9 632.9 L941.6 634.0 L942.4 633.0 L943.1 633.1 L943.9 632.8 L944.6 632.7 L945.4 632.8 L946.1 632.9 L946.9 633.3 L947.6 632.8 L948.4 633.1 L949.1 632.3 L949.9 632.6 L950.6 632.3 L951.4 631.9 L952.1 633.4 L952.9 632.2 L953.6 632.3 L954.4 631.9 L955.1 631.9 L955.9 631.7 L956.6 632.3 L957.4 631.8 L958.1 631.8 L958.9 631.8 L959.6 631.4 L960.4 631.7 L961.1 631.5 L961.9 631.7 L962.6 631.4 L963.4 631.4 L964.1 631.5 L964.9 631.6 L965.6 631.0 L966.4 631.4 L967.1 630.8 L967.9 631.0 L968.6 631.0 L969.4 630.9 L970.1 630.1 L970.9 630.5 L971.6 630.7 L972.4 630.9 L973.1 630.4 L973.9 631.0 L974.6 629.9 L975.4 630.4 L976.1 630.5 L976.9 630.3 L977.6 630.3 L978.4 630.5 L979.1 630.0 L979.9 630.4 L980.6 630.6 L981.4 630.2 L982.1 629.6 L982.9 630.0 L983.6 630.1 L984.4 630.1 L985.1 630.6 L985.9 630.2 L986.6 631.2 L987.4 630.7 L988.1 630.1 L988.9 630.5 L989.6 631.0 L990.4 630.8 L991.1 630.3 L991.9 630.9 L992.6 630.5 L993.4 631.3 L994.1 630.5 L994.9 630.9 L995.6 630.9 L996.4 630.6 L997.1 630.7 L997.9 631.2 L998.6 631.0 L999.4 630.8 L1000.1 631.0 L1000.9 631.4 L1001.6 631.2 L1002.4 631.1 L1003.1 631.1 L1003.9 630.5 L1004.6 631.1 L1005.4 630.9 L1006.1 631.3 L1006.9 630.9 L1007.6 631.2 L1008.4 630.8 L1009.1 631.4 L1009.9 631.0 L1010.6 631.2 L1011.4 631.4 L1012.1 631.2 L1012.9 631.3 L1013.6 631.6 L1014.4 631.8 L1015.1 630.8 L1015.9 631.1 L1016.6 631.6 L1017.4 631.7 L1018.1 631.3 L1018.9 631.5 L1019.6 631.4 L1020.4 632.2 L1021.1 631.5 L1021.9 631.2 L1022.6 631.1 L1023.4 631.2 L1024.1 632.0 L1024.8 631.5 L1025.6 632.2 L1026.3 631.9 L1027.1 631.8 L1027.8 631.9 L1028.6 632.0 L1029.3 632.1 L1030.1 631.5 L1030.8 631.7 L1031.6 631.7 L1032.3 631.9 L1033.1 631.8 L1033.8 631.9 L1034.6 632.5 L1035.3 633.6 L1036.1 634.2 L1036.8 633.7 L1037.6 634.5 L1038.3 634.8 L1039.1 635.0 L1039.8 635.8 L1040.6 636.0 L1041.3 636.5 L1042.1 636.0 L1042.8 635.7 L1043.6 634.9 L1044.3 635.6 L1045.1 635.7 L1045.8 635.2 L1046.6 635.5 L1047.3 635.4 L1048.1 634.5 L1048.8 634.9 L1049.6 634.9 L1050.3 635.0 L1051.1 634.7 L1051.8 634.5 L1052.6 634.3 L1053.3 634.2 L1054.1 634.2 L1054.8 633.8 L1055.6 634.2 L1056.3 633.8 L1057.1 633.9 L1057.8 633.5 L1058.6 633.7 L1059.3 633.5 L1060.1 633.6 L1060.8 633.4 L1061.6 633.4 L1062.3 633.0 L1063.1 632.9 L1063.8 632.8 L1064.6 632.4 L1065.3 632.6 L1066.1 632.9 L1066.8 632.7 L1067.6 632.1 L1068.3 632.3 L1069.1 632.3 L1069.8 631.6 L1070.6 632.0 L1071.3 631.9 L1072.1 631.9 L1072.8 631.7 L1073.6 631.0 L1074.3 630.8 L1075.1 631.9 L1075.8 631.0 L1076.6 631.4 L1077.3 631.3 L1078.1 630.9 L1078.8 630.4 L1079.6 631.0 L1080.3 630.5 L1081.1 630.6 L1081.8 630.5 L1082.6 630.5 L1083.3 630.4 L1084.1 629.6 L1084.8 629.5 L1085.6 629.8 L1086.3 629.7 L1087.1 629.8 L1087.8 629.4 L1088.6 629.3 L1089.3 629.9 L1090.1 629.6 L1090.8 629.4 L1091.6 629.2 L1092.3 628.8 L1093.1 629.3 L1093.8 629.6 L1094.6 629.6 L1095.3 629.9 L1096.1 630.5 L1096.8 630.4 L1097.6 631.2 L1098.3 631.5 L1099.1 631.5 L1099.8 631.8 L1100.6 632.4 L1101.3 632.6 L1102.1 632.8 L1102.8 632.3 L1103.6 632.2 L1104.3 633.3 L1105.1 632.5 L1105.8 632.5 L1106.6 632.1 L1107.3 632.4 L1108.1 632.4 L1108.8 632.8 L1109.6 631.8 L1110.3 632.1 L1111.1 632.4 L1111.8 632.4 L1112.6 632.3 L1113.3 632.4 L1114.1 632.0 L1114.8 632.5 L1115.6 632.8 L1116.3 632.5 L1117.1 632.3 L1117.8 632.8 L1118.6 632.5 L1119.3 632.1 L1120.1 632.2 L1120.8 632.2 L1121.6 632.3 L1122.3 632.7 L1123.1 632.1 L1123.8 632.3 L1124.6 632.3 L1125.3 631.9 L1126.1 632.1 L1126.8 632.4 L1127.6 632.6 L1128.3 631.7 L1129.1 632.4 L1129.8 632.1 L1130.6 632.8 L1131.3 632.9 L1132.1 633.6 L1132.8 633.3 L1133.6 633.4 L1134.3 633.5 L1135.1 633.6 L1135.8 634.5 L1136.6 634.4 L1137.3 634.4 L1138.1 634.1 L1138.8 633.5 L1139.6 633.6 L1140.3 633.6 L1141.1 633.5 L1141.8 633.6 L1142.6 633.7 L1143.3 633.2 L1144.1 632.4 L1144.8 632.5 L1145.6 632.1 L1146.3 632.4 L1147.1 632.1 L1147.8 632.4 L1148.6 632.1 L1149.3 632.4 L1150.1 632.2 L1150.8 631.7 L1151.6 631.9 L1152.3 631.7 L1153.1 632.0 L1153.8 632.4 L1154.6 631.8 L1155.3 632.2 L1156.1 632.8 L1156.8 632.3 L1157.6 632.7 L1158.3 632.8 L1159.1 632.8 L1159.8 632.7 L1160.6 633.0 L1161.3 633.0 L1162.1 633.8 L1162.8 633.7 L1163.6 633.7 L1164.3 633.0 L1165.1 633.3 L1165.8 633.1 L1166.6 633.2 L1167.3 632.6 L1168.1 632.9 L1168.8 632.9 L1169.6 632.9 L1170.3 632.0 L1171.1 631.8 L1171.8 631.6 L1172.6 632.2 L1173.3 631.9 L1174.1 631.7 L1174.8 631.2 L1175.6 631.7 L1176.3 631.7 L1177.1 631.1 L1177.8 630.9 L1178.6 631.2 L1179.3 630.8 L1180.1 631.0 L1180.8 630.3 L1181.6 630.4 L1182.3 630.1 L1183.1 629.9 L1183.8 630.0 L1184.6 629.9 L1185.3 630.1 L1186.1 629.8 L1186.8 629.8 L1187.6 629.5 L1188.3 629.3 L1189.1 630.0 L1189.8 629.2 L1190.6 630.0 L1191.3 629.7 L1192.1 628.7 L1192.8 629.1 L1193.6 629.1 L1194.3 629.2 L1195.1 629.0 L1195.8 628.8 L1196.6 629.3 L1197.3 628.9 L1198.1 629.6 L1198.8 629.5 L1199.6 629.8 L1200.3 630.8 L1201.1 630.6 L1201.8 630.8 L1202.6 631.4 L1203.3 632.1 L1204.1 632.1 L1204.8 632.3 L1205.6 633.0 L1206.3 633.5 L1207.1 633.2 L1207.8 633.1 L1208.6 633.2 L1209.3 634.1 L1210.1 633.2 L1210.8 633.8 L1211.6 633.3 L1212.3 633.5 L1213.1 632.8 L1213.8 633.5 L1214.6 633.4 L1215.3 633.4 L1216.1 633.4 L1216.8 633.1 L1217.6 633.1 L1218.3 633.6 L1219.1 633.4 L1219.8 633.6 L1220.6 633.5 L1221.3 633.4 L1222.1 633.3 L1222.8 634.0 L1223.6 633.1 L1224.3 633.2 L1225.1 633.2 L1225.8 632.9 L1226.6 632.9 L1227.3 633.3 L1228.1 633.3 L1228.8 633.0 L1229.6 633.9 L1230.3 633.1 L1231.1 633.2 L1231.8 632.5 L1232.6 633.0 L1233.3 633.1 L1234.1 632.5 L1234.8 633.1 L1235.6 632.2 L1236.3 632.1 L1237.1 632.3 L1237.8 632.1 L1238.6 632.4 L1239.3 631.9 L1240.1 632.5 L1240.8 632.1 L1241.6 632.8 L1242.3 633.4 L1243.1 633.2 L1243.8 633.5 L1244.6 634.0 L1245.3 633.5 L1246.1 633.7 L1246.8 634.3 L1247.6 634.5 L1248.3 634.6 L1249.1 634.6 L1249.8 635.4 L1250.6 634.9 L1251.3 635.4 L1252.1 635.5 L1252.8 635.6 L1253.6 635.1 L1254.3 634.9 L1255.1 635.6 L1255.8 634.6 L1256.6 635.0 L1257.3 634.5 L1258.1 634.3 L1258.8 634.3 L1259.6 634.1 L1260.3 634.1 L1261.1 633.1 L1261.8 633.7 L1262.6 633.6 L1263.3 633.2 L1264.1 633.2 L1264.8 633.9 L1265.6 633.6 L1266.3 633.1 L1267.1 632.9 L1267.8 632.6 L1268.6 632.9 L1269.3 632.2 L1270.1 632.0 L1270.8 632.3 L1271.6 631.7 L1272.3 631.6 L1273.1 632.1 L1273.8 631.1 L1274.6 631.4 L1275.3 631.3 L1276.1 631.2 L1276.8 630.6 L1277.6 630.8 L1278.3 630.6 L1279.1 631.1 L1279.8 630.7 L1280.6 630.1 L1281.3 630.5 L1282.1 630.6 L1282.8 630.5 L1283.6 630.6 L1284.3 630.8 L1285.1 630.6 L1285.8 631.0 L1286.6 631.6 L1287.3 631.9 L1288.1 632.2 L1288.8 631.7 L1289.6 632.2 L1290.3 631.4 L1291.1 632.2 L1291.8 632.1 L1292.6 632.8 L1293.3 632.3 L1294.1 632.6 L1294.8 632.7 L1295.6 633.3 L1296.3 633.6 L1297.1 633.3 L1297.8 634.2 L1298.6 633.9 L1299.3 633.8 L1300.1 634.3 L1300.8 634.3 L1301.6 634.6 L1302.3 634.4 L1303.1 634.8 L1303.8 634.4 L1304.6 633.8 L1305.3 634.1 L1306.1 634.0 L1306.8 633.4 L1307.6 633.4 L1308.3 633.3 L1309.1 632.7 L1309.8 633.5 L1310.6 633.2 L1311.3 633.5 L1312.1 632.9 L1312.8 633.0 L1313.6 633.1 L1314.3 633.0 L1315.1 632.7 L1315.8 632.2 L1316.6 633.1 L1317.3 632.6 L1318.1 632.7 L1318.8 632.6 L1319.6 632.5 L1320.3 632.1 L1321.1 632.0 L1321.8 632.0 L1322.6 631.3 L1323.3 631.8 L1324.1 631.2 L1324.8 631.5 L1325.6 631.0 L1326.3 631.4 L1327.1 631.0 L1327.8 631.8 L1328.6 630.8 L1329.3 630.6 L1330.1 629.9 L1330.8 629.8 L1331.6 629.5 L1332.3 629.1 L1333.1 628.8 L1333.8 628.3 L1334.6 628.5 L1335.3 628.2 L1336.1 628.2 L1336.8 628.7 L1337.6 628.5 L1338.3 628.9 L1339.1 628.9 L1339.8 628.9 L1340.6 629.3 L1341.3 629.3 L1342.1 629.3 L1342.8 629.9 L1343.6 629.9 L1344.3 629.7 L1345.1 630.2 L1345.8 630.7 L1346.6 631.1 L1347.3 631.5 L1348.1 631.8 L1348.8 632.3 L1349.6 631.9 L1350.3 631.7 L1351.1 631.9 L1351.8 631.5 L1352.6 631.4 L1353.3 631.4 L1354.1 631.4 L1354.8 631.3 L1355.6 630.5 L1356.3 630.5 L1357.1 630.8 L1357.8 630.4 L1358.6 630.7 L1359.3 631.5 L1360.1 631.3 L1360.8 631.4 L1361.6 632.2 L1362.3 632.3 L1363.1 632.7 L1363.8 632.5 L1364.6 632.5 L1365.3 632.2 L1366.1 632.1 L1366.8 631.1 L1367.6 631.2 L1368.3 631.4 L1369.1 630.6 L1369.8 630.6 L1370.6 630.7 L1371.3 631.1 L1372.1 631.0 L1372.8 631.1 L1373.6 632.4 L1374.3 631.7 L1375.1 632.6 L1375.8 631.9 L1376.6 632.7 L1377.3 632.8 L1378.1 633.7 L1378.8 634.0 L1379.6 633.9 L1380.3 633.6 L1381.1 633.9 L1381.8 634.1 L1382.6 634.5 L1383.3 634.9 L1384.1 634.7 L1384.8 634.8 L1385.6 635.3 L1386.3 635.3 L1387.1 634.4 L1387.8 634.6 L1388.6 634.8 L1389.3 635.3 L1390.1 634.8 L1390.8 635.5 L1391.6 635.0 L1392.3 635.3 L1393.1 634.6 L1393.8 634.8 L1394.6 635.2 L1395.3 635.1 L1396.1 634.4 L1396.8 634.8 L1397.6 634.9 L1398.3 635.0 L1399.1 634.6 L1399.8 635.3 L1400.6 634.8 L1401.3 635.1 L1402.1 634.8 L1402.8 634.6 L1403.6 634.5 L1404.3 634.2 L1405.1 634.7 L1405.8 634.7 L1406.6 634.7 L1407.3 634.3 L1408.1 634.0 L1408.8 634.2 L1409.6 634.2 L1410.3 634.2 L1411.1 634.5 L1411.8 633.9 L1412.6 634.0 L1413.3 634.3 L1414.1 634.3 L1414.8 634.7 L1415.6 634.1 L1416.3 633.7 L1417.1 633.6 L1417.8 633.6 L1418.6 633.8 L1419.3 633.9 L1420.1 633.7 L1420.8 633.5 L1421.6 633.6 L1422.3 633.6 L1423.1 633.8 L1423.8 633.6" stroke="#c5b0d5" stroke-width="3.7" fill="none" stroke-linejoin="round" stroke-linecap="butt"/>
<path d="M227.2 449.4 L227.9 448.5 L228.7 450.3 L229.4 448.4 L230.2 447.8 L230.9 447.2 L231.7 447.4 L232.4 445.2 L233.2 444.8 L233.9 443.9 L234.7 447.5 L235.4 448.9 L236.2 450.9 L236.9 451.0 L237.7 450.5 L238.4 449.3 L239.2 448.4 L239.9 449.1 L240.7 447.9 L241.4 448.1 L242.2 445.4 L242.9 445.1 L243.7 446.3 L244.4 444.9 L245.2 444.9 L245.9 445.3 L246.7 448.3 L247.4 446.9 L248.2 447.8 L248.9 445.8 L249.7 446.1 L250.4 447.5 L251.2 446.9 L251.9 444.1 L252.7 443.8 L253.4 446.3 L254.2 444.3 L254.9 443.6 L255.7 445.9 L256.4 445.3 L257.2 445.6 L257.9 448.5 L258.7 447.5 L259.4 447.9 L260.2 449.6 L260.9 449.9 L261.7 451.8 L262.4 450.7 L263.2 451.0 L263.9 449.6 L264.7 449.2 L265.4 448.4 L266.2 447.6 L266.9 448.2 L267.7 447.9 L268.4 446.6 L269.2 447.1 L269.9 448.7 L270.7 445.6 L271.4 446.6 L272.2 445.8 L272.9 446.5 L273.7 445.3 L274.4 446.0 L275.2 445.2 L275.9 444.6 L276.7 443.8 L277.4 442.2 L278.2 443.8 L278.9 442.2 L279.7 442.6 L280.4 442.8 L281.2 443.0 L281.9 442.3 L282.7 442.7 L283.4 440.0 L284.2 441.7 L284.9 442.4 L285.7 441.2 L286.4 439.8 L287.2 441.0 L287.9 440.0 L288.7 439.8 L289.4 441.1 L290.2 439.9 L290.9 438.9 L291.7 439.2 L292.4 441.4 L293.2 438.5 L293.9 439.2 L294.7 438.2 L295.4 438.5 L296.2 436.7 L296.9 436.1 L297.7 436.6 L298.4 436.6 L299.2 440.1 L299.9 438.2 L300.7 438.1 L301.4 439.9 L302.2 440.2 L302.9 440.4 L303.7 441.9 L304.4 442.5 L305.2 444.0 L305.9 444.4 L306.7 442.6 L307.4 442.8 L308.2 442.6 L308.9 443.7 L309.7 443.0 L310.4 443.2 L311.2 443.0 L311.9 441.0 L312.7 441.0 L313.4 441.4 L314.2 440.3 L314.9 439.5 L315.7 438.0 L316.4 437.8 L317.2 437.4 L317.9 437.8 L318.7 438.0 L319.4 436.7 L320.2 438.9 L320.9 437.2 L321.7 438.0 L322.4 438.3 L323.2 437.2 L323.9 437.9 L324.7 442.4 L325.4 444.4 L326.2 445.3 L326.9 449.8 L327.7 450.8 L328.4 444.9 L329.2 443.8 L329.9 438.2 L330.7 441.4 L331.4 445.0 L332.2 441.8 L332.9 445.4 L333.7 442.1 L334.4 444.9 L335.2 448.2 L335.9 450.8 L336.7 449.9 L337.4 451.0 L338.2 451.8 L338.9 447.8 L339.7 448.1 L340.4 450.8 L341.2 451.0 L341.9 449.0 L342.7 448.2 L343.4 447.9 L344.2 447.4 L344.9 447.0 L345.7 447.9 L346.4 448.0 L347.2 449.1 L347.9 449.3 L348.7 449.9 L349.4 449.9 L350.2 448.7 L350.9 450.4 L351.7 446.5 L352.4 448.5 L353.2 448.4 L353.9 447.2 L354.7 449.0 L355.4 446.0 L356.2 445.5 L356.9 445.7 L357.7 446.2 L358.4 446.1 L359.2 445.1 L359.9 445.1 L360.7 443.4 L361.4 442.9 L362.2 443.1 L362.9 441.3 L363.7 442.1 L364.4 441.2 L365.2 443.5 L365.9 443.4 L366.7 445.2 L367.4 446.5 L368.2 448.0 L368.9 448.8 L369.7 450.8 L370.4 451.2 L371.2 454.0 L371.9 453.9 L372.7 453.2 L373.4 452.9 L374.2 452.1 L374.9 451.9 L375.7 452.3 L376.4 451.5 L377.2 451.0 L377.9 451.9 L378.7 451.6 L379.4 451.0 L380.2 450.4 L380.9 450.8 L381.7 450.1 L382.4 450.1 L383.2 450.4 L383.9 451.0 L384.7 451.5 L385.4 450.7 L386.2 452.7 L386.9 451.1 L387.7 452.3 L388.4 454.0 L389.2 455.4 L389.9 453.9 L390.7 453.9 L391.4 453.7 L392.2 452.5 L392.9 453.0 L393.7 452.3 L394.4 451.6 L395.2 452.9 L395.9 450.7 L396.7 452.4 L397.4 451.3 L398.2 451.0 L398.9 449.8 L399.7 449.8 L400.4 448.4 L401.2 450.3 L401.9 449.7 L402.7 450.2 L403.4 449.1 L404.2 450.0 L404.9 448.4 L405.7 448.6 L406.4 451.6 L407.2 452.9 L407.9 450.0 L408.7 454.6 L409.4 453.9 L410.2 454.6 L410.9 452.6 L411.7 452.3 L412.4 453.1 L413.2 451.1 L413.9 450.9 L414.7 451.0 L415.4 453.9 L416.2 454.0 L416.9 453.1 L417.7 454.8 L418.4 455.3 L419.2 456.1 L419.9 457.7 L420.7 460.3 L421.4 460.4 L422.2 461.0 L422.9 459.8 L423.7 459.0 L424.4 459.0 L425.2 458.9 L425.9 461.4 L426.7 462.1 L427.4 461.7 L428.2 462.7 L428.9 461.3 L429.7 463.2 L430.4 465.3 L431.2 462.5 L431.9 463.9 L432.7 464.2 L433.4 462.7 L434.2 462.9 L434.9 462.6 L435.7 463.7 L436.4 462.9 L437.2 464.2 L437.9 463.9 L438.7 462.8 L439.4 464.9 L440.2 462.2 L440.9 461.7 L441.7 461.9 L442.4 461.1 L443.2 461.4 L443.9 461.5 L444.7 462.2 L445.4 459.8 L446.2 459.8 L446.9 460.2 L447.7 460.4 L448.4 460.9 L449.2 459.6 L449.9 461.4 L450.7 459.5 L451.4 459.6 L452.2 459.7 L452.9 460.4 L453.7 459.5 L454.4 459.1 L455.2 458.4 L455.9 458.9 L456.7 458.9 L457.4 458.0 L458.2 458.2 L458.9 456.4 L459.7 458.2 L460.4 460.3 L461.2 461.2 L461.9 460.5 L462.7 459.3 L463.4 463.4 L464.2 462.3 L464.9 465.3 L465.7 462.8 L466.4 463.6 L467.2 461.8 L467.9 463.2 L468.7 462.7 L469.4 460.3 L470.2 462.0 L470.9 463.0 L471.7 460.0 L472.4 458.7 L473.2 459.7 L473.9 458.7 L474.7 457.4 L475.4 457.7 L476.2 458.9 L476.9 457.4 L477.7 459.8 L478.4 459.3 L479.2 458.8 L479.9 460.2 L480.7 458.3 L481.4 459.6 L482.2 457.5 L482.9 458.1 L483.7 458.7 L484.4 457.3 L485.2 457.4 L485.9 457.8 L486.7 458.2 L487.4 457.7 L488.2 456.7 L488.9 455.8 L489.7 454.4 L490.4 456.9 L491.2 456.7 L491.9 452.9 L492.7 455.1 L493.4 453.9 L494.2 454.2 L494.9 453.4 L495.7 452.5 L496.4 452.3 L497.2 451.8 L497.9 452.5 L498.7 450.8 L499.4 450.2 L500.2 450.8 L500.9 451.1 L501.7 451.4 L502.4 451.8 L503.2 453.4 L503.9 453.6 L504.7 453.4 L505.4 453.5 L506.2 454.8 L506.9 453.2 L507.7 454.9 L508.4 454.7 L509.2 455.4 L509.9 454.8 L510.7 457.2 L511.4 455.6 L512.2 455.3 L513.0 456.8 L513.7 454.5 L514.5 453.8 L515.2 454.8 L516.0 454.1 L516.7 453.8 L517.5 453.7 L518.2 451.9 L519.0 451.3 L519.7 450.9 L520.5 451.2 L521.2 451.6 L522.0 449.5 L522.7 449.6 L523.5 448.5 L524.2 451.0 L525.0 449.6 L525.7 448.8 L526.5 447.2 L527.2 447.0 L528.0 447.0 L528.7 447.2 L529.5 445.8 L530.2 446.3 L531.0 447.1 L531.7 445.8 L532.5 445.5 L533.2 443.4 L534.0 444.5 L534.7 444.2 L535.5 443.5 L536.2 442.8 L537.0 443.6 L537.7 442.7 L538.5 442.8 L539.2 441.8 L540.0 442.8 L540.7 443.3 L541.5 441.7 L542.2 442.4 L543.0 440.7 L543.7 442.0 L544.5 441.8 L545.2 440.8 L546.0 441.5 L546.7 440.0 L547.5 440.4 L548.2 441.3 L549.0 439.8 L549.7 438.8 L550.5 440.2 L551.2 439.5 L552.0 438.7 L552.7 437.4 L553.5 437.1 L554.2 437.1 L555.0 438.9 L555.7 437.8 L556.5 436.8 L557.2 437.9 L558.0 437.8 L558.7 436.1 L559.5 436.7 L560.2 435.1 L561.0 435.6 L561.7 435.7 L562.5 432.9 L563.2 433.0 L564.0 431.7 L564.7 431.3 L565.5 431.8 L566.2 433.1 L567.0 434.7 L567.7 435.7 L568.5 437.3 L569.2 438.5 L570.0 439.8 L570.7 440.0 L571.5 441.8 L572.2 442.6 L573.0 443.6 L573.7 446.4 L574.5 445.3 L575.2 445.0 L576.0 443.7 L576.7 444.6 L577.5 445.0 L578.2 444.3 L579.0 443.9 L579.7 444.9 L580.5 443.8 L581.2 443.6 L582.0 443.6 L582.7 443.2 L583.5 443.5 L584.2 442.9 L585.0 442.1 L585.7 441.6 L586.5 441.3 L587.2 441.9 L588.0 440.5 L588.7 440.6 L589.5 439.1 L590.2 439.7 L591.0 439.5 L591.7 439.5 L592.5 438.6 L593.2 438.4 L594.0 437.8 L594.7 437.9 L595.5 438.0 L596.2 436.7 L597.0 435.7 L597.7 436.1 L598.5 435.4 L599.2 435.4 L600.0 435.1 L600.7 434.4 L601.5 433.7 L602.2 433.7 L603.0 432.5 L603.7 432.9 L604.5 432.1 L605.2 432.6 L606.0 432.3 L606.7 431.9 L607.5 431.2 L608.2 431.7 L609.0 431.2 L609.7 431.3 L610.5 431.6 L611.2 431.5 L612.0 430.2 L612.7 431.2 L613.5 431.2 L614.2 430.9 L615.0 430.3 L615.7 429.9 L616.5 430.7 L617.2 429.5 L618.0 428.6 L618.7 429.3 L619.5 429.3 L620.2 428.4 L621.0 428.1 L621.7 429.7 L622.5 428.5 L623.2 428.7 L624.0 427.8 L624.7 427.1 L625.5 427.6 L626.2 428.3 L627.0 427.0 L627.7 426.3 L628.5 427.0 L629.2 426.7 L630.0 426.3 L630.7 425.2 L631.5 425.1 L632.2 424.5 L633.0 424.7 L633.7 423.8 L634.5 423.6 L635.2 422.6 L636.0 421.0 L636.7 420.6 L637.5 421.4 L638.2 421.0 L639.0 421.1 L639.7 420.7 L640.5 419.8 L641.2 420.7 L642.0 421.2 L642.7 421.8 L643.5 421.0 L644.2 421.0 L645.0 421.0 L645.7 422.1 L646.5 422.1 L647.2 420.8 L648.0 422.4 L648.7 421.1 L649.5 420.6 L650.2 420.3 L651.0 420.6 L651.7 422.0 L652.5 422.0 L653.2 419.8 L654.0 419.9 L654.7 420.1 L655.5 420.1 L656.2 419.4 L657.0 418.6 L657.7 419.1 L658.5 418.8 L659.2 418.0 L660.0 418.8 L660.7 417.8 L661.5 418.2 L662.2 421.1 L663.0 421.9 L663.7 423.3 L664.5 423.7 L665.2 424.6 L666.0 425.9 L666.7 425.2 L667.5 426.2 L668.2 425.8 L669.0 425.4 L669.7 424.5 L670.5 425.3 L671.2 426.1 L672.0 425.9 L672.7 425.5 L673.5 424.7 L674.2 424.9 L675.0 425.0 L675.7 424.7 L676.5 425.0 L677.2 424.0 L678.0 423.0 L678.7 422.9 L679.5 423.6 L680.2 423.2 L681.0 424.2 L681.7 424.6 L682.5 424.3 L683.2 424.8 L684.0 424.9 L684.7 425.2 L685.5 425.1 L686.2 425.4 L687.0 426.5 L687.7 426.0 L688.5 426.4 L689.2 427.3 L690.0 427.5 L690.7 427.0 L691.5 427.6 L692.2 427.1 L693.0 427.3 L693.7 427.1 L694.5 426.6 L695.2 426.3 L696.0 426.1 L696.7 424.2 L697.5 424.8 L698.2 424.9 L699.0 424.2 L699.7 423.7 L700.5 423.7 L701.2 424.3 L702.0 423.0 L702.7 422.5 L703.5 422.5 L704.2 422.3 L705.0 423.3 L705.7 422.7 L706.5 423.8 L707.2 424.0 L708.0 423.9 L708.7 424.3 L709.5 423.8 L710.2 423.1 L711.0 424.1 L711.7 424.6 L712.5 423.6 L713.2 423.9 L714.0 425.3 L714.7 425.0 L715.5 425.7 L716.2 425.4 L717.0 425.2 L717.7 425.6 L718.5 425.9 L719.2 425.6 L720.0 425.6 L720.7 426.0 L721.5 425.8 L722.2 427.1 L723.0 425.3 L723.7 424.8 L724.5 424.8 L725.2 425.9 L726.0 425.0 L726.7 425.2 L727.5 424.9 L728.2 425.0 L729.0 424.0 L729.7 424.7 L730.5 424.2 L731.2 425.0 L732.0 424.6 L732.7 423.5 L733.5 423.5 L734.2 424.2 L735.0 424.4 L735.7 424.1 L736.5 423.4 L737.2 424.0 L738.0 422.0 L738.7 422.9 L739.5 422.5 L740.2 422.4 L741.0 423.1 L741.7 423.0 L742.5 423.7 L743.2 424.2 L744.0 425.2 L744.7 426.0 L745.5 425.9 L746.2 427.4 L747.0 427.1 L747.7 429.2 L748.5 428.2 L749.2 429.4 L750.0 429.7 L750.7 430.9 L751.5 431.4 L752.2 430.0 L753.0 431.1 L753.7 430.6 L754.5 429.7 L755.2 428.9 L756.0 429.4 L756.7 427.1 L757.5 427.8 L758.2 428.5 L759.0 427.6 L759.7 428.6 L760.5 426.7 L761.2 426.2 L762.0 426.6 L762.7 426.8 L763.5 427.2 L764.2 425.2 L765.0 426.0 L765.7 426.4 L766.5 425.1 L767.2 425.1 L768.0 424.4 L768.7 425.3 L769.5 425.2 L770.2 424.8 L771.0 424.4 L771.7 424.6 L772.5 423.8 L773.2 424.1 L774.0 424.0 L774.7 424.0 L775.5 423.4 L776.2 423.0 L777.0 423.1 L777.7 421.7 L778.5 421.4 L779.2 423.0 L780.0 422.0 L780.7 421.2 L781.5 421.2 L782.2 421.3 L783.0 421.2 L783.7 420.5 L784.5 421.3 L785.2 419.6 L786.0 421.9 L786.7 419.6 L787.5 421.0 L788.2 420.5 L789.0 419.2 L789.7 419.5 L790.5 420.1 L791.2 420.3 L792.0 419.9 L792.7 420.1 L793.5 420.2 L794.2 419.6 L795.0 420.4 L795.7 421.8 L796.5 420.4 L797.2 420.4 L798.0 421.5 L798.7 422.0 L799.5 422.0 L800.2 421.3 L801.0 421.8 L801.7 422.1 L802.5 422.1 L803.2 422.6 L804.0 423.1 L804.7 423.0 L805.5 422.9 L806.2 422.9 L807.0 424.2 L807.7 422.7 L808.5 424.7 L809.2 424.2 L810.0 424.0 L810.7 423.7 L811.5 425.3 L812.2 425.1 L813.0 425.1 L813.7 425.9 L814.5 424.0 L815.2 425.2 L816.0 425.0 L816.7 424.7 L817.5 425.1 L818.2 425.3 L819.0 425.2 L819.7 424.8 L820.5 424.1 L821.2 425.1 L822.0 425.1 L822.7 425.8 L823.5 425.1 L824.2 424.6 L825.0 423.9 L825.7 426.0 L826.5 424.1 L827.2 424.5 L828.0 424.7 L828.7 424.8 L829.5 425.9 L830.2 425.3 L831.0 426.1 L831.7 427.3 L832.5 427.2 L833.2 428.1 L834.0 429.9 L834.7 429.9 L835.5 430.4 L836.2 430.8 L837.0 431.6 L837.7 431.6 L838.5 431.0 L839.2 432.0 L840.0 430.9 L840.7 432.3 L841.5 431.4 L842.2 430.4 L843.0 430.8 L843.7 431.7 L844.5 430.8 L845.2 432.1 L846.0 431.6 L846.7 431.8 L847.5 430.9 L848.2 430.9 L849.0 429.6 L849.7 430.4 L850.5 429.2 L851.2 429.2 L852.0 428.2 L852.7 428.8 L853.5 428.7 L854.2 428.2 L855.0 427.4 L855.7 428.3 L856.5 428.1 L857.2 427.3 L858.0 427.5 L858.7 427.4 L859.5 426.1 L860.2 426.3 L861.0 425.1 L861.7 425.2 L862.5 425.8 L863.2 424.8 L864.0 425.2 L864.7 424.9 L865.5 423.3 L866.2 423.9 L867.0 424.8 L867.7 423.7 L868.5 423.5 L869.2 422.8 L870.0 422.0 L870.7 421.8 L871.5 424.0 L872.2 422.2 L873.0 421.7 L873.7 422.0 L874.5 420.7 L875.2 422.4 L876.0 422.4 L876.7 420.9 L877.5 421.3 L878.2 420.5 L879.0 421.2 L879.7 420.2 L880.5 420.4 L881.2 421.0 L882.0 420.4 L882.7 419.8 L883.5 418.9 L884.2 418.7 L885.0 420.1 L885.7 419.6 L886.5 419.5 L887.2 420.2 L888.0 419.7 L888.7 419.4 L889.5 419.8 L890.2 420.0 L891.0 420.1 L891.7 421.6 L892.5 420.7 L893.2 420.6 L894.0 420.4 L894.7 420.3 L895.5 420.2 L896.2 419.9 L897.0 420.8 L897.7 420.3 L898.5 420.2 L899.2 420.8 L900.0 420.4 L900.7 422.3 L901.5 422.4 L902.2 421.3 L903.0 423.7 L903.7 423.7 L904.5 422.7 L905.2 424.8 L906.0 425.0 L906.7 425.3 L907.5 426.9 L908.2 428.4 L909.0 428.8 L909.7 428.5 L910.5 429.7 L911.2 429.9 L912.0 431.0 L912.7 430.4 L913.5 430.0 L914.2 430.1 L915.0 429.6 L915.7 430.3 L916.5 431.4 L917.2 429.9 L918.0 431.2 L918.7 431.1 L919.5 431.7 L920.2 430.7 L921.0 431.9 L921.7 432.4 L922.5 432.9 L923.2 430.8 L924.0 431.8 L924.7 431.8 L925.5 432.0 L926.2 431.5 L927.0 432.6 L927.7 433.5 L928.5 432.9 L929.2 431.5 L930.0 431.6 L930.7 432.2 L931.5 431.8 L932.2 431.2 L933.0 432.2 L933.7 431.7 L934.5 431.9 L935.2 431.2 L936.0 431.9 L936.7 430.8 L937.5 430.4 L938.2 430.9 L939.0 430.1 L939.7 431.4 L940.5 431.0 L941.2 429.6 L942.0 430.6 L942.7 430.9 L943.5 430.1 L944.2 430.4 L945.0 429.7 L945.7 429.8 L946.5 429.6 L947.2 429.8 L948.0 428.8 L948.7 428.6 L949.5 429.2 L950.2 428.6 L951.0 429.0 L951.7 428.2 L952.5 427.6 L953.2 428.6 L954.0 428.1 L954.7 428.2 L955.5 427.5 L956.2 427.3 L957.0 428.0 L957.7 426.2 L958.5 427.9 L959.2 427.1 L960.0 426.6 L960.7 426.5 L961.5 426.6 L962.2 425.7 L963.0 426.1 L963.7 425.3 L964.5 424.6 L965.2 425.6 L966.0 425.3 L966.7 425.5 L967.5 425.3 L968.2 425.2 L969.0 425.1 L969.7 423.9 L970.5 425.0 L971.2 425.6 L972.0 423.7 L972.7 423.1 L973.5 424.0 L974.2 424.0 L975.0 423.9 L975.7 424.0 L976.5 422.2 L977.2 423.0 L978.0 423.0 L978.7 423.4 L979.5 422.3 L980.2 422.8 L981.0 422.6 L981.7 422.8 L982.5 422.8 L983.2 422.8 L984.0 422.0 L984.7 423.0 L985.5 423.1 L986.2 422.8 L987.0 421.1 L987.7 422.7 L988.5 422.8 L989.2 422.7 L990.0 424.1 L990.7 423.7 L991.5 423.2 L992.2 423.6 L993.0 425.1 L993.7 422.8 L994.5 423.6 L995.2 423.1 L996.0 424.3 L996.7 424.1 L997.5 423.4 L998.2 423.9 L999.0 423.1 L999.7 422.7 L1000.5 424.1 L1001.2 424.6 L1002.0 423.5 L1002.7 423.4 L1003.5 422.8 L1004.2 425.0 L1005.0 423.2 L1005.7 423.5 L1006.5 424.1 L1007.2 425.0 L1008.0 424.6 L1008.7 424.7 L1009.5 424.9 L1010.2 425.5 L1011.0 425.2 L1011.7 425.4 L1012.5 425.5 L1013.2 425.1 L1014.0 426.6 L1014.7 425.6 L1015.5 425.2 L1016.2 425.7 L1017.0 425.9 L1017.7 426.3 L1018.5 425.0 L1019.2 425.0 L1020.0 425.8 L1020.7 425.9 L1021.5 425.0 L1022.2 424.9 L1023.0 425.6 L1023.7 425.6 L1024.5 424.9 L1025.2 425.5 L1026.0 426.9 L1026.7 425.7 L1027.5 427.0 L1028.2 425.8 L1029.0 427.6 L1029.7 427.8 L1030.5 426.8 L1031.2 426.9 L1032.0 427.8 L1032.7 426.9 L1033.5 428.3 L1034.2 429.7 L1035.0 430.2 L1035.7 431.2 L1036.5 432.0 L1037.2 433.6 L1038.0 433.6 L1038.7 436.0 L1039.5 436.1 L1040.2 436.9 L1041.0 436.8 L1041.7 437.4 L1042.5 437.6 L1043.2 438.0 L1044.0 436.2 L1044.7 436.9 L1045.5 436.4 L1046.2 436.0 L1047.0 436.5 L1047.7 435.9 L1048.5 436.7 L1049.2 434.6 L1050.0 436.3 L1050.7 434.7 L1051.5 434.5 L1052.2 435.7 L1053.0 435.1 L1053.7 435.1 L1054.5 434.2 L1055.2 433.8 L1056.0 433.6 L1056.7 433.7 L1057.5 432.9 L1058.2 432.8 L1059.0 432.2 L1059.7 432.5 L1060.5 431.4 L1061.2 430.5 L1062.0 429.9 L1062.7 431.0 L1063.5 430.7 L1064.2 430.9 L1065.0 429.6 L1065.7 429.1 L1066.5 428.5 L1067.2 429.5 L1068.0 428.4 L1068.7 428.9 L1069.5 427.9 L1070.2 427.5 L1071.0 426.2 L1071.7 426.5 L1072.5 426.9 L1073.2 425.8 L1074.0 426.1 L1074.7 424.5 L1075.5 425.6 L1076.2 426.2 L1077.0 424.9 L1077.7 424.1 L1078.5 422.8 L1079.2 422.8 L1080.0 422.4 L1080.7 422.5 L1081.5 420.9 L1082.2 421.2 L1083.0 421.7 L1083.7 421.1 L1084.5 421.3 L1085.2 421.2 L1086.0 420.0 L1086.7 419.8 L1087.5 420.7 L1088.2 420.3 L1089.0 420.3 L1089.7 419.7 L1090.5 420.6 L1091.2 420.2 L1092.0 420.5 L1092.7 420.6 L1093.5 422.0 L1094.2 422.5 L1095.0 422.9 L1095.7 424.3 L1096.5 424.3 L1097.2 426.1 L1098.0 427.1 L1098.7 428.3 L1099.5 428.3 L1100.2 429.0 L1101.0 430.2 L1101.7 430.4 L1102.5 431.4 L1103.2 433.0 L1104.0 431.4 L1104.7 430.7 L1105.5 430.5 L1106.2 431.6 L1107.0 429.8 L1107.7 430.1 L1108.5 429.9 L1109.2 429.5 L1110.0 429.5 L1110.7 429.0 L1111.5 429.5 L1112.2 430.7 L1113.0 430.8 L1113.7 429.9 L1114.5 430.5 L1115.2 430.3 L1116.0 430.2 L1116.7 430.1 L1117.5 430.8 L1118.2 430.5 L1119.0 429.6 L1119.7 426.9 L1120.5 426.8 L1121.2 426.4 L1122.0 426.7 L1122.7 427.4 L1123.5 427.7 L1124.2 429.1 L1125.0 429.0 L1125.7 429.2 L1126.5 429.4 L1127.2 430.9 L1128.0 430.8 L1128.7 432.2 L1129.5 431.9 L1130.2 431.7 L1131.0 432.0 L1131.7 432.6 L1132.5 433.3 L1133.2 434.0 L1134.0 434.3 L1134.7 435.3 L1135.5 434.0 L1136.2 435.1 L1137.0 434.0 L1137.7 433.8 L1138.5 433.7 L1139.2 433.3 L1140.0 432.8 L1140.7 432.1 L1141.5 433.3 L1142.2 432.1 L1143.0 432.5 L1143.7 431.0 L1144.5 429.9 L1145.2 430.5 L1146.0 431.0 L1146.7 429.8 L1147.5 430.0 L1148.2 428.9 L1149.0 429.9 L1149.7 429.0 L1150.5 429.0 L1151.2 427.9 L1152.0 428.4 L1152.7 428.2 L1153.5 428.4 L1154.2 428.8 L1155.0 429.6 L1155.7 429.5 L1156.5 429.8 L1157.2 431.0 L1158.0 431.8 L1158.7 431.7 L1159.5 432.8 L1160.2 433.7 L1161.0 432.6 L1161.7 433.9 L1162.5 433.7 L1163.2 433.9 L1164.0 433.9 L1164.7 432.2 L1165.5 433.5 L1166.2 433.2 L1167.0 432.7 L1167.7 432.4 L1168.5 432.7 L1169.2 431.1 L1170.0 431.6 L1170.7 431.4 L1171.5 430.5 L1172.2 428.9 L1173.0 429.5 L1173.7 429.0 L1174.5 428.0 L1175.2 428.5 L1176.0 428.5 L1176.7 427.6 L1177.5 427.3 L1178.2 427.9 L1179.0 426.4 L1179.7 425.8 L1180.5 426.0 L1181.2 426.2 L1182.0 425.6 L1182.7 425.1 L1183.5 424.7 L1184.2 425.5 L1185.0 425.2 L1185.7 423.6 L1186.5 424.7 L1187.2 423.0 L1188.0 425.1 L1188.7 424.4 L1189.5 423.6 L1190.2 423.1 L1191.0 423.6 L1191.7 422.6 L1192.5 423.8 L1193.2 423.1 L1194.0 422.3 L1194.7 423.1 L1195.5 423.6 L1196.2 422.2 L1197.0 422.5 L1197.7 424.3 L1198.5 424.4 L1199.2 424.9 L1200.0 426.3 L1200.7 427.6 L1201.5 427.6 L1202.2 429.0 L1203.0 429.1 L1203.7 430.1 L1204.5 431.1 L1205.2 433.3 L1206.0 434.0 L1206.7 434.8 L1207.5 435.1 L1208.2 434.5 L1209.0 434.7 L1209.7 434.8 L1210.5 434.9 L1211.2 434.1 L1212.0 434.6 L1212.7 434.7 L1213.5 434.8 L1214.2 434.4 L1215.0 434.8 L1215.7 435.1 L1216.5 435.1 L1217.2 435.3 L1218.0 435.5 L1218.7 435.4 L1219.5 435.7 L1220.2 435.6 L1221.0 435.9 L1221.7 435.3 L1222.5 434.5 L1223.2 435.9 L1224.0 435.1 L1224.7 435.0 L1225.5 434.5 L1226.2 434.0 L1227.0 433.1 L1227.7 433.9 L1228.5 433.2 L1229.2 433.0 L1230.0 431.9 L1230.7 433.8 L1231.5 432.1 L1232.2 432.0 L1233.0 432.7 L1233.7 432.6 L1234.5 431.6 L1235.2 431.9 L1236.0 431.9 L1236.7 431.7 L1237.5 431.7 L1238.2 431.7 L1239.0 430.9 L1239.7 430.4 L1240.5 432.9 L1241.2 431.9 L1242.0 431.9 L1242.7 433.3 L1243.5 433.6 L1244.2 433.4 L1245.0 435.4 L1245.7 433.2 L1246.5 435.6 L1247.2 435.3 L1248.0 435.9 L1248.7 436.3 L1249.5 436.4 L1250.2 437.1 L1251.0 436.6 L1251.7 437.5 L1252.5 438.6 L1253.2 435.8 L1254.0 437.6 L1254.7 435.4 L1255.5 435.9 L1256.2 436.5 L1257.0 435.5 L1257.7 435.1 L1258.5 434.3 L1259.2 434.8 L1260.0 434.4 L1260.7 433.9 L1261.5 433.1 L1262.2 433.7 L1263.0 433.5 L1263.7 433.6 L1264.5 433.0 L1265.2 433.2 L1266.0 432.8 L1266.7 430.2 L1267.5 432.4 L1268.2 431.1 L1269.0 430.3 L1269.7 430.8 L1270.5 430.8 L1271.2 429.1 L1272.0 429.0 L1272.7 429.8 L1273.5 428.8 L1274.2 429.6 L1275.0 428.6 L1275.7 427.9 L1276.5 427.1 L1277.2 427.9 L1278.0 426.3 L1278.7 426.2 L1279.5 425.9 L1280.2 427.3 L1281.0 427.0 L1281.7 426.2 L1282.5 426.5 L1283.2 427.4 L1284.0 428.1 L1284.7 427.4 L1285.5 429.4 L1286.2 428.4 L1287.0 429.5 L1287.7 428.0 L1288.5 429.6 L1289.2 429.7 L1290.0 431.5 L1290.7 430.7 L1291.5 430.5 L1292.2 432.6 L1293.0 431.5 L1293.7 432.3 L1294.5 432.0 L1295.2 433.4 L1296.0 433.5 L1296.7 433.6 L1297.5 434.0 L1298.2 434.2 L1299.0 434.5 L1299.7 434.5 L1300.5 436.3 L1301.2 436.5 L1302.0 435.2 L1302.7 435.1 L1303.5 435.8 L1304.2 436.6 L1305.0 435.1 L1305.7 434.8 L1306.5 434.7 L1307.2 434.8 L1308.0 434.3 L1308.7 434.8 L1309.5 434.6 L1310.2 434.2 L1311.0 434.6 L1311.7 433.4 L1312.5 433.0 L1313.2 434.8 L1314.0 431.9 L1314.7 431.9 L1315.5 431.3 L1316.2 432.6 L1317.0 431.6 L1317.7 432.6 L1318.5 430.7 L1319.2 431.5 L1320.0 431.2 L1320.7 430.7 L1321.5 431.7 L1322.2 430.7 L1323.0 430.9 L1323.7 430.2 L1324.5 430.4 L1325.2 429.9 L1326.0 430.0 L1326.7 429.7 L1327.5 429.2 L1328.2 429.6 L1329.0 428.5 L1329.7 427.5 L1330.5 426.8 L1331.2 426.9 L1332.0 426.7 L1332.7 424.6 L1333.5 424.5 L1334.2 424.3 L1335.0 424.1 L1335.7 424.1 L1336.5 423.3 L1337.2 424.1 L1338.0 424.8 L1338.7 424.6 L1339.5 424.5 L1340.2 424.2 L1341.0 425.1 L1341.7 425.2 L1342.5 425.4 L1343.2 426.4 L1344.0 426.4 L1344.7 425.5 L1345.5 427.1 L1346.2 428.2 L1347.0 429.8 L1347.7 432.0 L1348.5 432.9 L1349.2 433.5 L1350.0 432.6 L1350.7 432.3 L1351.5 432.0 L1352.2 430.9 L1353.0 431.2 L1353.7 430.0 L1354.5 428.8 L1355.2 430.0 L1356.0 426.7 L1356.7 427.6 L1357.5 428.1 L1358.2 429.1 L1359.0 429.6 L1359.7 430.2 L1360.5 430.7 L1361.2 430.4 L1362.0 430.7 L1362.7 431.6 L1363.5 431.5 L1364.2 431.2 L1365.0 431.1 L1365.7 431.1 L1366.5 430.4 L1367.2 428.9 L1368.0 429.6 L1368.7 428.5 L1369.5 426.9 L1370.2 427.5 L1371.0 428.1 L1371.7 428.2 L1372.5 428.1 L1373.2 428.1 L1374.0 429.5 L1374.7 429.4 L1375.5 429.6 L1376.2 429.7 L1377.0 429.8 L1377.7 430.4 L1378.5 432.3 L1379.2 434.1 L1380.0 434.9 L1380.7 435.2 L1381.5 437.4 L1382.2 437.5 L1383.0 438.1 L1383.7 439.9 L1384.5 440.2 L1385.2 439.2 L1386.0 438.7 L1386.7 439.4 L1387.5 438.1 L1388.2 439.4 L1389.0 440.2 L1389.7 439.6 L1390.5 439.0 L1391.2 439.8 L1392.0 439.1 L1392.7 440.1 L1393.5 439.2 L1394.2 440.5 L1395.0 439.2 L1395.7 439.5 L1396.5 438.9 L1397.2 438.6 L1398.0 439.3 L1398.7 439.0 L1399.5 438.1 L1400.2 438.7 L1401.0 437.9 L1401.7 437.6 L1402.5 437.6 L1403.2 437.7 L1404.0 437.6 L1404.7 437.7 L1405.5 437.0 L1406.2 436.1 L1407.0 435.9 L1407.7 436.2 L1408.5 435.1 L1409.2 435.5 L1410.0 435.1 L1410.7 435.5 L1411.5 436.6 L1412.2 438.0 L1413.0 439.2 L1413.7 438.0 L1414.5 437.4 L1415.2 435.6 L1416.0 436.0 L1416.7 435.5 L1417.5 433.8 L1418.2 436.3 L1419.0 434.9 L1419.7 434.2 L1420.5 436.8 L1421.2 436.2 L1422.0 436.0 L1422.7 436.5 L1423.5 437.5" stroke="#8c564b" stroke-width="3.7" fill="none" stroke-linejoin="round" stroke-linecap="butt"/>
<path d="M227.6 677.6 L228.3 677.4 L229.1 677.8 L229.8 677.1 L230.6 677.1 L231.3 677.2 L232.1 677.1 L232.8 677.5 L233.6 677.2 L234.3 676.9 L235.1 677.0 L235.8 676.6 L236.6 677.2 L237.3 677.1 L238.1 677.2 L238.8 677.0 L239.6 677.1 L240.3 676.7 L241.1 676.9 L241.8 676.9 L242.6 676.5 L243.3 677.0 L244.1 676.8 L244.8 676.8 L245.6 676.6 L246.3 677.3 L247.1 676.7 L247.8 676.4 L248.6 676.4 L249.3 676.8 L250.1 676.5 L250.8 676.3 L251.6 676.3 L252.3 676.7 L253.1 676.4 L253.8 676.8 L254.6 676.7 L255.3 676.5 L256.1 677.3 L256.9 677.4 L257.6 677.3 L258.4 677.6 L259.1 677.6 L259.9 678.3 L260.6 678.2 L261.4 678.6 L262.1 678.8 L262.9 678.8 L263.6 678.9 L264.4 678.6 L265.1 678.3 L265.9 678.4 L266.6 678.1 L267.4 678.6 L268.1 678.4 L268.9 678.0 L269.6 678.3 L270.4 678.1 L271.1 678.2 L271.9 677.5 L272.6 677.7 L273.4 677.3 L274.1 677.3 L274.9 677.8 L275.6 676.7 L276.4 677.0 L277.1 677.3 L277.9 677.3 L278.6 676.7 L279.4 676.3 L280.1 676.3 L280.9 676.8 L281.6 676.9 L282.4 676.8 L283.1 676.2 L283.9 676.7 L284.6 676.2 L285.4 676.3 L286.1 676.0 L286.9 676.4 L287.6 675.7 L288.4 675.1 L289.1 675.6 L289.9 675.7 L290.6 675.6 L291.4 675.2 L292.1 675.3 L292.9 674.9 L293.6 675.1 L294.4 675.1 L295.1 675.0 L295.9 675.4 L296.6 674.2 L297.4 674.9 L298.1 674.9 L298.9 674.4 L299.6 674.8 L300.4 674.8 L301.1 674.5 L301.9 675.0 L302.6 675.4 L303.4 675.1 L304.1 675.1 L304.9 675.2 L305.6 674.9 L306.4 675.2 L307.1 674.7 L307.9 675.0 L308.6 675.2 L309.4 675.4 L310.1 675.0 L310.9 675.0 L311.6 675.2 L312.4 675.1 L313.1 675.2 L313.9 675.4 L314.6 674.9 L315.4 675.4 L316.1 675.3 L316.9 675.1 L317.6 674.9 L318.4 675.1 L319.1 675.3 L319.9 675.6 L320.6 674.7 L321.4 675.6 L322.1 675.4 L322.9 675.0 L323.6 675.7 L324.4 675.5 L325.1 675.6 L325.9 675.2 L326.6 675.1 L327.4 675.8 L328.1 676.2 L328.9 676.1 L329.6 676.2 L330.4 676.4 L331.1 676.2 L331.9 677.3 L332.6 677.2 L333.4 677.9 L334.1 677.5 L334.9 678.3 L335.6 678.0 L336.4 678.7 L337.1 679.2 L337.9 678.7 L338.6 679.1 L339.4 678.7 L340.1 678.4 L340.9 678.6 L341.6 678.7 L342.4 678.2 L343.1 678.3 L343.9 678.1 L344.6 678.0 L345.4 678.1 L346.1 678.3 L346.9 677.9 L347.6 678.3 L348.4 677.8 L349.1 677.6 L349.9 678.1 L350.6 678.1 L351.4 677.4 L352.1 677.7 L352.9 677.1 L353.6 677.3 L354.4 677.2 L355.1 677.5 L355.9 676.8 L356.6 677.0 L357.4 676.8 L358.1 677.0 L358.9 676.5 L359.6 676.4 L360.4 677.6 L361.1 676.8 L361.9 676.2 L362.6 676.8 L363.4 676.1 L364.1 675.9 L364.9 677.2 L365.6 677.5 L366.4 677.3 L367.1 677.6 L367.9 678.5 L368.6 679.4 L369.4 679.4 L370.1 679.8 L370.9 679.7 L371.6 679.9 L372.4 680.7 L373.1 680.8 L373.9 680.5 L374.6 680.5 L375.4 680.8 L376.1 680.1 L376.9 680.7 L377.6 680.6 L378.4 680.1 L379.1 680.3 L379.9 680.2 L380.6 680.3 L381.4 679.8 L382.1 680.0 L382.9 680.1 L383.6 680.0 L384.4 680.0 L385.1 680.0 L385.9 679.8 L386.6 679.7 L387.4 680.1 L388.1 679.6 L388.9 679.6 L389.6 679.4 L390.4 679.3 L391.1 679.7 L391.9 679.6 L392.6 679.5 L393.4 679.6 L394.1 679.4 L394.9 679.6 L395.6 679.9 L396.4 679.4 L397.1 679.2 L397.9 679.7 L398.6 679.4 L399.4 678.7 L400.1 679.5 L400.9 679.2 L401.6 679.3 L402.4 678.7 L403.1 678.7 L403.9 678.7 L404.6 679.1 L405.4 678.7 L406.1 678.9 L406.9 679.5 L407.6 679.2 L408.4 679.5 L409.1 679.4 L409.9 679.2 L410.6 679.8 L411.4 680.0 L412.1 679.7 L412.9 680.5 L413.6 680.6 L414.4 680.7 L415.1 680.5 L415.9 680.4 L416.6 680.8 L417.4 681.0 L418.1 681.0 L418.9 681.0 L419.6 681.0 L420.4 681.2 L421.1 681.6 L421.9 681.6 L422.6 682.3 L423.4 681.8 L424.1 682.0 L424.9 681.8 L425.6 681.8 L426.4 681.6 L427.1 681.8 L427.9 681.5 L428.6 681.3 L429.4 682.3 L430.1 681.6 L430.9 682.0 L431.6 681.9 L432.4 681.7 L433.1 682.1 L433.9 681.7 L434.6 682.0 L435.4 681.8 L436.1 682.2 L436.9 682.2 L437.6 681.9 L438.4 682.2 L439.1 681.9 L439.9 682.2 L440.6 681.6 L441.4 681.1 L442.1 681.5 L442.9 681.5 L443.6 681.2 L444.4 681.2 L445.1 681.1 L445.9 680.7 L446.6 681.5 L447.4 680.7 L448.1 680.5 L448.9 680.3 L449.6 680.4 L450.4 680.6 L451.1 680.9 L451.9 680.6 L452.6 680.1 L453.4 679.9 L454.1 679.8 L454.9 680.1 L455.6 680.3 L456.4 679.8 L457.1 680.3 L457.9 680.3 L458.6 679.8 L459.4 679.3 L460.1 680.5 L460.9 680.3 L461.6 680.8 L462.4 681.1 L463.1 680.7 L463.9 681.2 L464.6 681.4 L465.4 681.3 L466.1 681.9 L466.9 681.8 L467.6 681.7 L468.4 682.2 L469.1 681.6 L469.9 682.0 L470.6 681.3 L471.4 681.6 L472.1 681.0 L472.9 681.1 L473.6 681.3 L474.4 680.3 L475.1 681.0 L475.9 680.6 L476.6 680.9 L477.4 680.6 L478.1 680.4 L478.9 679.9 L479.6 681.1 L480.4 679.9 L481.1 679.9 L481.9 679.7 L482.6 679.7 L483.4 679.8 L484.1 679.2 L484.9 679.8 L485.6 679.3 L486.4 679.5 L487.1 678.6 L487.9 679.0 L488.6 678.9 L489.4 678.8 L490.1 678.6 L490.9 678.8 L491.6 678.8 L492.4 678.3 L493.1 677.9 L493.9 678.6 L494.6 678.2 L495.4 678.5 L496.1 678.3 L496.9 677.9 L497.6 677.4 L498.4 677.6 L499.1 677.4 L499.9 677.9 L500.6 677.1 L501.4 678.1 L502.1 677.6 L502.9 678.2 L503.6 678.1 L504.4 678.6 L505.1 678.9 L505.9 679.4 L506.6 679.4 L507.4 680.0 L508.1 680.5 L508.9 680.2 L509.6 679.7 L510.4 679.9 L511.1 679.8 L511.9 679.6 L512.6 679.9 L513.4 679.8 L514.1 680.0 L514.9 679.4 L515.6 678.4 L516.4 679.0 L517.1 679.1 L517.9 678.6 L518.6 678.5 L519.4 678.9 L520.1 678.5 L520.9 678.1 L521.6 678.2 L522.4 677.3 L523.1 678.2 L523.9 677.7 L524.6 678.0 L525.4 677.6 L526.1 677.6 L526.9 677.6 L527.6 678.5 L528.4 677.2 L529.1 677.1 L529.9 677.3 L530.6 677.6 L531.4 677.5 L532.1 677.4 L532.9 677.0 L533.6 677.0 L534.4 676.7 L535.1 676.8 L535.9 676.5 L536.6 676.2 L537.4 676.3 L538.1 677.1 L538.9 676.5 L539.6 676.1 L540.4 676.2 L541.1 676.0 L541.9 676.4 L542.6 676.0 L543.4 675.7 L544.1 676.0 L544.9 675.9 L545.6 675.5 L546.4 675.4 L547.1 675.5 L547.9 674.9 L548.6 675.1 L549.4 675.6 L550.1 675.4 L550.9 675.4 L551.6 674.9 L552.4 674.8 L553.1 674.8 L553.9 674.6 L554.6 675.1 L555.4 674.5 L556.1 674.9 L556.9 674.2 L557.6 674.5 L558.4 674.7 L559.1 674.0 L559.9 673.9 L560.6 673.8 L561.4 673.5 L562.1 673.8 L562.9 673.6 L563.6 674.3 L564.4 673.5 L565.1 672.9 L565.9 674.0 L566.6 674.3 L567.4 674.4 L568.1 674.8 L568.9 675.3 L569.6 675.2 L570.4 675.7 L571.1 676.1 L571.9 676.8 L572.6 677.1 L573.4 677.0 L574.1 676.9 L574.9 677.7 L575.6 677.4 L576.4 677.7 L577.1 677.3 L577.9 677.2 L578.6 677.3 L579.4 676.8 L580.1 676.8 L580.9 677.5 L581.6 676.5 L582.4 677.0 L583.1 676.8 L583.9 676.8 L584.6 676.9 L585.4 676.0 L586.1 676.6 L586.9 675.7 L587.6 676.2 L588.4 676.2 L589.1 676.4 L589.9 676.3 L590.6 675.6 L591.4 675.8 L592.1 675.7 L592.9 675.5 L593.6 675.4 L594.4 675.4 L595.1 675.8 L595.9 675.8 L596.6 675.5 L597.4 675.7 L598.1 675.2 L598.9 674.8 L599.6 674.8 L600.4 675.0 L601.1 675.2 L601.9 675.2 L602.6 674.5 L603.4 674.9 L604.1 674.4 L604.9 674.7 L605.6 674.7 L606.4 674.8 L607.1 674.1 L607.9 674.3 L608.6 674.3 L609.4 673.9 L610.1 674.0 L610.9 674.1 L611.6 673.4 L612.4 673.6 L613.1 674.4 L613.9 673.8 L614.6 673.4 L615.4 672.9 L616.1 673.1 L616.9 673.5 L617.6 673.5 L618.4 673.3 L619.1 673.3 L619.9 672.9 L620.6 673.4 L621.4 672.6 L622.1 673.0 L622.9 672.7 L623.6 672.2 L624.4 672.9 L625.1 672.4 L625.9 672.7 L626.6 672.7 L627.4 672.3 L628.1 672.0 L628.9 672.1 L629.6 672.1 L630.4 672.4 L631.1 672.2 L631.9 672.3 L632.6 672.0 L633.4 671.5 L634.1 671.9 L634.9 671.8 L635.6 671.4 L636.4 671.5 L637.1 671.2 L637.9 670.9 L638.6 671.2 L639.4 671.5 L640.1 671.1 L640.9 670.5 L641.6 670.9 L642.4 671.5 L643.1 671.2 L643.9 671.4 L644.6 670.8 L645.4 670.9 L646.1 670.7 L646.9 670.8 L647.6 671.1 L648.4 671.0 L649.1 670.8 L649.9 671.0 L650.6 670.5 L651.4 670.7 L652.1 670.4 L652.9 670.3 L653.6 670.4 L654.4 670.4 L655.1 671.2 L655.9 671.1 L656.6 671.0 L657.4 670.5 L658.1 670.8 L658.9 670.2 L659.6 670.4 L660.4 670.6 L661.1 670.1 L661.9 671.1 L662.6 671.6 L663.4 671.3 L664.1 671.6 L664.9 672.7 L665.6 673.2 L666.4 673.5 L667.1 673.2 L667.9 673.7 L668.6 673.6 L669.4 673.3 L670.1 674.0 L670.9 673.6 L671.6 673.8 L672.4 674.1 L673.1 673.4 L673.9 673.5 L674.6 673.1 L675.4 673.5 L676.1 673.7 L676.9 674.4 L677.6 673.8 L678.4 673.7 L679.1 673.3 L679.9 673.4 L680.6 673.1 L681.4 673.3 L682.1 673.7 L682.9 673.8 L683.6 673.4 L684.4 673.7 L685.1 673.5 L685.9 673.9 L686.6 673.9 L687.4 673.6 L688.1 673.6 L688.9 673.4 L689.6 673.6 L690.4 674.4 L691.1 673.8 L691.9 674.0 L692.6 673.9 L693.4 674.2 L694.1 673.6 L694.9 673.4 L695.6 673.9 L696.4 673.9 L697.1 673.4 L697.9 673.9 L698.6 673.5 L699.4 673.5 L700.1 674.0 L700.9 673.6 L701.6 673.5 L702.4 673.3 L703.1 673.4 L703.9 673.6 L704.6 673.4 L705.4 673.0 L706.1 673.4 L706.9 673.2 L707.6 673.3 L708.4 673.1 L709.1 672.5 L709.9 672.6 L710.6 672.9 L711.4 672.4 L712.1 672.6 L712.9 673.6 L713.6 673.1 L714.4 672.8 L715.1 673.0 L715.9 672.2 L716.6 672.9 L717.4 673.1 L718.1 672.8 L718.9 672.3 L719.6 673.0 L720.4 672.5 L721.1 672.5 L721.9 672.7 L722.6 672.5 L723.4 673.2 L724.1 672.5 L724.9 673.1 L725.6 672.6 L726.4 672.1 L727.1 672.4 L727.9 672.4 L728.6 672.8 L729.4 672.7 L730.1 673.0 L730.9 672.1 L731.6 672.1 L732.4 672.9 L733.1 671.9 L733.9 672.3 L734.6 672.6 L735.4 671.8 L736.1 672.0 L736.9 671.8 L737.6 672.2 L738.4 672.1 L739.1 671.9 L739.9 672.1 L740.6 671.7 L741.4 671.8 L742.1 672.0 L742.9 672.4 L743.6 671.9 L744.4 672.3 L745.1 672.9 L745.9 672.9 L746.6 673.6 L747.4 673.6 L748.1 674.1 L748.9 674.1 L749.6 674.1 L750.4 674.4 L751.1 675.1 L751.9 675.7 L752.6 675.7 L753.4 675.0 L754.1 675.7 L754.9 674.6 L755.6 674.6 L756.4 675.1 L757.1 674.3 L757.9 675.0 L758.6 674.8 L759.4 674.8 L760.1 674.2 L760.9 674.6 L761.6 674.7 L762.4 674.4 L763.1 674.6 L763.9 674.3 L764.6 674.3 L765.4 674.1 L766.1 673.7 L766.9 674.0 L767.6 674.1 L768.4 673.7 L769.1 673.3 L769.9 673.3 L770.6 674.1 L771.4 673.6 L772.1 673.4 L772.9 673.9 L773.6 673.5 L774.4 673.0 L775.1 673.3 L775.9 673.1 L776.6 673.2 L777.4 673.0 L778.1 673.2 L778.9 673.3 L779.6 672.9 L780.4 672.9 L781.1 672.9 L781.9 673.1 L782.6 672.6 L783.4 673.0 L784.1 673.1 L784.9 672.6 L785.6 672.3 L786.4 672.4 L787.1 672.0 L787.9 672.3 L788.6 672.2 L789.4 672.5 L790.1 672.4 L790.9 672.7 L791.6 672.6 L792.4 672.7 L793.1 672.6 L793.9 672.7 L794.6 672.3 L795.4 672.8 L796.1 673.0 L796.9 672.9 L797.6 672.2 L798.4 672.8 L799.1 672.2 L799.9 672.9 L800.6 672.6 L801.4 672.5 L802.1 672.5 L802.9 672.6 L803.6 672.7 L804.4 672.4 L805.1 672.7 L805.9 672.8 L806.6 672.9 L807.4 672.7 L808.1 672.7 L808.9 673.4 L809.6 673.1 L810.4 672.9 L811.1 672.4 L811.9 673.0 L812.6 673.0 L813.4 672.0 L814.1 672.8 L814.9 672.9 L815.6 672.8 L816.4 672.9 L817.1 672.8 L817.9 673.3 L818.6 673.0 L819.4 672.8 L820.1 672.8 L820.9 673.5 L821.6 672.6 L822.4 672.8 L823.1 673.0 L823.9 673.0 L824.6 673.0 L825.4 673.4 L826.1 673.3 L826.9 673.1 L827.6 673.0 L828.4 673.0 L829.1 672.9 L829.9 673.3 L830.6 672.8 L831.4 673.1 L832.1 673.5 L832.9 673.6 L833.6 673.9 L834.4 674.8 L835.1 674.0 L835.9 675.1 L836.6 674.7 L837.4 675.1 L838.1 674.9 L838.9 674.8 L839.6 674.6 L840.4 675.0 L841.1 674.0 L841.9 674.2 L842.6 674.7 L843.4 675.1 L844.1 675.2 L844.9 674.6 L845.6 674.3 L846.4 674.4 L847.1 674.6 L847.9 674.7 L848.6 674.1 L849.4 674.5 L850.1 674.3 L850.9 674.6 L851.6 674.0 L852.4 674.1 L853.1 673.8 L853.9 673.6 L854.6 674.0 L855.4 674.1 L856.1 674.2 L856.9 673.9 L857.6 673.6 L858.4 673.4 L859.1 673.3 L859.9 673.4 L860.6 673.6 L861.4 673.5 L862.1 672.8 L862.9 673.4 L863.6 673.2 L864.4 673.0 L865.1 673.2 L865.9 673.3 L866.6 672.8 L867.4 672.7 L868.1 672.9 L868.9 673.0 L869.6 672.8 L870.4 673.3 L871.1 672.8 L871.9 672.5 L872.6 672.9 L873.4 672.5 L874.1 672.8 L874.9 672.6 L875.6 672.9 L876.4 672.1 L877.1 672.6 L877.9 672.5 L878.6 672.0 L879.4 672.4 L880.1 672.8 L880.9 672.2 L881.6 671.8 L882.4 672.0 L883.1 672.4 L883.9 672.0 L884.6 672.3 L885.4 671.6 L886.1 672.2 L886.9 671.4 L887.6 671.8 L888.4 671.8 L889.1 671.8 L889.9 672.3 L890.6 671.8 L891.4 672.2 L892.1 672.6 L892.9 672.4 L893.6 672.0 L894.4 672.0 L895.1 671.6 L895.9 672.3 L896.6 672.5 L897.4 672.6 L898.1 672.4 L898.9 673.0 L899.6 672.6 L900.4 671.7 L901.1 672.2 L901.9 672.7 L902.6 672.5 L903.4 673.0 L904.1 673.7 L904.9 672.9 L905.6 673.9 L906.4 673.4 L907.1 673.2 L907.9 673.8 L908.6 674.2 L909.4 674.0 L910.1 674.8 L910.9 674.2 L911.6 674.6 L912.4 675.1 L913.1 674.9 L913.9 675.0 L914.6 675.2 L915.4 675.4 L916.1 675.8 L916.9 675.7 L917.6 675.8 L918.4 675.3 L919.1 674.8 L919.9 675.3 L920.6 675.2 L921.4 675.1 L922.1 675.2 L922.9 675.4 L923.6 675.4 L924.4 675.7 L925.1 675.2 L925.9 675.8 L926.6 675.5 L927.4 675.7 L928.1 675.8 L928.9 675.1 L929.6 675.9 L930.4 675.1 L931.1 675.4 L931.9 675.6 L932.6 675.5 L933.4 674.7 L934.1 675.2 L934.9 675.5 L935.6 675.1 L936.4 675.0 L937.1 675.0 L937.9 675.5 L938.6 674.8 L939.4 674.6 L940.1 674.5 L940.9 674.7 L941.6 674.7 L942.4 674.9 L943.1 674.7 L943.9 674.2 L944.6 674.2 L945.4 674.8 L946.1 674.8 L946.9 674.1 L947.6 674.8 L948.4 673.7 L949.1 675.1 L949.9 674.6 L950.6 673.9 L951.4 674.5 L952.1 674.3 L952.9 674.1 L953.6 674.1 L954.4 674.1 L955.1 674.1 L955.9 673.8 L956.6 673.9 L957.4 674.2 L958.1 674.1 L958.9 673.5 L959.6 673.8 L960.4 674.3 L961.1 674.0 L961.9 674.3 L962.6 673.3 L963.4 673.4 L964.1 673.0 L964.9 673.1 L965.6 673.5 L966.4 673.3 L967.1 673.2 L967.9 673.3 L968.6 673.4 L969.4 673.7 L970.1 673.5 L970.9 672.8 L971.6 673.8 L972.4 673.2 L973.1 672.9 L973.9 673.2 L974.6 673.0 L975.4 672.7 L976.1 673.6 L976.9 672.9 L977.6 672.8 L978.4 673.2 L979.1 673.5 L979.9 673.2 L980.6 672.8 L981.4 673.2 L982.1 673.4 L982.9 673.2 L983.6 673.3 L984.4 673.0 L985.1 673.1 L985.9 672.6 L986.6 672.9 L987.4 672.8 L988.1 673.2 L988.9 673.6 L989.6 672.5 L990.4 672.8 L991.1 672.9 L991.9 673.2 L992.6 673.6 L993.4 673.0 L994.1 673.0 L994.9 673.6 L995.6 673.4 L996.4 673.4 L997.1 673.5 L997.9 673.1 L998.6 673.4 L999.4 673.1 L1000.1 673.1 L1000.9 673.4 L1001.6 673.5 L1002.4 673.0 L1003.1 673.1 L1003.9 673.6 L1004.6 673.4 L1005.4 673.6 L1006.1 673.3 L1006.9 673.2 L1007.6 673.7 L1008.4 673.6 L1009.1 672.6 L1009.9 673.7 L1010.6 673.2 L1011.4 673.7 L1012.1 674.0 L1012.9 673.4 L1013.6 673.2 L1014.4 673.6 L1015.1 673.6 L1015.9 673.7 L1016.6 673.1 L1017.4 673.6 L1018.1 673.9 L1018.9 673.8 L1019.6 673.8 L1020.4 674.0 L1021.1 673.4 L1021.9 674.0 L1022.6 673.7 L1023.4 673.4 L1024.1 673.6 L1024.8 673.8 L1025.6 673.8 L1026.3 674.1 L1027.1 673.8 L1027.8 673.6 L1028.6 674.4 L1029.3 673.6 L1030.1 673.5 L1030.8 674.0 L1031.6 673.7 L1032.3 673.6 L1033.1 673.5 L1033.8 674.5 L1034.6 674.3 L1035.3 675.0 L1036.1 675.3 L1036.8 675.8 L1037.6 676.0 L1038.3 676.7 L1039.1 677.3 L1039.8 677.8 L1040.6 677.8 L1041.3 677.6 L1042.1 677.4 L1042.8 677.8 L1043.6 676.9 L1044.3 678.0 L1045.1 677.5 L1045.8 677.5 L1046.6 676.9 L1047.3 677.1 L1048.1 676.9 L1048.8 677.3 L1049.6 676.9 L1050.3 677.1 L1051.1 677.0 L1051.8 676.2 L1052.6 676.6 L1053.3 676.9 L1054.1 676.3 L1054.8 676.4 L1055.6 676.3 L1056.3 675.9 L1057.1 676.8 L1057.8 676.0 L1058.6 676.2 L1059.3 675.8 L1060.1 676.2 L1060.8 676.1 L1061.6 676.0 L1062.3 675.8 L1063.1 675.7 L1063.8 675.8 L1064.6 675.4 L1065.3 675.3 L1066.1 675.4 L1066.8 674.8 L1067.6 674.2 L1068.3 675.1 L1069.1 674.8 L1069.8 674.5 L1070.6 674.5 L1071.3 674.2 L1072.1 674.2 L1072.8 674.4 L1073.6 674.3 L1074.3 674.4 L1075.1 674.1 L1075.8 674.2 L1076.6 674.1 L1077.3 673.6 L1078.1 673.3 L1078.8 673.5 L1079.6 673.5 L1080.3 673.4 L1081.1 674.1 L1081.8 673.1 L1082.6 673.4 L1083.3 672.9 L1084.1 673.3 L1084.8 672.6 L1085.6 673.2 L1086.3 672.9 L1087.1 672.6 L1087.8 672.3 L1088.6 673.1 L1089.3 672.3 L1090.1 672.8 L1090.8 671.6 L1091.6 671.9 L1092.3 673.0 L1093.1 673.3 L1093.8 673.1 L1094.6 673.8 L1095.3 674.0 L1096.1 674.0 L1096.8 674.5 L1097.6 674.5 L1098.3 674.8 L1099.1 675.6 L1099.8 676.1 L1100.6 676.3 L1101.3 676.2 L1102.1 677.1 L1102.8 676.9 L1103.6 677.0 L1104.3 676.7 L1105.1 676.6 L1105.8 677.0 L1106.6 677.0 L1107.3 676.2 L1108.1 676.2 L1108.8 676.8 L1109.6 676.5 L1110.3 676.4 L1111.1 676.1 L1111.8 676.6 L1112.6 676.3 L1113.3 676.3 L1114.1 676.3 L1114.8 676.0 L1115.6 676.2 L1116.3 676.1 L1117.1 676.2 L1117.8 676.1 L1118.6 675.5 L1119.3 675.6 L1120.1 675.7 L1120.8 676.1 L1121.6 675.5 L1122.3 676.0 L1123.1 675.9 L1123.8 675.8 L1124.6 676.2 L1125.3 675.5 L1126.1 675.5 L1126.8 675.8 L1127.6 675.5 L1128.3 675.6 L1129.1 675.2 L1129.8 675.6 L1130.6 675.6 L1131.3 675.3 L1132.1 676.5 L1132.8 676.5 L1133.6 676.6 L1134.3 677.1 L1135.1 677.5 L1135.8 678.3 L1136.6 678.0 L1137.3 677.7 L1138.1 677.6 L1138.8 677.2 L1139.6 677.2 L1140.3 677.1 L1141.1 677.0 L1141.8 676.6 L1142.6 676.7 L1143.3 677.0 L1144.1 676.7 L1144.8 676.4 L1145.6 676.4 L1146.3 676.1 L1147.1 675.7 L1147.8 676.2 L1148.6 676.5 L1149.3 675.8 L1150.1 675.7 L1150.8 676.1 L1151.6 674.9 L1152.3 675.5 L1153.1 675.4 L1153.8 675.6 L1154.6 675.4 L1155.3 676.1 L1156.1 676.4 L1156.8 676.0 L1157.6 676.6 L1158.3 676.7 L1159.1 676.7 L1159.8 677.4 L1160.6 677.9 L1161.3 677.8 L1162.1 678.1 L1162.8 678.2 L1163.6 677.9 L1164.3 678.0 L1165.1 678.1 L1165.8 677.5 L1166.6 677.5 L1167.3 677.0 L1168.1 676.8 L1168.8 677.0 L1169.6 677.4 L1170.3 677.1 L1171.1 677.0 L1171.8 677.2 L1172.6 676.2 L1173.3 677.0 L1174.1 676.6 L1174.8 676.7 L1175.6 676.8 L1176.3 676.0 L1177.1 675.9 L1177.8 676.2 L1178.6 675.9 L1179.3 675.7 L1180.1 675.7 L1180.8 675.5 L1181.6 675.6 L1182.3 675.4 L1183.1 675.9 L1183.8 675.0 L1184.6 675.4 L1185.3 675.2 L1186.1 675.5 L1186.8 674.7 L1187.6 674.7 L1188.3 675.3 L1189.1 674.5 L1189.8 674.5 L1190.6 674.4 L1191.3 674.2 L1192.1 674.7 L1192.8 674.7 L1193.6 674.2 L1194.3 673.9 L1195.1 673.6 L1195.8 674.2 L1196.6 673.7 L1197.3 674.0 L1198.1 673.5 L1198.8 674.5 L1199.6 675.2 L1200.3 675.5 L1201.1 674.9 L1201.8 676.3 L1202.6 676.6 L1203.3 676.9 L1204.1 677.2 L1204.8 677.6 L1205.6 678.1 L1206.3 678.6 L1207.1 677.5 L1207.8 678.4 L1208.6 678.6 L1209.3 678.2 L1210.1 678.6 L1210.8 677.9 L1211.6 678.7 L1212.3 678.4 L1213.1 677.9 L1213.8 678.8 L1214.6 678.4 L1215.3 678.3 L1216.1 677.5 L1216.8 677.7 L1217.6 677.9 L1218.3 678.0 L1219.1 677.6 L1219.8 677.2 L1220.6 677.9 L1221.3 677.4 L1222.1 677.5 L1222.8 677.3 L1223.6 677.3 L1224.3 676.9 L1225.1 677.4 L1225.8 677.0 L1226.6 676.6 L1227.3 677.2 L1228.1 677.0 L1228.8 677.3 L1229.6 677.2 L1230.3 676.6 L1231.1 676.8 L1231.8 676.8 L1232.6 676.8 L1233.3 676.4 L1234.1 676.7 L1234.8 677.0 L1235.6 677.0 L1236.3 677.0 L1237.1 676.8 L1237.8 675.7 L1238.6 676.4 L1239.3 676.3 L1240.1 675.8 L1240.8 677.3 L1241.6 677.3 L1242.3 677.2 L1243.1 677.5 L1243.8 677.8 L1244.6 677.7 L1245.3 678.4 L1246.1 678.8 L1246.8 678.7 L1247.6 678.4 L1248.3 678.9 L1249.1 679.3 L1249.8 679.4 L1250.6 679.2 L1251.3 679.9 L1252.1 679.9 L1252.8 679.7 L1253.6 679.3 L1254.3 679.3 L1255.1 678.7 L1255.8 679.1 L1256.6 678.9 L1257.3 678.8 L1258.1 678.7 L1258.8 678.6 L1259.6 678.6 L1260.3 678.5 L1261.1 678.2 L1261.8 678.2 L1262.6 678.1 L1263.3 678.2 L1264.1 678.1 L1264.8 677.7 L1265.6 677.5 L1266.3 677.1 L1267.1 677.1 L1267.8 677.5 L1268.6 677.0 L1269.3 677.7 L1270.1 677.0 L1270.8 676.9 L1271.6 676.8 L1272.3 676.6 L1273.1 676.5 L1273.8 676.6 L1274.6 676.0 L1275.3 676.4 L1276.1 676.2 L1276.8 675.8 L1277.6 676.3 L1278.3 676.0 L1279.1 676.1 L1279.8 675.5 L1280.6 675.2 L1281.3 675.2 L1282.1 675.2 L1282.8 675.3 L1283.6 676.4 L1284.3 676.0 L1285.1 676.3 L1285.8 676.2 L1286.6 676.5 L1287.3 677.1 L1288.1 676.3 L1288.8 676.6 L1289.6 677.1 L1290.3 676.9 L1291.1 677.5 L1291.8 677.9 L1292.6 677.9 L1293.3 678.0 L1294.1 677.8 L1294.8 678.3 L1295.6 677.9 L1296.3 677.9 L1297.1 678.4 L1297.8 678.5 L1298.6 679.1 L1299.3 678.6 L1300.1 679.3 L1300.8 678.9 L1301.6 678.8 L1302.3 678.6 L1303.1 679.0 L1303.8 678.5 L1304.6 678.9 L1305.3 678.8 L1306.1 678.6 L1306.8 678.1 L1307.6 678.4 L1308.3 678.6 L1309.1 677.8 L1309.8 678.5 L1310.6 678.2 L1311.3 678.0 L1312.1 678.1 L1312.8 678.2 L1313.6 677.9 L1314.3 677.6 L1315.1 678.0 L1315.8 677.5 L1316.6 677.7 L1317.3 677.8 L1318.1 677.8 L1318.8 677.8 L1319.6 677.6 L1320.3 677.3 L1321.1 677.1 L1321.8 677.1 L1322.6 677.1 L1323.3 677.8 L1324.1 677.0 L1324.8 676.5 L1325.6 677.1 L1326.3 676.1 L1327.1 676.8 L1327.8 676.0 L1328.6 675.9 L1329.3 675.8 L1330.1 675.5 L1330.8 674.9 L1331.6 675.2 L1332.3 674.7 L1333.1 674.9 L1333.8 673.9 L1334.6 673.3 L1335.3 674.1 L1336.1 673.9 L1336.8 674.4 L1337.6 673.5 L1338.3 673.9 L1339.1 674.4 L1339.8 675.1 L1340.6 674.2 L1341.3 674.1 L1342.1 674.7 L1342.8 675.3 L1343.6 675.5 L1344.3 674.7 L1345.1 675.2 L1345.8 675.3 L1346.6 676.1 L1347.3 676.5 L1348.1 677.5 L1348.8 678.2 L1349.6 678.6 L1350.3 677.7 L1351.1 678.0 L1351.8 677.7 L1352.6 677.5 L1353.3 678.0 L1354.1 677.5 L1354.8 677.6 L1355.6 677.1 L1356.3 677.2 L1357.1 677.1 L1357.8 677.0 L1358.6 677.0 L1359.3 677.2 L1360.1 677.4 L1360.8 677.4 L1361.6 677.5 L1362.3 677.5 L1363.1 678.1 L1363.8 677.9 L1364.6 677.8 L1365.3 677.5 L1366.1 677.7 L1366.8 676.9 L1367.6 677.2 L1368.3 676.3 L1369.1 676.7 L1369.8 676.2 L1370.6 675.9 L1371.3 676.4 L1372.1 676.9 L1372.8 676.5 L1373.6 677.0 L1374.3 677.4 L1375.1 677.4 L1375.8 677.7 L1376.6 678.0 L1377.3 678.3 L1378.1 678.7 L1378.8 679.1 L1379.6 678.9 L1380.3 680.1 L1381.1 679.3 L1381.8 680.2 L1382.6 679.9 L1383.3 679.7 L1384.1 680.1 L1384.8 680.1 L1385.6 680.5 L1386.3 679.6 L1387.1 680.0 L1387.8 680.2 L1388.6 680.4 L1389.3 680.3 L1390.1 680.5 L1390.8 680.2 L1391.6 680.1 L1392.3 680.6 L1393.1 680.7 L1393.8 680.3 L1394.6 680.2 L1395.3 679.9 L1396.1 680.8 L1396.8 680.3 L1397.6 680.3 L1398.3 679.6 L1399.1 680.2 L1399.8 680.6 L1400.6 679.8 L1401.3 679.7 L1402.1 680.2 L1402.8 679.6 L1403.6 679.8 L1404.3 680.1 L1405.1 679.1 L1405.8 679.1 L1406.6 679.5 L1407.3 679.2 L1408.1 679.1 L1408.8 679.0 L1409.6 679.0 L1410.3 679.0 L1411.1 678.8 L1411.8 678.8 L1412.6 679.0 L1413.3 678.6 L1414.1 679.0 L1414.8 678.3 L1415.6 679.1 L1416.3 678.9 L1417.1 678.5 L1417.8 679.3 L1418.6 678.5 L1419.3 679.5 L1420.1 678.7 L1420.8 679.3 L1421.6 678.9 L1422.3 679.4 L1423.1 678.8 L1423.8 679.2" stroke="#c49c94" stroke-width="3.7" fill="none" stroke-linejoin="round" stroke-linecap="butt"/>
<path d="M227.2 726.1 L1424.0 724.4" stroke="#e377c2" stroke-width="3.7" fill="none" stroke-linejoin="round" stroke-linecap="butt"/>
<path d="M227.2 757.9 L1424.0 755.7" stroke="#f7b6d2" stroke-width="3.7" fill="none" stroke-linejoin="round" stroke-linecap="butt"/>
<path d="M227.2 758.8 L1424.0 756.5" stroke="#7f7f7f" stroke-width="3.7" fill="none" stroke-linejoin="round" stroke-linecap="butt"/>
<path d="M227.4 111.8 L228.2 109.9 L228.9 111.4 L229.7 110.9 L230.4 110.3 L231.2 110.4 L231.9 107.2 L232.7 105.5 L233.4 106.0 L234.2 105.4 L234.9 108.7 L235.7 111.6 L236.4 111.9 L237.2 113.1 L237.9 111.4 L238.7 112.6 L239.4 110.7 L240.2 110.9 L240.9 109.2 L241.7 108.2 L242.4 107.6 L243.2 106.6 L243.9 107.2 L244.7 106.9 L245.4 106.7 L246.2 107.2 L246.9 108.6 L247.7 108.6 L248.4 109.0 L249.2 107.9 L249.9 109.3 L250.7 107.1 L251.4 107.0 L252.2 106.9 L252.9 106.4 L253.7 107.1 L254.4 107.6 L255.2 107.8 L255.9 107.2 L256.6 109.0 L257.4 108.9 L258.1 108.7 L258.9 111.3 L259.6 109.6 L260.4 111.8 L261.1 112.1 L261.9 110.1 L262.6 109.3 L263.4 108.1 L264.1 107.6 L264.9 107.8 L265.6 108.3 L266.4 109.7 L267.1 108.1 L267.9 110.2 L268.6 108.5 L269.4 109.3 L270.1 106.5 L270.9 104.4 L271.6 105.8 L272.4 105.7 L273.1 105.7 L273.9 106.8 L274.6 106.3 L275.4 105.9 L276.1 104.6 L276.9 102.8 L277.6 101.3 L278.4 100.9 L279.1 101.6 L279.9 100.2 L280.6 101.1 L281.4 99.2 L282.1 99.6 L282.9 100.1 L283.6 99.9 L284.4 99.2 L285.1 98.4 L285.9 97.0 L286.6 98.4 L287.4 98.3 L288.1 98.9 L288.9 100.9 L289.6 99.0 L290.4 100.7 L291.1 100.2 L291.9 99.4 L292.6 99.5 L293.4 99.0 L294.1 96.2 L294.9 95.2 L295.6 94.9 L296.4 95.0 L297.1 94.5 L297.9 96.1 L298.6 96.8 L299.4 97.1 L300.1 98.1 L300.9 99.5 L301.6 98.9 L302.4 100.0 L303.1 99.4 L303.9 100.4 L304.6 101.0 L305.4 101.8 L306.1 100.3 L306.9 99.6 L307.6 101.6 L308.4 102.7 L309.1 98.2 L309.9 99.5 L310.6 100.0 L311.4 99.6 L312.1 97.7 L312.9 98.1 L313.6 98.1 L314.4 96.2 L315.1 96.4 L315.9 95.6 L316.6 94.5 L317.4 94.7 L318.1 94.5 L318.9 96.1 L319.6 95.8 L320.4 94.8 L321.1 93.1 L321.9 93.9 L322.6 93.8 L323.4 92.3 L324.1 94.3 L324.9 96.4 L325.6 95.6 L326.4 99.1 L327.1 100.9 L327.9 104.8 L328.6 101.5 L329.4 101.0 L330.1 100.1 L330.9 98.1 L331.6 102.3 L332.4 99.9 L333.1 98.0 L333.9 103.0 L334.6 101.4 L335.4 102.3 L336.1 103.5 L336.9 102.5 L337.6 103.6 L338.4 103.3 L339.1 100.2 L339.9 99.1 L340.6 99.3 L341.4 99.6 L342.1 98.5 L342.9 98.8 L343.6 97.9 L344.4 98.2 L345.1 98.9 L345.9 98.1 L346.6 99.1 L347.4 98.4 L348.1 99.5 L348.9 100.6 L349.6 101.5 L350.4 100.1 L351.1 100.4 L351.9 99.3 L352.6 100.0 L353.4 99.5 L354.1 99.2 L354.9 98.2 L355.6 96.8 L356.4 97.3 L357.1 96.4 L357.9 96.8 L358.6 97.1 L359.4 97.8 L360.1 96.1 L360.9 95.7 L361.6 96.3 L362.4 94.1 L363.1 97.5 L363.9 94.1 L364.6 96.1 L365.4 97.0 L366.1 98.0 L366.9 98.1 L367.6 99.9 L368.4 99.9 L369.1 102.1 L369.9 101.7 L370.6 102.6 L371.4 104.7 L372.1 104.1 L372.9 104.9 L373.6 103.4 L374.4 104.3 L375.1 103.1 L375.9 103.7 L376.6 105.5 L377.4 102.6 L378.1 102.3 L378.9 101.8 L379.6 102.9 L380.4 104.3 L381.1 102.2 L381.9 103.2 L382.6 102.0 L383.4 101.4 L384.1 103.5 L384.9 102.4 L385.6 99.6 L386.4 100.1 L387.1 101.1 L387.9 101.1 L388.6 100.2 L389.4 100.5 L390.1 100.6 L390.9 99.7 L391.6 100.8 L392.4 99.1 L393.1 100.4 L393.9 100.4 L394.6 99.7 L395.4 99.1 L396.1 99.2 L396.9 97.2 L397.6 99.3 L398.4 97.7 L399.1 97.0 L399.9 99.4 L400.6 97.8 L401.4 98.8 L402.1 98.4 L402.9 96.7 L403.6 97.3 L404.4 97.8 L405.1 98.5 L405.9 98.2 L406.6 97.0 L407.4 97.8 L408.1 98.4 L408.9 97.2 L409.6 98.0 L410.4 98.0 L411.1 96.6 L411.9 100.1 L412.6 99.4 L413.4 98.3 L414.1 99.6 L414.9 98.1 L415.6 101.3 L416.4 100.6 L417.1 102.0 L417.9 102.3 L418.6 103.8 L419.4 105.0 L420.1 105.7 L420.9 105.9 L421.6 108.0 L422.4 108.2 L423.1 108.2 L423.9 109.5 L424.6 108.3 L425.4 110.5 L426.1 109.7 L426.9 111.6 L427.6 110.3 L428.4 110.7 L429.1 111.1 L429.9 111.8 L430.6 112.1 L431.4 110.4 L432.1 110.1 L432.9 111.4 L433.6 111.8 L434.4 111.3 L435.1 110.4 L435.9 111.8 L436.6 110.6 L437.4 110.8 L438.1 111.2 L438.9 109.9 L439.6 108.1 L440.4 110.0 L441.1 110.2 L441.9 109.7 L442.6 109.6 L443.4 109.0 L444.1 109.5 L444.9 108.4 L445.6 109.4 L446.4 107.9 L447.1 108.3 L447.9 106.8 L448.6 107.3 L449.4 107.2 L450.1 106.7 L450.9 107.7 L451.6 106.1 L452.4 106.8 L453.1 105.9 L453.9 106.2 L454.6 104.2 L455.4 104.5 L456.1 105.4 L456.9 103.6 L457.6 104.4 L458.4 104.3 L459.1 104.4 L459.9 105.0 L460.6 105.5 L461.4 105.1 L462.1 106.1 L462.9 105.7 L463.6 106.1 L464.4 105.5 L465.1 107.1 L465.9 106.1 L466.6 108.0 L467.4 107.7 L468.1 106.1 L468.9 106.6 L469.6 106.3 L470.4 105.2 L471.1 104.2 L471.9 104.5 L472.6 104.4 L473.4 104.4 L474.1 104.8 L474.9 100.8 L475.6 102.4 L476.4 101.9 L477.1 100.6 L477.9 101.1 L478.6 102.4 L479.4 100.3 L480.1 101.1 L480.9 100.6 L481.6 98.9 L482.4 97.0 L483.1 99.7 L483.9 99.7 L484.6 96.5 L485.4 97.6 L486.1 96.9 L486.9 97.4 L487.6 96.9 L488.4 97.6 L489.1 95.7 L489.9 97.6 L490.6 94.1 L491.4 95.5 L492.1 97.4 L492.9 94.6 L493.6 95.0 L494.4 93.7 L495.1 96.7 L495.9 94.3 L496.6 92.9 L497.4 91.2 L498.1 92.8 L498.9 93.2 L499.6 91.0 L500.4 92.7 L501.1 93.9 L501.9 91.6 L502.6 93.8 L503.4 92.9 L504.1 93.4 L504.9 95.3 L505.6 96.2 L506.4 96.5 L507.1 95.2 L507.9 96.5 L508.6 94.8 L509.4 95.4 L510.1 97.5 L510.9 96.6 L511.6 95.9 L512.4 95.0 L513.1 96.2 L513.9 98.1 L514.6 94.2 L515.4 94.9 L516.1 96.6 L516.9 93.7 L517.6 94.7 L518.4 95.1 L519.1 95.8 L519.9 94.6 L520.6 96.1 L521.4 94.4 L522.1 94.2 L522.9 94.5 L523.6 94.3 L524.4 92.6 L525.1 93.0 L525.9 93.5 L526.6 93.8 L527.4 92.4 L528.1 92.7 L528.9 92.6 L529.6 93.3 L530.4 92.5 L531.1 93.1 L531.9 92.6 L532.6 91.2 L533.4 91.5 L534.1 90.4 L534.9 91.2 L535.6 91.5 L536.4 89.8 L537.1 88.8 L537.9 90.3 L538.6 89.4 L539.4 89.3 L540.1 89.4 L540.9 89.2 L541.6 89.5 L542.4 88.3 L543.1 86.8 L543.9 88.0 L544.6 88.0 L545.4 87.8 L546.1 88.2 L546.9 87.6 L547.6 88.6 L548.4 87.1 L549.1 87.4 L549.9 87.0 L550.6 88.6 L551.4 86.3 L552.1 86.1 L552.9 86.4 L553.6 87.0 L554.4 86.4 L555.1 86.1 L555.9 84.6 L556.6 83.6 L557.4 84.2 L558.1 83.6 L558.9 84.3 L559.6 82.7 L560.4 82.2 L561.1 81.9 L561.9 80.1 L562.6 79.2 L563.4 79.1 L564.1 79.7 L564.9 78.7 L565.6 77.9 L566.4 78.5 L567.1 80.9 L567.9 82.0 L568.6 81.7 L569.4 84.4 L570.1 84.0 L570.9 85.9 L571.6 86.4 L572.4 87.3 L573.1 88.2 L573.9 90.0 L574.6 90.7 L575.4 90.6 L576.1 89.8 L576.9 89.3 L577.6 90.8 L578.4 90.4 L579.1 89.1 L579.9 88.4 L580.6 89.7 L581.4 88.7 L582.1 88.4 L582.9 88.5 L583.6 87.9 L584.4 87.4 L585.1 88.1 L585.9 85.7 L586.6 86.8 L587.4 85.5 L588.1 85.8 L588.9 85.3 L589.6 85.3 L590.4 83.5 L591.1 84.8 L591.9 85.4 L592.6 83.6 L593.4 84.0 L594.1 83.5 L594.9 83.0 L595.6 82.3 L596.4 82.5 L597.1 82.0 L597.9 82.3 L598.6 81.7 L599.4 80.5 L600.1 79.0 L600.9 81.1 L601.6 80.4 L602.4 80.0 L603.1 79.3 L603.9 80.8 L604.6 79.9 L605.4 79.0 L606.1 78.6 L606.9 78.9 L607.6 79.1 L608.4 78.4 L609.1 78.4 L609.9 77.8 L610.6 77.6 L611.4 76.5 L612.1 77.1 L612.9 76.8 L613.6 76.5 L614.4 76.2 L615.1 76.3 L615.9 75.6 L616.6 75.6 L617.4 74.8 L618.1 76.5 L618.9 74.5 L619.6 74.1 L620.4 74.3 L621.1 74.1 L621.9 73.5 L622.6 72.4 L623.4 74.3 L624.1 73.7 L624.9 72.7 L625.6 72.9 L626.4 71.7 L627.1 71.1 L627.9 71.9 L628.6 71.8 L629.4 70.8 L630.1 70.9 L630.9 68.9 L631.6 70.2 L632.4 70.1 L633.1 68.8 L633.9 68.1 L634.6 67.6 L635.4 65.4 L636.1 65.0 L636.9 64.3 L637.6 64.6 L638.4 64.2 L639.1 63.7 L639.9 65.4 L640.6 64.9 L641.4 65.7 L642.1 66.4 L642.9 64.6 L643.6 64.9 L644.4 66.4 L645.1 66.7 L645.9 66.3 L646.6 66.0 L647.4 65.9 L648.1 65.6 L648.9 64.3 L649.6 65.1 L650.4 65.0 L651.1 63.9 L651.9 63.4 L652.6 63.3 L653.4 63.0 L654.1 63.3 L654.9 63.2 L655.6 62.5 L656.4 62.0 L657.1 60.9 L657.9 61.4 L658.6 60.8 L659.4 60.9 L660.1 62.0 L660.9 62.6 L661.6 65.0 L662.4 63.3 L663.1 64.1 L663.9 64.4 L664.6 65.5 L665.4 66.2 L666.1 67.5 L666.9 66.5 L667.6 68.8 L668.4 68.6 L669.1 67.9 L669.9 67.7 L670.6 68.1 L671.4 68.2 L672.1 67.8 L672.9 67.7 L673.6 67.7 L674.4 67.0 L675.1 67.7 L675.9 67.8 L676.6 67.4 L677.4 66.7 L678.1 67.4 L678.9 67.6 L679.6 68.1 L680.4 67.9 L681.1 68.8 L681.9 69.2 L682.6 69.3 L683.4 69.2 L684.1 70.0 L684.9 69.6 L685.6 69.7 L686.4 69.3 L687.1 70.3 L687.9 71.2 L688.6 70.3 L689.4 71.4 L690.1 70.6 L690.9 71.7 L691.6 72.4 L692.4 71.0 L693.1 70.0 L693.9 70.4 L694.6 69.8 L695.4 70.0 L696.1 68.9 L696.9 67.8 L697.6 68.1 L698.4 68.4 L699.1 68.2 L699.9 67.4 L700.6 66.9 L701.4 67.0 L702.1 66.6 L702.9 66.5 L703.6 67.0 L704.4 67.6 L705.1 66.8 L705.9 67.4 L706.6 66.9 L707.4 66.9 L708.1 67.5 L708.9 66.8 L709.6 67.1 L710.4 67.0 L711.1 67.5 L711.9 67.4 L712.6 69.4 L713.4 68.6 L714.1 68.5 L714.9 68.0 L715.6 67.6 L716.4 69.3 L717.1 68.9 L717.9 70.0 L718.6 69.4 L719.4 69.1 L720.1 69.6 L720.9 69.3 L721.6 69.5 L722.4 70.6 L723.1 69.8 L723.9 70.4 L724.6 69.7 L725.4 69.7 L726.1 69.5 L726.9 69.4 L727.6 69.3 L728.4 70.4 L729.1 69.4 L729.9 68.3 L730.6 69.9 L731.4 69.3 L732.1 68.8 L732.9 67.8 L733.6 67.4 L734.4 66.9 L735.1 66.8 L735.9 66.6 L736.6 66.0 L737.4 65.2 L738.1 64.7 L738.9 65.8 L739.6 65.4 L740.4 63.5 L741.1 63.4 L741.9 63.9 L742.6 64.7 L743.4 64.9 L744.1 65.6 L744.9 66.2 L745.6 67.2 L746.4 66.4 L747.1 68.3 L747.9 68.4 L748.6 69.0 L749.4 68.5 L750.1 69.7 L750.9 70.1 L751.6 70.2 L752.4 69.8 L753.1 69.4 L753.9 67.9 L754.6 68.8 L755.4 67.8 L756.1 67.8 L756.9 66.9 L757.6 66.1 L758.4 67.5 L759.1 66.0 L759.9 65.7 L760.6 64.8 L761.4 64.7 L762.1 65.3 L762.9 64.7 L763.6 65.2 L764.4 64.7 L765.1 63.3 L765.9 62.9 L766.6 64.1 L767.4 63.6 L768.1 63.0 L768.9 62.8 L769.6 62.5 L770.4 63.5 L771.1 62.3 L771.9 61.4 L772.6 62.5 L773.4 61.8 L774.1 61.8 L774.9 61.2 L775.6 61.2 L776.4 60.0 L777.1 61.2 L777.9 60.3 L778.6 60.3 L779.4 60.5 L780.1 60.8 L780.9 58.8 L781.6 59.7 L782.4 59.9 L783.1 59.9 L783.9 58.7 L784.6 59.2 L785.4 59.1 L786.1 59.5 L786.9 58.7 L787.6 58.9 L788.4 58.8 L789.1 59.7 L789.9 59.8 L790.6 59.0 L791.4 59.2 L792.1 59.4 L792.9 58.9 L793.6 59.4 L794.4 60.0 L795.1 60.0 L795.9 59.4 L796.6 59.5 L797.4 59.9 L798.1 59.3 L798.9 60.3 L799.6 60.3 L800.4 59.6 L801.1 60.4 L801.9 60.2 L802.6 60.6 L803.4 60.3 L804.1 61.7 L804.9 60.5 L805.6 61.6 L806.4 61.5 L807.1 62.4 L807.9 61.8 L808.6 62.0 L809.4 62.3 L810.1 61.5 L810.9 64.0 L811.6 62.8 L812.4 62.9 L813.1 62.7 L813.9 63.4 L814.6 64.6 L815.4 63.5 L816.1 64.4 L816.9 64.9 L817.6 65.1 L818.4 64.6 L819.1 63.9 L819.9 65.0 L820.6 65.0 L821.4 64.4 L822.1 64.2 L822.9 65.3 L823.6 63.4 L824.4 63.9 L825.1 63.7 L825.9 63.1 L826.6 63.5 L827.4 63.3 L828.1 64.3 L828.9 63.0 L829.6 63.7 L830.4 65.1 L831.1 64.7 L831.9 64.9 L832.6 66.2 L833.4 66.4 L834.1 67.1 L834.9 68.0 L835.6 68.8 L836.4 68.8 L837.1 69.2 L837.9 69.7 L838.6 69.2 L839.4 69.6 L840.1 68.8 L840.9 69.4 L841.6 69.7 L842.4 68.2 L843.1 70.5 L843.9 68.6 L844.6 68.3 L845.4 68.1 L846.1 68.2 L846.9 67.0 L847.6 67.5 L848.4 66.8 L849.1 67.7 L849.9 65.7 L850.6 66.7 L851.4 65.9 L852.1 65.5 L852.9 65.7 L853.6 65.2 L854.4 65.1 L855.1 64.9 L855.9 65.2 L856.6 64.1 L857.4 64.9 L858.1 62.4 L858.9 64.4 L859.6 63.7 L860.4 63.5 L861.1 62.4 L861.9 62.1 L862.6 61.1 L863.4 61.9 L864.1 60.2 L864.9 60.0 L865.6 60.1 L866.4 59.8 L867.1 59.5 L867.9 58.3 L868.6 58.4 L869.4 58.5 L870.1 58.4 L870.9 58.0 L871.6 57.7 L872.4 57.2 L873.1 56.9 L873.9 56.7 L874.6 56.8 L875.4 57.0 L876.1 56.3 L876.9 57.6 L877.6 55.8 L878.4 56.6 L879.1 55.9 L879.9 55.8 L880.6 55.5 L881.4 56.4 L882.1 55.3 L882.9 55.6 L883.6 55.2 L884.4 55.4 L885.1 55.2 L885.9 55.8 L886.6 54.6 L887.4 54.7 L888.1 56.1 L888.9 56.1 L889.6 55.6 L890.4 55.5 L891.1 55.9 L891.9 56.6 L892.6 55.7 L893.4 57.0 L894.1 56.3 L894.9 56.2 L895.6 56.4 L896.4 55.5 L897.1 57.0 L897.9 56.2 L898.6 56.8 L899.4 56.7 L900.1 57.5 L900.9 57.9 L901.6 57.6 L902.4 58.0 L903.1 58.7 L903.9 60.0 L904.6 60.1 L905.4 61.3 L906.1 61.1 L906.9 61.9 L907.6 62.0 L908.4 63.3 L909.1 63.2 L909.9 64.5 L910.6 64.6 L911.4 64.8 L912.1 65.8 L912.9 65.4 L913.6 65.8 L914.4 65.4 L915.1 64.7 L915.9 66.6 L916.6 65.9 L917.4 65.7 L918.1 66.7 L918.9 65.7 L919.6 66.1 L920.4 67.2 L921.1 66.4 L921.9 67.5 L922.6 66.8 L923.4 67.0 L924.1 67.3 L924.9 67.1 L925.6 68.1 L926.4 68.2 L927.1 67.8 L927.9 68.0 L928.6 67.9 L929.4 68.4 L930.1 66.6 L930.9 67.8 L931.6 67.6 L932.4 66.8 L933.1 66.9 L933.9 66.6 L934.6 67.3 L935.4 65.9 L936.1 66.8 L936.9 67.0 L937.6 66.5 L938.4 65.8 L939.1 65.8 L939.9 64.7 L940.6 65.2 L941.4 66.2 L942.1 65.0 L942.9 64.5 L943.6 65.2 L944.4 64.3 L945.1 65.1 L945.9 64.2 L946.6 64.9 L947.4 64.1 L948.1 63.2 L948.9 63.3 L949.6 63.2 L950.4 62.8 L951.1 63.7 L951.9 62.2 L952.6 62.7 L953.4 62.0 L954.1 62.4 L954.9 61.1 L955.6 60.8 L956.4 61.6 L957.1 61.9 L957.9 60.1 L958.6 60.5 L959.4 60.1 L960.1 59.7 L960.9 60.5 L961.6 59.8 L962.4 58.7 L963.1 59.2 L963.9 59.8 L964.6 58.5 L965.4 58.4 L966.1 58.1 L966.9 58.4 L967.6 57.8 L968.4 58.4 L969.1 57.3 L969.9 56.7 L970.6 57.6 L971.4 55.4 L972.1 56.5 L972.9 56.9 L973.6 56.7 L974.4 56.1 L975.1 56.0 L975.9 56.3 L976.6 57.7 L977.4 55.2 L978.1 55.4 L978.9 55.3 L979.6 55.8 L980.4 55.5 L981.1 55.9 L981.9 56.5 L982.6 55.5 L983.4 55.4 L984.1 55.8 L984.9 56.8 L985.6 55.5 L986.4 56.6 L987.1 56.3 L987.9 54.2 L988.6 55.2 L989.4 55.2 L990.1 55.9 L990.9 56.5 L991.6 55.8 L992.4 55.9 L993.1 56.9 L993.9 56.0 L994.6 56.9 L995.4 55.3 L996.1 56.7 L996.9 55.6 L997.6 54.6 L998.4 55.4 L999.1 55.7 L999.9 55.9 L1000.6 56.3 L1001.4 56.3 L1002.1 56.2 L1002.9 55.5 L1003.6 56.9 L1004.4 56.6 L1005.1 56.2 L1005.9 56.1 L1006.6 56.6 L1007.4 56.7 L1008.1 56.7 L1008.9 57.2 L1009.6 57.1 L1010.4 58.0 L1011.1 57.6 L1011.9 58.4 L1012.6 58.5 L1013.4 58.6 L1014.1 59.0 L1014.9 58.3 L1015.6 60.1 L1016.4 58.2 L1017.1 58.8 L1017.9 58.3 L1018.6 57.9 L1019.4 58.9 L1020.1 58.4 L1020.9 57.5 L1021.6 57.8 L1022.4 57.7 L1023.1 58.0 L1023.9 57.9 L1024.7 57.5 L1025.4 57.6 L1026.2 57.3 L1026.9 58.2 L1027.7 58.6 L1028.4 58.1 L1029.2 58.9 L1029.9 58.7 L1030.7 58.6 L1031.4 58.3 L1032.2 59.8 L1032.9 60.7 L1033.7 60.3 L1034.4 60.5 L1035.2 61.6 L1035.9 63.3 L1036.7 64.6 L1037.4 66.2 L1038.2 65.2 L1038.9 68.5 L1039.7 68.6 L1040.4 69.6 L1041.2 70.1 L1041.9 69.5 L1042.7 69.3 L1043.4 69.8 L1044.2 68.2 L1044.9 68.8 L1045.7 69.0 L1046.4 67.6 L1047.2 68.2 L1047.9 68.9 L1048.7 68.1 L1049.4 68.0 L1050.2 67.8 L1050.9 67.4 L1051.7 67.2 L1052.4 66.4 L1053.2 66.5 L1053.9 67.3 L1054.7 65.2 L1055.4 65.3 L1056.2 64.3 L1056.9 64.2 L1057.7 63.6 L1058.4 62.9 L1059.2 63.3 L1059.9 62.2 L1060.7 62.6 L1061.4 62.8 L1062.2 60.1 L1062.9 60.8 L1063.7 59.4 L1064.4 60.0 L1065.2 59.8 L1065.9 59.3 L1066.7 59.4 L1067.4 58.4 L1068.2 57.0 L1068.9 58.2 L1069.7 56.5 L1070.4 56.5 L1071.2 56.3 L1071.9 55.1 L1072.7 55.2 L1073.4 55.6 L1074.2 53.4 L1074.9 52.9 L1075.7 53.2 L1076.4 52.9 L1077.2 51.9 L1077.9 50.8 L1078.7 52.1 L1079.4 51.4 L1080.2 50.1 L1080.9 50.6 L1081.7 49.9 L1082.4 49.5 L1083.2 48.3 L1083.9 48.6 L1084.7 48.9 L1085.4 47.6 L1086.2 47.9 L1086.9 48.8 L1087.7 49.3 L1088.4 48.5 L1089.2 48.0 L1089.9 47.3 L1090.7 47.6 L1091.4 47.5 L1092.2 48.2 L1092.9 48.7 L1093.7 51.1 L1094.4 51.4 L1095.2 50.5 L1095.9 51.9 L1096.7 53.5 L1097.4 55.0 L1098.2 55.6 L1098.9 54.8 L1099.7 56.4 L1100.4 58.9 L1101.2 59.5 L1101.9 61.5 L1102.7 60.4 L1103.4 59.9 L1104.2 60.2 L1104.9 58.9 L1105.7 58.6 L1106.4 58.0 L1107.2 58.4 L1107.9 58.2 L1108.7 58.2 L1109.4 58.5 L1110.2 58.1 L1110.9 58.5 L1111.7 57.7 L1112.4 57.3 L1113.2 58.3 L1113.9 58.5 L1114.7 58.7 L1115.4 57.9 L1116.2 57.8 L1116.9 57.9 L1117.7 58.3 L1118.4 58.2 L1119.2 57.5 L1119.9 56.5 L1120.7 55.7 L1121.4 57.0 L1122.2 57.5 L1122.9 57.9 L1123.7 59.5 L1124.4 60.5 L1125.2 58.5 L1125.9 58.8 L1126.7 58.5 L1127.4 57.9 L1128.2 58.9 L1128.9 58.0 L1129.7 60.1 L1130.4 61.2 L1131.2 61.0 L1131.9 60.3 L1132.7 61.7 L1133.4 62.1 L1134.2 63.1 L1134.9 63.8 L1135.7 63.9 L1136.4 64.1 L1137.2 63.6 L1137.9 64.2 L1138.7 63.7 L1139.4 63.6 L1140.2 62.9 L1140.9 63.2 L1141.7 62.6 L1142.4 62.5 L1143.2 61.8 L1143.9 61.1 L1144.7 60.5 L1145.4 59.6 L1146.2 59.5 L1146.9 60.0 L1147.7 61.1 L1148.4 58.0 L1149.2 58.1 L1149.9 58.0 L1150.7 59.5 L1151.4 57.1 L1152.2 56.3 L1152.9 57.2 L1153.7 58.2 L1154.4 55.7 L1155.2 56.7 L1155.9 58.1 L1156.7 56.9 L1157.4 57.5 L1158.2 57.3 L1158.9 58.4 L1159.7 57.8 L1160.4 59.3 L1161.2 59.9 L1161.9 60.7 L1162.7 61.2 L1163.4 61.0 L1164.2 59.7 L1164.9 60.2 L1165.7 59.6 L1166.4 60.2 L1167.2 59.5 L1167.9 59.4 L1168.7 59.7 L1169.4 58.8 L1170.2 59.5 L1170.9 58.6 L1171.7 56.9 L1172.4 56.9 L1173.2 57.4 L1173.9 56.0 L1174.7 56.4 L1175.4 55.0 L1176.2 54.8 L1176.9 54.9 L1177.7 53.0 L1178.4 53.4 L1179.2 52.7 L1179.9 52.5 L1180.7 52.8 L1181.4 51.7 L1182.2 50.3 L1182.9 51.3 L1183.7 50.3 L1184.4 50.5 L1185.2 50.8 L1185.9 49.8 L1186.7 50.2 L1187.4 49.6 L1188.2 48.8 L1188.9 48.9 L1189.7 48.2 L1190.4 49.3 L1191.2 48.6 L1191.9 48.8 L1192.7 47.5 L1193.4 48.3 L1194.2 47.0 L1194.9 47.6 L1195.7 47.2 L1196.4 46.7 L1197.2 47.0 L1197.9 47.8 L1198.7 48.3 L1199.4 49.4 L1200.2 50.1 L1200.9 52.6 L1201.7 53.0 L1202.4 53.7 L1203.2 55.3 L1203.9 55.5 L1204.7 56.4 L1205.4 58.2 L1206.2 59.9 L1206.9 59.5 L1207.7 59.4 L1208.4 60.3 L1209.2 58.4 L1209.9 60.9 L1210.7 58.6 L1211.4 59.1 L1212.2 58.4 L1212.9 58.4 L1213.7 58.9 L1214.4 60.3 L1215.2 58.4 L1215.9 58.7 L1216.7 59.6 L1217.4 59.3 L1218.2 60.1 L1218.9 61.1 L1219.7 59.9 L1220.4 61.3 L1221.2 61.3 L1221.9 61.0 L1222.7 61.0 L1223.4 59.9 L1224.2 60.5 L1224.9 60.2 L1225.7 59.8 L1226.4 60.8 L1227.2 61.0 L1227.9 60.2 L1228.7 59.1 L1229.4 60.1 L1230.2 59.4 L1230.9 58.5 L1231.7 59.1 L1232.4 58.3 L1233.2 58.7 L1233.9 58.7 L1234.7 58.6 L1235.4 57.3 L1236.2 57.6 L1236.9 57.5 L1237.7 56.6 L1238.4 57.3 L1239.2 57.3 L1239.9 56.3 L1240.7 57.0 L1241.4 56.8 L1242.2 56.9 L1242.9 57.2 L1243.7 58.7 L1244.4 57.8 L1245.2 58.1 L1245.9 59.0 L1246.7 59.6 L1247.4 60.5 L1248.2 59.2 L1248.9 61.3 L1249.7 60.6 L1250.4 61.7 L1251.2 62.5 L1251.9 62.8 L1252.7 63.7 L1253.4 62.0 L1254.2 62.2 L1254.9 61.0 L1255.7 60.5 L1256.4 60.3 L1257.2 59.8 L1257.9 59.3 L1258.7 57.6 L1259.4 58.3 L1260.2 57.7 L1260.9 57.3 L1261.7 56.5 L1262.4 56.3 L1263.2 54.9 L1263.9 55.8 L1264.7 54.1 L1265.4 55.1 L1266.2 54.4 L1266.9 53.4 L1267.7 52.9 L1268.4 53.0 L1269.2 52.0 L1269.9 51.0 L1270.7 51.4 L1271.4 50.2 L1272.2 50.2 L1272.9 51.1 L1273.7 50.1 L1274.4 49.1 L1275.2 48.9 L1275.9 48.2 L1276.7 48.2 L1277.4 47.0 L1278.2 47.8 L1278.9 47.0 L1279.7 46.3 L1280.4 45.9 L1281.2 47.4 L1281.9 46.5 L1282.7 47.2 L1283.4 47.9 L1284.2 48.7 L1284.9 50.5 L1285.7 50.9 L1286.4 51.5 L1287.2 52.2 L1287.9 52.1 L1288.7 51.3 L1289.4 53.3 L1290.2 52.7 L1290.9 52.4 L1291.7 52.6 L1292.4 53.0 L1293.2 53.4 L1293.9 53.7 L1294.7 53.1 L1295.4 55.0 L1296.2 55.2 L1296.9 56.1 L1297.7 56.2 L1298.4 56.3 L1299.2 57.2 L1299.9 57.5 L1300.7 57.6 L1301.4 57.9 L1302.2 57.6 L1302.9 57.3 L1303.7 56.9 L1304.4 57.4 L1305.2 58.0 L1305.9 56.1 L1306.7 56.4 L1307.4 54.4 L1308.2 53.4 L1308.9 54.7 L1309.7 54.6 L1310.4 54.1 L1311.2 53.5 L1311.9 53.6 L1312.7 53.6 L1313.4 53.7 L1314.2 53.2 L1314.9 52.5 L1315.7 52.8 L1316.4 53.6 L1317.2 52.0 L1317.9 52.3 L1318.7 52.6 L1319.4 51.4 L1320.2 51.3 L1320.9 53.0 L1321.7 51.9 L1322.4 50.7 L1323.2 50.8 L1323.9 50.6 L1324.7 50.4 L1325.4 50.3 L1326.2 49.7 L1326.9 48.4 L1327.7 48.9 L1328.4 49.1 L1329.2 47.5 L1329.9 47.3 L1330.7 47.6 L1331.4 46.1 L1332.2 44.9 L1332.9 44.6 L1333.7 44.3 L1334.4 42.1 L1335.2 42.0 L1335.9 42.4 L1336.7 42.7 L1337.4 43.0 L1338.2 42.9 L1338.9 43.3 L1339.7 43.5 L1340.4 42.9 L1341.2 43.3 L1341.9 43.1 L1342.7 44.1 L1343.4 44.2 L1344.2 44.5 L1344.9 43.8 L1345.7 45.4 L1346.4 45.8 L1347.2 48.3 L1347.9 48.8 L1348.7 51.2 L1349.4 52.2 L1350.2 51.3 L1350.9 51.0 L1351.7 50.2 L1352.4 49.8 L1353.2 49.6 L1353.9 49.3 L1354.7 49.2 L1355.4 47.5 L1356.2 47.6 L1356.9 47.4 L1357.7 47.4 L1358.4 47.7 L1359.2 47.2 L1359.9 48.8 L1360.7 48.1 L1361.4 48.5 L1362.2 48.7 L1362.9 49.8 L1363.7 49.3 L1364.4 50.2 L1365.2 49.7 L1365.9 48.9 L1366.7 48.2 L1367.4 48.1 L1368.2 48.0 L1368.9 46.5 L1369.7 45.7 L1370.4 45.7 L1371.2 45.8 L1371.9 46.5 L1372.7 46.8 L1373.4 45.9 L1374.2 48.3 L1374.9 47.3 L1375.7 47.8 L1376.4 47.3 L1377.2 47.9 L1377.9 49.5 L1378.7 51.2 L1379.4 52.5 L1380.2 52.1 L1380.9 54.3 L1381.7 56.0 L1382.4 56.0 L1383.2 57.7 L1383.9 57.9 L1384.7 57.2 L1385.4 58.2 L1386.2 57.4 L1386.9 57.9 L1387.7 57.5 L1388.4 57.6 L1389.2 57.8 L1389.9 58.4 L1390.7 56.8 L1391.4 57.1 L1392.2 57.8 L1392.9 58.2 L1393.7 57.6 L1394.4 57.6 L1395.2 58.0 L1395.9 58.6 L1396.7 57.2 L1397.4 56.6 L1398.2 57.1 L1398.9 57.4 L1399.7 56.0 L1400.4 57.0 L1401.2 56.6 L1401.9 56.3 L1402.7 55.1 L1403.4 54.6 L1404.2 55.4 L1404.9 54.9 L1405.7 54.8 L1406.4 53.4 L1407.2 52.3 L1407.9 54.2 L1408.7 53.9 L1409.4 52.9 L1410.2 52.8 L1410.9 53.6 L1411.7 54.7 L1412.4 55.2 L1413.2 55.4 L1413.9 54.3 L1414.7 54.5 L1415.4 53.1 L1416.2 50.3 L1416.9 51.4 L1417.7 51.0 L1418.4 51.1 L1419.2 52.0 L1419.9 52.1 L1420.7 53.0 L1421.4 53.5 L1422.2 54.5 L1422.9 54.2 L1423.7 53.8" stroke="#c7c7c7" stroke-width="3.7" fill="none" stroke-linejoin="round" stroke-linecap="butt"/>
<path d="M227.2 783.7 L1424.0 781.5" stroke="#bcbd22" stroke-width="3.7" fill="none" stroke-linejoin="round" stroke-linecap="butt"/>
<path d="M227.2 767.8 L1424.0 765.6" stroke="#dbdb8d" stroke-width="3.7" fill="none" stroke-linejoin="round" stroke-linecap="butt"/>
<path d="M227.6 718.7 L228.3 718.5 L229.1 719.0 L229.8 718.7 L230.6 718.3 L231.3 718.4 L232.1 718.6 L232.8 718.5 L233.6 718.0 L234.3 718.4 L235.1 718.5 L235.8 718.6 L236.6 718.6 L237.3 718.2 L238.1 717.9 L238.8 718.1 L239.6 718.3 L240.3 717.8 L241.1 718.3 L241.8 717.7 L242.6 717.6 L243.3 718.1 L244.1 717.8 L244.8 717.8 L245.6 717.6 L246.3 717.7 L247.1 717.5 L247.8 718.0 L248.6 717.7 L249.3 717.4 L250.1 717.5 L250.8 717.6 L251.6 717.2 L252.3 717.3 L253.1 717.3 L253.8 717.1 L254.6 717.3 L255.3 717.7 L256.1 717.9 L256.9 718.2 L257.6 718.0 L258.4 718.8 L259.1 719.2 L259.9 719.3 L260.6 719.9 L261.4 719.9 L262.1 719.9 L262.9 720.0 L263.6 720.2 L264.4 720.0 L265.1 719.6 L265.9 719.9 L266.6 719.8 L267.4 719.7 L268.1 719.8 L268.9 719.7 L269.6 720.1 L270.4 719.3 L271.1 719.4 L271.9 719.4 L272.6 719.1 L273.4 719.1 L274.1 719.6 L274.9 718.7 L275.6 719.1 L276.4 718.5 L277.1 718.9 L277.9 718.3 L278.6 718.4 L279.4 718.9 L280.1 718.9 L280.9 718.5 L281.6 717.7 L282.4 718.6 L283.1 718.3 L283.9 717.9 L284.6 718.0 L285.4 717.7 L286.1 717.9 L286.9 717.9 L287.6 717.9 L288.4 717.9 L289.1 717.5 L289.9 717.1 L290.6 717.2 L291.4 717.2 L292.1 717.3 L292.9 717.2 L293.6 717.2 L294.4 717.5 L295.1 717.1 L295.9 716.8 L296.6 716.9 L297.4 716.7 L298.1 716.9 L298.9 717.1 L299.6 716.7 L300.4 717.2 L301.1 717.5 L301.9 717.5 L302.6 717.5 L303.4 717.2 L304.1 716.9 L304.9 717.7 L305.6 717.2 L306.4 717.3 L307.1 717.2 L307.9 717.1 L308.6 717.5 L309.4 717.1 L310.1 717.1 L310.9 717.6 L311.6 717.4 L312.4 717.3 L313.1 717.7 L313.9 718.0 L314.6 717.6 L315.4 717.6 L316.1 717.9 L316.9 718.0 L317.6 718.0 L318.4 718.0 L319.1 717.7 L319.9 718.0 L320.6 717.9 L321.4 717.5 L322.1 718.3 L322.9 718.1 L323.6 718.4 L324.4 718.1 L325.1 718.3 L325.9 718.1 L326.6 718.2 L327.4 718.4 L328.1 718.4 L328.9 718.6 L329.6 718.6 L330.4 719.1 L331.1 719.1 L331.9 718.7 L332.6 719.6 L333.4 719.5 L334.1 719.4 L334.9 719.5 L335.6 720.3 L336.4 720.0 L337.1 720.2 L337.9 720.3 L338.6 719.9 L339.4 720.4 L340.1 720.5 L340.9 719.7 L341.6 720.1 L342.4 719.4 L343.1 719.6 L343.9 719.6 L344.6 719.6 L345.4 719.6 L346.1 719.5 L346.9 719.4 L347.6 719.2 L348.4 719.3 L349.1 719.0 L349.9 719.5 L350.6 719.0 L351.4 719.2 L352.1 718.9 L352.9 718.7 L353.6 718.7 L354.4 718.3 L355.1 719.1 L355.9 718.6 L356.6 718.5 L357.4 718.2 L358.1 718.6 L358.9 718.1 L359.6 718.0 L360.4 717.9 L361.1 718.4 L361.9 718.0 L362.6 717.8 L363.4 717.6 L364.1 718.0 L364.9 718.0 L365.6 718.0 L366.4 718.6 L367.1 718.8 L367.9 718.6 L368.6 719.4 L369.4 719.6 L370.1 719.5 L370.9 719.5 L371.6 720.4 L372.4 720.1 L373.1 720.1 L373.9 720.1 L374.6 720.0 L375.4 720.3 L376.1 719.8 L376.9 720.1 L377.6 720.3 L378.4 720.2 L379.1 720.1 L379.9 719.9 L380.6 719.8 L381.4 719.8 L382.1 719.6 L382.9 720.2 L383.6 719.7 L384.4 719.5 L385.1 719.9 L385.9 720.0 L386.6 719.7 L387.4 719.5 L388.1 719.3 L388.9 719.7 L389.6 719.4 L390.4 719.3 L391.1 719.6 L391.9 719.1 L392.6 719.6 L393.4 718.8 L394.1 719.2 L394.9 718.9 L395.6 719.2 L396.4 719.4 L397.1 718.9 L397.9 719.5 L398.6 719.0 L399.4 719.0 L400.1 719.3 L400.9 718.9 L401.6 719.4 L402.4 718.9 L403.1 718.9 L403.9 718.7 L404.6 719.2 L405.4 719.0 L406.1 719.0 L406.9 718.9 L407.6 719.1 L408.4 719.3 L409.1 719.3 L409.9 719.7 L410.6 719.6 L411.4 719.6 L412.1 719.9 L412.9 720.2 L413.6 719.5 L414.4 720.1 L415.1 720.4 L415.9 720.3 L416.6 720.5 L417.4 720.1 L418.1 720.3 L418.9 720.8 L419.6 720.7 L420.4 720.8 L421.1 721.0 L421.9 721.0 L422.6 721.2 L423.4 721.0 L424.1 721.0 L424.9 721.3 L425.6 720.9 L426.4 720.6 L427.1 720.9 L427.9 721.1 L428.6 721.3 L429.4 720.9 L430.1 720.7 L430.9 720.9 L431.6 720.8 L432.4 721.0 L433.1 720.8 L433.9 720.9 L434.6 720.8 L435.4 720.7 L436.1 720.4 L436.9 720.5 L437.6 720.9 L438.4 720.8 L439.1 720.7 L439.9 720.5 L440.6 720.3 L441.4 720.3 L442.1 720.1 L442.9 720.4 L443.6 720.0 L444.4 719.8 L445.1 719.6 L445.9 720.3 L446.6 719.7 L447.4 719.6 L448.1 719.8 L448.9 720.1 L449.6 719.8 L450.4 719.5 L451.1 719.6 L451.9 719.2 L452.6 719.3 L453.4 719.3 L454.1 719.2 L454.9 719.4 L455.6 719.3 L456.4 719.5 L457.1 719.2 L457.9 718.9 L458.6 719.0 L459.4 718.9 L460.1 719.0 L460.9 719.2 L461.6 719.7 L462.4 719.4 L463.1 719.3 L463.9 719.5 L464.6 719.6 L465.4 719.9 L466.1 720.0 L466.9 719.9 L467.6 719.9 L468.4 720.0 L469.1 720.1 L469.9 720.1 L470.6 720.2 L471.4 719.7 L472.1 719.9 L472.9 719.7 L473.6 719.3 L474.4 719.4 L475.1 720.0 L475.9 719.3 L476.6 719.7 L477.4 719.4 L478.1 719.6 L478.9 719.1 L479.6 719.3 L480.4 718.9 L481.1 718.7 L481.9 718.6 L482.6 718.9 L483.4 718.3 L484.1 718.7 L484.9 718.4 L485.6 718.6 L486.4 718.1 L487.1 718.6 L487.9 718.3 L488.6 717.9 L489.4 717.8 L490.1 718.1 L490.9 717.7 L491.6 718.1 L492.4 718.0 L493.1 717.7 L493.9 718.1 L494.6 718.1 L495.4 717.7 L496.1 717.7 L496.9 717.6 L497.6 717.4 L498.4 717.7 L499.1 717.2 L499.9 716.6 L500.6 717.3 L501.4 717.6 L502.1 717.9 L502.9 717.6 L503.6 718.4 L504.4 718.1 L505.1 718.6 L505.9 718.8 L506.6 718.9 L507.4 719.3 L508.1 719.1 L508.9 719.9 L509.6 719.4 L510.4 719.1 L511.1 719.8 L511.9 719.1 L512.6 718.6 L513.4 719.2 L514.1 719.2 L514.9 718.6 L515.6 718.4 L516.4 718.9 L517.1 718.5 L517.9 718.2 L518.6 718.2 L519.4 718.3 L520.1 718.4 L520.9 718.5 L521.6 718.0 L522.4 718.4 L523.1 717.6 L523.9 718.1 L524.6 717.9 L525.4 717.9 L526.1 717.7 L526.9 717.6 L527.6 717.8 L528.4 717.9 L529.1 717.1 L529.9 717.6 L530.6 717.4 L531.4 717.2 L532.1 717.1 L532.9 717.5 L533.6 717.4 L534.4 717.4 L535.1 716.7 L535.9 716.8 L536.6 717.0 L537.4 716.9 L538.1 717.4 L538.9 716.9 L539.6 716.9 L540.4 717.1 L541.1 717.2 L541.9 716.8 L542.6 716.8 L543.4 717.1 L544.1 716.5 L544.9 716.1 L545.6 716.3 L546.4 716.4 L547.1 716.7 L547.9 716.4 L548.6 716.6 L549.4 716.3 L550.1 716.2 L550.9 716.0 L551.6 715.8 L552.4 716.2 L553.1 716.1 L553.9 716.1 L554.6 715.8 L555.4 715.8 L556.1 715.9 L556.9 715.9 L557.6 716.2 L558.4 715.5 L559.1 715.9 L559.9 715.8 L560.6 715.5 L561.4 715.5 L562.1 715.4 L562.9 715.7 L563.6 715.9 L564.4 715.3 L565.1 715.2 L565.9 715.6 L566.6 715.8 L567.4 715.8 L568.1 716.3 L568.9 716.6 L569.6 716.5 L570.4 717.0 L571.1 716.6 L571.9 717.0 L572.6 717.5 L573.4 717.9 L574.1 717.7 L574.9 718.5 L575.6 718.0 L576.4 718.1 L577.1 718.0 L577.9 718.1 L578.6 717.8 L579.4 718.0 L580.1 717.6 L580.9 717.4 L581.6 717.8 L582.4 717.7 L583.1 717.8 L583.9 717.0 L584.6 717.5 L585.4 717.2 L586.1 717.3 L586.9 717.2 L587.6 717.1 L588.4 717.0 L589.1 717.4 L589.9 716.6 L590.6 716.6 L591.4 717.0 L592.1 717.4 L592.9 716.7 L593.6 716.6 L594.4 716.4 L595.1 716.4 L595.9 716.9 L596.6 716.7 L597.4 716.7 L598.1 716.5 L598.9 716.4 L599.6 716.2 L600.4 716.0 L601.1 716.4 L601.9 716.7 L602.6 716.0 L603.4 716.3 L604.1 715.8 L604.9 715.9 L605.6 716.3 L606.4 715.8 L607.1 715.9 L607.9 715.6 L608.6 716.1 L609.4 715.3 L610.1 715.7 L610.9 715.4 L611.6 715.5 L612.4 715.5 L613.1 715.6 L613.9 715.5 L614.6 715.5 L615.4 715.2 L616.1 714.8 L616.9 715.4 L617.6 715.4 L618.4 715.0 L619.1 715.1 L619.9 714.8 L620.6 714.4 L621.4 714.9 L622.1 714.5 L622.9 715.0 L623.6 714.7 L624.4 714.5 L625.1 714.3 L625.9 714.4 L626.6 714.1 L627.4 714.2 L628.1 714.6 L628.9 714.1 L629.6 714.5 L630.4 714.0 L631.1 714.1 L631.9 713.7 L632.6 713.8 L633.4 713.7 L634.1 713.4 L634.9 714.2 L635.6 713.8 L636.4 713.6 L637.1 713.3 L637.9 713.5 L638.6 713.2 L639.4 713.2 L640.1 713.4 L640.9 713.9 L641.6 712.9 L642.4 713.5 L643.1 713.2 L643.9 712.6 L644.6 712.9 L645.4 713.2 L646.1 713.2 L646.9 713.0 L647.6 713.6 L648.4 713.3 L649.1 713.0 L649.9 712.7 L650.6 713.1 L651.4 712.9 L652.1 713.3 L652.9 712.7 L653.6 713.3 L654.4 712.8 L655.1 713.0 L655.9 712.8 L656.6 713.0 L657.4 713.1 L658.1 712.7 L658.9 712.6 L659.6 713.2 L660.4 712.9 L661.1 713.2 L661.9 713.3 L662.6 713.4 L663.4 714.1 L664.1 713.8 L664.9 714.2 L665.6 714.5 L666.4 715.0 L667.1 714.6 L667.9 714.7 L668.6 714.5 L669.4 714.6 L670.1 714.9 L670.9 714.9 L671.6 714.6 L672.4 715.2 L673.1 714.4 L673.9 714.6 L674.6 714.4 L675.4 714.0 L676.1 714.2 L676.9 714.7 L677.6 714.0 L678.4 715.1 L679.1 714.3 L679.9 714.4 L680.6 714.6 L681.4 714.3 L682.1 714.1 L682.9 714.1 L683.6 714.0 L684.4 714.3 L685.1 714.1 L685.9 714.3 L686.6 713.8 L687.4 714.0 L688.1 714.6 L688.9 714.1 L689.6 714.0 L690.4 714.3 L691.1 714.0 L691.9 714.3 L692.6 713.6 L693.4 714.1 L694.1 713.6 L694.9 714.0 L695.6 714.4 L696.4 714.1 L697.1 713.6 L697.9 713.8 L698.6 713.8 L699.4 713.5 L700.1 713.7 L700.9 713.4 L701.6 713.8 L702.4 713.8 L703.1 713.5 L703.9 713.7 L704.6 714.1 L705.4 713.4 L706.1 713.0 L706.9 713.5 L707.6 713.3 L708.4 713.2 L709.1 713.6 L709.9 713.6 L710.6 713.5 L711.4 713.7 L712.1 713.1 L712.9 713.1 L713.6 713.3 L714.4 712.5 L715.1 712.5 L715.9 713.2 L716.6 713.1 L717.4 713.1 L718.1 712.8 L718.9 713.1 L719.6 713.3 L720.4 712.8 L721.1 713.1 L721.9 712.9 L722.6 712.9 L723.4 712.9 L724.1 713.2 L724.9 712.9 L725.6 713.0 L726.4 712.8 L727.1 712.2 L727.9 712.9 L728.6 712.7 L729.4 712.7 L730.1 712.5 L730.9 712.2 L731.6 713.0 L732.4 713.0 L733.1 712.9 L733.9 712.1 L734.6 712.6 L735.4 712.2 L736.1 712.4 L736.9 712.3 L737.6 712.2 L738.4 712.2 L739.1 712.2 L739.9 712.5 L740.6 712.7 L741.4 712.5 L742.1 712.2 L742.9 712.2 L743.6 712.2 L744.4 712.5 L745.1 712.5 L745.9 712.8 L746.6 713.3 L747.4 713.2 L748.1 713.2 L748.9 713.6 L749.6 713.8 L750.4 714.0 L751.1 714.1 L751.9 714.5 L752.6 714.2 L753.4 714.0 L754.1 714.3 L754.9 714.0 L755.6 714.3 L756.4 714.3 L757.1 714.2 L757.9 714.1 L758.6 713.7 L759.4 713.9 L760.1 714.0 L760.9 714.0 L761.6 713.6 L762.4 713.8 L763.1 713.4 L763.9 713.8 L764.6 713.7 L765.4 713.7 L766.1 714.1 L766.9 713.8 L767.6 713.5 L768.4 713.4 L769.1 713.4 L769.9 713.7 L770.6 713.7 L771.4 713.3 L772.1 713.3 L772.9 713.2 L773.6 713.5 L774.4 713.3 L775.1 713.1 L775.9 713.0 L776.6 713.5 L777.4 712.8 L778.1 712.7 L778.9 712.3 L779.6 713.5 L780.4 712.9 L781.1 713.2 L781.9 713.1 L782.6 713.1 L783.4 713.1 L784.1 712.7 L784.9 712.8 L785.6 713.0 L786.4 712.9 L787.1 712.5 L787.9 712.5 L788.6 712.4 L789.4 712.8 L790.1 712.6 L790.9 712.4 L791.6 712.7 L792.4 712.9 L793.1 712.9 L793.9 712.8 L794.6 712.9 L795.4 713.0 L796.1 712.6 L796.9 712.7 L797.6 713.1 L798.4 713.1 L799.1 712.6 L799.9 712.8 L800.6 713.3 L801.4 713.1 L802.1 713.0 L802.9 713.2 L803.6 713.4 L804.4 713.4 L805.1 712.7 L805.9 712.7 L806.6 712.9 L807.4 713.1 L808.1 713.0 L808.9 713.2 L809.6 713.5 L810.4 713.4 L811.1 713.4 L811.9 713.2 L812.6 713.6 L813.4 713.3 L814.1 713.3 L814.9 713.2 L815.6 712.8 L816.4 713.8 L817.1 713.3 L817.9 713.5 L818.6 713.9 L819.4 713.3 L820.1 713.0 L820.9 713.6 L821.6 713.4 L822.4 713.1 L823.1 713.6 L823.9 713.4 L824.6 713.2 L825.4 712.8 L826.1 713.2 L826.9 713.5 L827.6 713.2 L828.4 713.7 L829.1 714.0 L829.9 713.6 L830.6 713.7 L831.4 713.7 L832.1 714.1 L832.9 714.1 L833.6 714.4 L834.4 714.7 L835.1 714.7 L835.9 714.4 L836.6 714.9 L837.4 714.7 L838.1 714.8 L838.9 714.9 L839.6 714.5 L840.4 714.7 L841.1 714.9 L841.9 714.3 L842.6 714.4 L843.4 714.6 L844.1 714.4 L844.9 714.6 L845.6 714.1 L846.4 713.9 L847.1 714.3 L847.9 714.2 L848.6 714.3 L849.4 714.4 L850.1 714.4 L850.9 714.0 L851.6 713.9 L852.4 713.5 L853.1 713.7 L853.9 713.9 L854.6 713.9 L855.4 713.5 L856.1 714.0 L856.9 713.7 L857.6 714.0 L858.4 713.6 L859.1 713.9 L859.9 713.3 L860.6 713.1 L861.4 713.3 L862.1 713.6 L862.9 713.5 L863.6 712.9 L864.4 713.4 L865.1 713.5 L865.9 713.6 L866.6 713.4 L867.4 713.3 L868.1 712.7 L868.9 713.2 L869.6 712.6 L870.4 712.9 L871.1 712.9 L871.9 712.7 L872.6 712.6 L873.4 712.8 L874.1 713.0 L874.9 712.6 L875.6 712.8 L876.4 712.9 L877.1 712.6 L877.9 713.1 L878.6 712.5 L879.4 712.4 L880.1 712.0 L880.9 712.7 L881.6 712.6 L882.4 712.3 L883.1 712.4 L883.9 712.3 L884.6 712.5 L885.4 712.2 L886.1 712.3 L886.9 712.3 L887.6 712.2 L888.4 712.0 L889.1 712.7 L889.9 712.4 L890.6 712.8 L891.4 713.0 L892.1 713.4 L892.9 712.8 L893.6 713.1 L894.4 713.3 L895.1 713.0 L895.9 713.1 L896.6 713.5 L897.4 713.9 L898.1 713.8 L898.9 713.8 L899.6 713.4 L900.4 713.9 L901.1 714.1 L901.9 713.6 L902.6 714.0 L903.4 714.0 L904.1 714.3 L904.9 713.8 L905.6 714.5 L906.4 714.4 L907.1 714.4 L907.9 714.0 L908.6 714.1 L909.4 714.5 L910.1 714.9 L910.9 714.9 L911.6 715.0 L912.4 714.5 L913.1 715.0 L913.9 715.3 L914.6 714.6 L915.4 715.2 L916.1 714.9 L916.9 715.2 L917.6 715.1 L918.4 714.7 L919.1 714.9 L919.9 715.5 L920.6 715.2 L921.4 715.5 L922.1 715.4 L922.9 715.5 L923.6 715.2 L924.4 715.4 L925.1 715.3 L925.9 715.7 L926.6 715.3 L927.4 715.8 L928.1 715.9 L928.9 715.1 L929.6 715.4 L930.4 715.5 L931.1 715.8 L931.9 715.6 L932.6 715.3 L933.4 714.8 L934.1 715.4 L934.9 715.0 L935.6 715.2 L936.4 715.2 L937.1 714.7 L937.9 715.3 L938.6 715.2 L939.4 715.1 L940.1 715.1 L940.9 715.0 L941.6 714.5 L942.4 714.7 L943.1 715.0 L943.9 714.7 L944.6 714.7 L945.4 714.8 L946.1 714.7 L946.9 714.7 L947.6 714.7 L948.4 714.5 L949.1 714.2 L949.9 714.4 L950.6 714.7 L951.4 714.2 L952.1 714.5 L952.9 714.4 L953.6 714.1 L954.4 713.6 L955.1 714.2 L955.9 714.0 L956.6 714.0 L957.4 714.4 L958.1 713.9 L958.9 714.1 L959.6 714.1 L960.4 714.0 L961.1 714.5 L961.9 713.5 L962.6 714.1 L963.4 713.8 L964.1 713.8 L964.9 713.6 L965.6 713.8 L966.4 713.7 L967.1 713.5 L967.9 714.0 L968.6 713.4 L969.4 713.6 L970.1 713.2 L970.9 713.6 L971.6 713.6 L972.4 713.7 L973.1 713.7 L973.9 713.3 L974.6 713.7 L975.4 713.3 L976.1 713.7 L976.9 713.6 L977.6 713.1 L978.4 713.0 L979.1 713.4 L979.9 713.6 L980.6 713.4 L981.4 713.5 L982.1 713.4 L982.9 713.5 L983.6 713.6 L984.4 713.3 L985.1 713.0 L985.9 713.3 L986.6 713.2 L987.4 713.1 L988.1 713.4 L988.9 713.6 L989.6 713.0 L990.4 713.1 L991.1 713.7 L991.9 713.3 L992.6 713.4 L993.4 713.8 L994.1 713.8 L994.9 713.6 L995.6 713.7 L996.4 712.9 L997.1 713.7 L997.9 713.7 L998.6 713.3 L999.4 713.7 L1000.1 713.8 L1000.9 713.6 L1001.6 713.9 L1002.4 713.9 L1003.1 713.7 L1003.9 713.7 L1004.6 713.4 L1005.4 714.0 L1006.1 713.6 L1006.9 713.9 L1007.6 714.2 L1008.4 714.0 L1009.1 713.5 L1009.9 713.8 L1010.6 713.7 L1011.4 713.5 L1012.1 713.7 L1012.9 714.0 L1013.6 714.0 L1014.4 713.9 L1015.1 714.0 L1015.9 713.7 L1016.6 713.8 L1017.4 713.9 L1018.1 714.2 L1018.9 713.9 L1019.6 714.0 L1020.4 714.1 L1021.1 714.4 L1021.9 713.8 L1022.6 714.2 L1023.4 714.1 L1024.1 714.1 L1024.8 714.2 L1025.6 713.7 L1026.3 714.2 L1027.1 714.1 L1027.8 713.9 L1028.6 714.4 L1029.3 714.2 L1030.1 714.2 L1030.8 714.4 L1031.6 714.0 L1032.3 714.1 L1033.1 714.5 L1033.8 714.7 L1034.6 715.2 L1035.3 714.8 L1036.1 714.8 L1036.8 715.0 L1037.6 715.3 L1038.3 715.8 L1039.1 716.0 L1039.8 716.1 L1040.6 716.2 L1041.3 716.3 L1042.1 716.3 L1042.8 716.6 L1043.6 716.4 L1044.3 716.5 L1045.1 716.3 L1045.8 716.2 L1046.6 716.3 L1047.3 716.0 L1048.1 716.3 L1048.8 716.1 L1049.6 716.2 L1050.3 715.7 L1051.1 715.4 L1051.8 716.2 L1052.6 715.4 L1053.3 715.6 L1054.1 715.3 L1054.8 715.1 L1055.6 715.4 L1056.3 714.9 L1057.1 715.1 L1057.8 715.4 L1058.6 715.0 L1059.3 715.1 L1060.1 715.0 L1060.8 714.9 L1061.6 714.8 L1062.3 714.8 L1063.1 714.4 L1063.8 714.7 L1064.6 714.2 L1065.3 714.3 L1066.1 714.2 L1066.8 714.0 L1067.6 713.8 L1068.3 714.3 L1069.1 714.2 L1069.8 714.2 L1070.6 714.5 L1071.3 714.0 L1072.1 714.0 L1072.8 713.6 L1073.6 713.9 L1074.3 713.4 L1075.1 714.1 L1075.8 713.3 L1076.6 713.4 L1077.3 713.6 L1078.1 712.8 L1078.8 713.6 L1079.6 713.0 L1080.3 713.2 L1081.1 713.4 L1081.8 713.1 L1082.6 713.2 L1083.3 712.8 L1084.1 713.0 L1084.8 712.3 L1085.6 713.1 L1086.3 712.5 L1087.1 712.4 L1087.8 712.5 L1088.6 712.9 L1089.3 712.2 L1090.1 712.3 L1090.8 712.2 L1091.6 712.0 L1092.3 712.0 L1093.1 712.7 L1093.8 713.0 L1094.6 712.9 L1095.3 713.4 L1096.1 713.7 L1096.8 713.9 L1097.6 714.0 L1098.3 714.3 L1099.1 714.6 L1099.8 714.5 L1100.6 715.0 L1101.3 715.5 L1102.1 715.4 L1102.8 715.8 L1103.6 715.4 L1104.3 715.2 L1105.1 715.4 L1105.8 715.1 L1106.6 715.5 L1107.3 715.0 L1108.1 715.4 L1108.8 715.3 L1109.6 715.2 L1110.3 715.4 L1111.1 715.3 L1111.8 715.1 L1112.6 715.4 L1113.3 715.1 L1114.1 715.4 L1114.8 715.5 L1115.6 715.3 L1116.3 715.4 L1117.1 714.8 L1117.8 715.2 L1118.6 714.7 L1119.3 715.0 L1120.1 715.2 L1120.8 714.4 L1121.6 714.8 L1122.3 714.8 L1123.1 714.7 L1123.8 715.0 L1124.6 715.1 L1125.3 714.6 L1126.1 714.7 L1126.8 714.4 L1127.6 714.7 L1128.3 714.3 L1129.1 714.5 L1129.8 714.9 L1130.6 715.2 L1131.3 715.1 L1132.1 715.6 L1132.8 715.6 L1133.6 716.3 L1134.3 716.7 L1135.1 716.0 L1135.8 716.6 L1136.6 716.7 L1137.3 716.7 L1138.1 717.2 L1138.8 717.1 L1139.6 716.7 L1140.3 716.8 L1141.1 716.2 L1141.8 716.5 L1142.6 716.4 L1143.3 716.4 L1144.1 716.5 L1144.8 716.0 L1145.6 716.1 L1146.3 716.8 L1147.1 715.8 L1147.8 716.2 L1148.6 716.3 L1149.3 716.2 L1150.1 716.1 L1150.8 715.6 L1151.6 715.8 L1152.3 715.5 L1153.1 716.4 L1153.8 715.9 L1154.6 716.0 L1155.3 715.8 L1156.1 715.6 L1156.8 715.9 L1157.6 715.8 L1158.3 715.7 L1159.1 715.6 L1159.8 715.6 L1160.6 715.3 L1161.3 715.5 L1162.1 715.3 L1162.8 715.2 L1163.6 715.4 L1164.3 715.7 L1165.1 714.6 L1165.8 715.4 L1166.6 714.9 L1167.3 715.3 L1168.1 714.7 L1168.8 714.9 L1169.6 715.1 L1170.3 714.8 L1171.1 714.9 L1171.8 714.4 L1172.6 714.4 L1173.3 715.0 L1174.1 714.6 L1174.8 714.5 L1175.6 714.2 L1176.3 714.2 L1177.1 714.2 L1177.8 714.4 L1178.6 714.3 L1179.3 714.1 L1180.1 714.1 L1180.8 714.2 L1181.6 714.4 L1182.3 713.8 L1183.1 713.7 L1183.8 714.3 L1184.6 713.6 L1185.3 713.8 L1186.1 713.9 L1186.8 714.3 L1187.6 713.3 L1188.3 713.1 L1189.1 713.7 L1189.8 713.9 L1190.6 713.6 L1191.3 713.4 L1192.1 713.6 L1192.8 713.0 L1193.6 713.6 L1194.3 713.7 L1195.1 713.3 L1195.8 713.5 L1196.6 713.0 L1197.3 713.6 L1198.1 713.3 L1198.8 713.5 L1199.6 713.7 L1200.3 713.7 L1201.1 714.6 L1201.8 715.1 L1202.6 714.5 L1203.3 715.0 L1204.1 715.4 L1204.8 715.4 L1205.6 715.4 L1206.3 716.1 L1207.1 716.3 L1207.8 716.1 L1208.6 715.8 L1209.3 716.0 L1210.1 715.7 L1210.8 716.2 L1211.6 716.5 L1212.3 716.5 L1213.1 716.2 L1213.8 716.4 L1214.6 716.2 L1215.3 716.4 L1216.1 716.2 L1216.8 716.4 L1217.6 716.3 L1218.3 716.5 L1219.1 716.6 L1219.8 716.5 L1220.6 716.2 L1221.3 716.7 L1222.1 716.5 L1222.8 716.5 L1223.6 716.8 L1224.3 716.5 L1225.1 716.9 L1225.8 716.9 L1226.6 716.6 L1227.3 716.6 L1228.1 716.8 L1228.8 716.6 L1229.6 717.1 L1230.3 716.4 L1231.1 717.0 L1231.8 716.9 L1232.6 716.7 L1233.3 717.2 L1234.1 716.9 L1234.8 717.2 L1235.6 717.0 L1236.3 717.1 L1237.1 717.3 L1237.8 717.4 L1238.6 717.5 L1239.3 717.2 L1240.1 717.6 L1240.8 717.2 L1241.6 717.0 L1242.3 716.9 L1243.1 717.0 L1243.8 717.2 L1244.6 717.0 L1245.3 717.5 L1246.1 717.5 L1246.8 717.5 L1247.6 717.6 L1248.3 717.5 L1249.1 717.5 L1249.8 717.6 L1250.6 717.7 L1251.3 717.4 L1252.1 718.0 L1252.8 717.9 L1253.6 717.5 L1254.3 717.9 L1255.1 717.0 L1255.8 717.3 L1256.6 716.6 L1257.3 717.0 L1258.1 716.6 L1258.8 716.9 L1259.6 716.6 L1260.3 716.7 L1261.1 716.5 L1261.8 716.4 L1262.6 716.1 L1263.3 716.4 L1264.1 716.0 L1264.8 715.9 L1265.6 716.1 L1266.3 715.6 L1267.1 715.9 L1267.8 715.7 L1268.6 715.3 L1269.3 714.8 L1270.1 715.4 L1270.8 714.9 L1271.6 714.9 L1272.3 714.8 L1273.1 714.9 L1273.8 714.7 L1274.6 714.0 L1275.3 714.2 L1276.1 714.3 L1276.8 714.2 L1277.6 714.2 L1278.3 714.0 L1279.1 714.2 L1279.8 713.5 L1280.6 713.9 L1281.3 713.6 L1282.1 713.7 L1282.8 714.0 L1283.6 713.8 L1284.3 714.2 L1285.1 714.1 L1285.8 714.5 L1286.6 714.2 L1287.3 714.8 L1288.1 714.3 L1288.8 714.6 L1289.6 714.9 L1290.3 715.1 L1291.1 715.0 L1291.8 715.2 L1292.6 715.5 L1293.3 715.8 L1294.1 716.0 L1294.8 715.7 L1295.6 715.9 L1296.3 716.0 L1297.1 715.8 L1297.8 716.2 L1298.6 716.7 L1299.3 716.3 L1300.1 717.4 L1300.8 717.1 L1301.6 717.3 L1302.3 716.8 L1303.1 716.1 L1303.8 716.7 L1304.6 716.9 L1305.3 716.3 L1306.1 716.6 L1306.8 716.4 L1307.6 716.3 L1308.3 716.2 L1309.1 716.1 L1309.8 716.0 L1310.6 716.0 L1311.3 715.7 L1312.1 715.7 L1312.8 715.6 L1313.6 715.4 L1314.3 715.1 L1315.1 714.7 L1315.8 714.8 L1316.6 714.7 L1317.3 714.5 L1318.1 715.0 L1318.8 714.6 L1319.6 714.9 L1320.3 715.3 L1321.1 714.6 L1321.8 714.2 L1322.6 714.3 L1323.3 714.1 L1324.1 714.1 L1324.8 714.4 L1325.6 714.2 L1326.3 714.1 L1327.1 713.7 L1327.8 714.0 L1328.6 713.7 L1329.3 713.6 L1330.1 713.0 L1330.8 713.1 L1331.6 713.1 L1332.3 713.0 L1333.1 712.8 L1333.8 712.3 L1334.6 712.5 L1335.3 712.7 L1336.1 712.9 L1336.8 712.6 L1337.6 712.9 L1338.3 713.5 L1339.1 713.1 L1339.8 712.7 L1340.6 713.2 L1341.3 713.3 L1342.1 713.7 L1342.8 713.5 L1343.6 713.9 L1344.3 713.7 L1345.1 713.9 L1345.8 714.0 L1346.6 714.2 L1347.3 713.9 L1348.1 714.1 L1348.8 714.9 L1349.6 713.8 L1350.3 714.2 L1351.1 714.3 L1351.8 714.1 L1352.6 714.6 L1353.3 714.4 L1354.1 714.7 L1354.8 714.6 L1355.6 714.4 L1356.3 714.9 L1357.1 715.3 L1357.8 715.1 L1358.6 715.0 L1359.3 714.6 L1360.1 715.1 L1360.8 715.1 L1361.6 715.0 L1362.3 714.8 L1363.1 715.4 L1363.8 715.6 L1364.6 715.6 L1365.3 716.1 L1366.1 715.1 L1366.8 715.7 L1367.6 715.7 L1368.3 716.1 L1369.1 715.9 L1369.8 715.7 L1370.6 716.0 L1371.3 716.2 L1372.1 716.0 L1372.8 716.0 L1373.6 716.4 L1374.3 716.6 L1375.1 716.4 L1375.8 716.6 L1376.6 716.4 L1377.3 716.6 L1378.1 716.8 L1378.8 717.0 L1379.6 717.2 L1380.3 716.9 L1381.1 717.1 L1381.8 717.5 L1382.6 717.3 L1383.3 717.1 L1384.1 717.3 L1384.8 716.8 L1385.6 716.6 L1386.3 716.9 L1387.1 716.9 L1387.8 716.8 L1388.6 717.3 L1389.3 716.9 L1390.1 717.0 L1390.8 717.0 L1391.6 716.9 L1392.3 716.7 L1393.1 717.4 L1393.8 716.4 L1394.6 716.9 L1395.3 717.0 L1396.1 716.8 L1396.8 716.8 L1397.6 716.9 L1398.3 716.8 L1399.1 716.6 L1399.8 717.0 L1400.6 716.8 L1401.3 717.0 L1402.1 716.7 L1402.8 716.1 L1403.6 716.2 L1404.3 716.4 L1405.1 716.7 L1405.8 716.1 L1406.6 716.4 L1407.3 716.8 L1408.1 716.5 L1408.8 716.3 L1409.6 716.4 L1410.3 716.4 L1411.1 716.3 L1411.8 716.3 L1412.6 716.2 L1413.3 716.3 L1414.1 716.7 L1414.8 716.6 L1415.6 715.9 L1416.3 716.8 L1417.1 716.2 L1417.8 715.8 L1418.6 715.8 L1419.3 716.1 L1420.1 716.1 L1420.8 715.9 L1421.6 715.9 L1422.3 716.0 L1423.1 716.1 L1423.8 716.2" stroke="#17becf" stroke-width="3.7" fill="none" stroke-linejoin="round" stroke-linecap="butt"/>
<path d="M227.6 630.1 L228.3 629.2 L229.1 629.6 L229.8 629.8 L230.6 629.8 L231.3 629.8 L232.1 629.1 L232.8 629.9 L233.6 629.0 L234.3 629.3 L235.1 629.1 L235.8 629.1 L236.6 628.9 L237.3 629.3 L238.1 629.2 L238.8 629.1 L239.6 628.5 L240.3 628.6 L241.1 628.7 L241.8 628.8 L242.6 628.5 L243.3 628.5 L244.1 629.3 L244.8 628.5 L245.6 628.3 L246.3 627.6 L247.1 628.0 L247.8 628.7 L248.6 628.4 L249.3 627.7 L250.1 628.2 L250.8 628.0 L251.6 627.6 L252.3 628.0 L253.1 627.6 L253.8 627.7 L254.6 628.1 L255.3 628.4 L256.1 628.5 L256.9 629.0 L257.6 629.1 L258.4 629.5 L259.1 629.8 L259.9 629.8 L260.6 629.8 L261.4 630.5 L262.1 631.1 L262.9 631.1 L263.6 631.0 L264.4 630.6 L265.1 630.4 L265.9 630.2 L266.6 630.2 L267.4 630.3 L268.1 629.9 L268.9 630.2 L269.6 629.7 L270.4 630.2 L271.1 629.9 L271.9 629.3 L272.6 629.6 L273.4 629.7 L274.1 629.6 L274.9 629.6 L275.6 629.2 L276.4 629.2 L277.1 629.1 L277.9 629.2 L278.6 628.7 L279.4 628.8 L280.1 628.8 L280.9 628.5 L281.6 628.2 L282.4 628.8 L283.1 628.5 L283.9 628.0 L284.6 628.7 L285.4 627.8 L286.1 627.7 L286.9 627.8 L287.6 627.9 L288.4 628.1 L289.1 628.0 L289.9 627.6 L290.6 627.4 L291.4 627.5 L292.1 626.9 L292.9 626.9 L293.6 627.1 L294.4 626.9 L295.1 626.8 L295.9 626.4 L296.6 626.7 L297.4 626.1 L298.1 626.8 L298.9 626.6 L299.6 626.5 L300.4 626.6 L301.1 627.6 L301.9 627.7 L302.6 626.7 L303.4 627.3 L304.1 626.1 L304.9 627.3 L305.6 627.1 L306.4 627.2 L307.1 626.9 L307.9 626.8 L308.6 627.3 L309.4 627.2 L310.1 627.5 L310.9 627.7 L311.6 627.4 L312.4 627.7 L313.1 627.6 L313.9 627.7 L314.6 627.5 L315.4 627.8 L316.1 627.9 L316.9 627.8 L317.6 627.7 L318.4 627.5 L319.1 627.6 L319.9 628.4 L320.6 628.3 L321.4 628.2 L322.1 628.2 L322.9 628.2 L323.6 628.5 L324.4 628.6 L325.1 628.3 L325.9 628.5 L326.6 628.7 L327.4 628.0 L328.1 628.5 L328.9 628.8 L329.6 628.9 L330.4 629.4 L331.1 629.5 L331.9 629.9 L332.6 630.4 L333.4 630.2 L334.1 630.8 L334.9 631.4 L335.6 631.3 L336.4 631.2 L337.1 631.6 L337.9 632.2 L338.6 631.7 L339.4 631.5 L340.1 631.8 L340.9 631.3 L341.6 631.1 L342.4 631.5 L343.1 631.3 L343.9 631.0 L344.6 631.2 L345.4 631.3 L346.1 631.3 L346.9 630.9 L347.6 630.9 L348.4 630.8 L349.1 630.2 L349.9 631.0 L350.6 630.2 L351.4 630.2 L352.1 630.0 L352.9 629.9 L353.6 630.4 L354.4 630.0 L355.1 629.8 L355.9 629.3 L356.6 629.8 L357.4 629.7 L358.1 629.3 L358.9 629.5 L359.6 628.9 L360.4 629.5 L361.1 628.9 L361.9 629.3 L362.6 629.1 L363.4 628.4 L364.1 628.6 L364.9 629.0 L365.6 629.8 L366.4 630.1 L367.1 630.5 L367.9 631.2 L368.6 631.0 L369.4 631.3 L370.1 631.3 L370.9 631.9 L371.6 632.7 L372.4 632.4 L373.1 632.4 L373.9 632.9 L374.6 631.9 L375.4 632.9 L376.1 632.9 L376.9 631.9 L377.6 632.5 L378.4 632.4 L379.1 632.6 L379.9 632.2 L380.6 632.2 L381.4 632.6 L382.1 632.0 L382.9 632.3 L383.6 632.3 L384.4 632.0 L385.1 632.3 L385.9 632.1 L386.6 632.2 L387.4 631.4 L388.1 631.6 L388.9 631.9 L389.6 632.1 L390.4 632.2 L391.1 631.7 L391.9 631.5 L392.6 631.3 L393.4 631.0 L394.1 631.4 L394.9 631.7 L395.6 631.5 L396.4 631.0 L397.1 631.4 L397.9 631.4 L398.6 631.1 L399.4 631.7 L400.1 631.4 L400.9 631.5 L401.6 631.2 L402.4 630.8 L403.1 631.4 L403.9 631.4 L404.6 630.8 L405.4 630.8 L406.1 631.5 L406.9 631.3 L407.6 631.2 L408.4 631.7 L409.1 632.0 L409.9 631.8 L410.6 632.1 L411.4 632.5 L412.1 632.6 L412.9 632.1 L413.6 632.9 L414.4 633.3 L415.1 633.2 L415.9 633.0 L416.6 633.3 L417.4 632.9 L418.1 633.3 L418.9 633.5 L419.6 634.4 L420.4 633.9 L421.1 633.8 L421.9 634.7 L422.6 634.7 L423.4 633.9 L424.1 634.3 L424.9 633.9 L425.6 634.7 L426.4 633.8 L427.1 634.9 L427.9 634.1 L428.6 634.1 L429.4 635.0 L430.1 634.6 L430.9 634.5 L431.6 634.7 L432.4 634.1 L433.1 634.7 L433.9 634.3 L434.6 634.6 L435.4 634.5 L436.1 634.8 L436.9 634.0 L437.6 634.0 L438.4 634.6 L439.1 634.9 L439.9 634.2 L440.6 633.8 L441.4 633.9 L442.1 633.2 L442.9 633.4 L443.6 632.7 L444.4 633.1 L445.1 633.1 L445.9 633.2 L446.6 632.4 L447.4 632.6 L448.1 632.6 L448.9 631.7 L449.6 631.8 L450.4 631.2 L451.1 631.3 L451.9 631.5 L452.6 630.6 L453.4 630.9 L454.1 631.1 L454.9 631.1 L455.6 629.8 L456.4 630.5 L457.1 630.0 L457.9 629.3 L458.6 629.7 L459.4 630.3 L460.1 630.3 L460.9 630.7 L461.6 630.6 L462.4 631.1 L463.1 630.8 L463.9 630.9 L464.6 631.4 L465.4 631.1 L466.1 632.1 L466.9 631.8 L467.6 631.5 L468.4 631.4 L469.1 631.2 L469.9 631.4 L470.6 631.2 L471.4 631.4 L472.1 630.7 L472.9 630.9 L473.6 630.4 L474.4 630.5 L475.1 630.9 L475.9 630.4 L476.6 630.6 L477.4 630.2 L478.1 629.8 L478.9 629.7 L479.6 629.5 L480.4 629.8 L481.1 629.7 L481.9 630.3 L482.6 629.8 L483.4 629.5 L484.1 628.8 L484.9 629.0 L485.6 628.6 L486.4 629.4 L487.1 628.4 L487.9 628.8 L488.6 628.0 L489.4 628.5 L490.1 627.8 L490.9 627.9 L491.6 628.0 L492.4 627.8 L493.1 627.6 L493.9 627.5 L494.6 627.2 L495.4 627.3 L496.1 627.2 L496.9 626.8 L497.6 627.1 L498.4 626.9 L499.1 626.5 L499.9 626.9 L500.6 626.4 L501.4 626.3 L502.1 627.4 L502.9 627.1 L503.6 627.9 L504.4 627.8 L505.1 627.6 L505.9 628.4 L506.6 628.4 L507.4 628.8 L508.1 628.7 L508.9 629.3 L509.6 629.0 L510.4 628.5 L511.1 628.0 L511.9 628.3 L512.6 628.2 L513.4 627.8 L514.1 627.9 L514.9 628.2 L515.6 627.5 L516.4 627.9 L517.1 627.2 L517.9 627.0 L518.6 627.4 L519.4 627.0 L520.1 627.0 L520.9 627.1 L521.6 627.1 L522.4 626.2 L523.1 626.6 L523.9 626.4 L524.6 626.3 L525.4 626.6 L526.1 625.9 L526.9 625.7 L527.6 625.9 L528.4 625.1 L529.1 625.6 L529.9 625.2 L530.6 625.4 L531.4 625.0 L532.1 625.2 L532.9 624.9 L533.6 624.7 L534.4 624.9 L535.1 624.9 L535.9 624.1 L536.6 624.0 L537.4 624.2 L538.1 624.1 L538.9 624.5 L539.6 624.4 L540.4 624.0 L541.1 624.1 L541.9 623.5 L542.6 623.1 L543.4 623.5 L544.1 622.8 L544.9 623.6 L545.6 623.1 L546.4 623.3 L547.1 622.7 L547.9 622.3 L548.6 622.6 L549.4 622.6 L550.1 622.3 L550.9 622.1 L551.6 622.2 L552.4 622.0 L553.1 622.3 L553.9 621.4 L554.6 621.1 L555.4 621.6 L556.1 621.6 L556.9 620.9 L557.6 621.2 L558.4 621.3 L559.1 621.1 L559.9 621.0 L560.6 620.6 L561.4 620.3 L562.1 620.9 L562.9 620.4 L563.6 620.0 L564.4 620.7 L565.1 620.3 L565.9 619.6 L566.6 621.6 L567.4 621.3 L568.1 621.2 L568.9 622.3 L569.6 622.6 L570.4 623.3 L571.1 623.3 L571.9 623.3 L572.6 624.1 L573.4 624.4 L574.1 625.1 L574.9 625.1 L575.6 625.2 L576.4 624.6 L577.1 624.7 L577.9 624.6 L578.6 624.7 L579.4 624.0 L580.1 624.4 L580.9 625.0 L581.6 623.7 L582.4 624.4 L583.1 624.0 L583.9 624.2 L584.6 623.8 L585.4 623.8 L586.1 623.7 L586.9 623.6 L587.6 623.0 L588.4 623.2 L589.1 623.7 L589.9 623.5 L590.6 622.7 L591.4 622.6 L592.1 622.7 L592.9 622.9 L593.6 622.8 L594.4 622.3 L595.1 621.6 L595.9 622.2 L596.6 621.6 L597.4 622.4 L598.1 622.3 L598.9 622.0 L599.6 621.9 L600.4 621.8 L601.1 622.0 L601.9 621.7 L602.6 621.7 L603.4 620.8 L604.1 620.9 L604.9 621.0 L605.6 620.2 L606.4 620.7 L607.1 620.6 L607.9 620.5 L608.6 621.2 L609.4 620.3 L610.1 620.2 L610.9 620.1 L611.6 619.9 L612.4 619.5 L613.1 620.1 L613.9 619.7 L614.6 619.7 L615.4 619.5 L616.1 619.2 L616.9 618.8 L617.6 619.1 L618.4 619.2 L619.1 618.9 L619.9 619.1 L620.6 618.5 L621.4 618.6 L622.1 618.6 L622.9 618.4 L623.6 618.4 L624.4 618.7 L625.1 618.0 L625.9 618.1 L626.6 617.7 L627.4 618.0 L628.1 617.8 L628.9 617.4 L629.6 617.2 L630.4 617.1 L631.1 617.2 L631.9 617.2 L632.6 616.9 L633.4 616.9 L634.1 616.9 L634.9 617.5 L635.6 617.0 L636.4 617.2 L637.1 616.5 L637.9 616.4 L638.6 616.9 L639.4 616.4 L640.1 616.5 L640.9 616.1 L641.6 616.1 L642.4 616.4 L643.1 616.0 L643.9 615.9 L644.6 615.7 L645.4 616.2 L646.1 616.0 L646.9 616.2 L647.6 615.7 L648.4 615.6 L649.1 616.2 L649.9 615.9 L650.6 616.1 L651.4 615.5 L652.1 615.4 L652.9 615.0 L653.6 615.8 L654.4 616.0 L655.1 616.0 L655.9 616.1 L656.6 615.1 L657.4 615.2 L658.1 615.4 L658.9 615.3 L659.6 615.4 L660.4 615.2 L661.1 615.0 L661.9 615.8 L662.6 616.1 L663.4 616.2 L664.1 616.8 L664.9 616.7 L665.6 617.3 L666.4 617.5 L667.1 617.4 L667.9 617.5 L668.6 617.1 L669.4 617.1 L670.1 617.2 L670.9 617.6 L671.6 617.1 L672.4 617.1 L673.1 617.9 L673.9 617.2 L674.6 617.2 L675.4 617.0 L676.1 617.7 L676.9 617.4 L677.6 617.3 L678.4 617.6 L679.1 616.8 L679.9 616.6 L680.6 617.4 L681.4 617.2 L682.1 616.9 L682.9 617.2 L683.6 616.9 L684.4 617.5 L685.1 616.5 L685.9 617.0 L686.6 617.1 L687.4 617.1 L688.1 616.7 L688.9 616.7 L689.6 616.6 L690.4 616.9 L691.1 616.6 L691.9 616.6 L692.6 616.9 L693.4 616.6 L694.1 616.7 L694.9 616.5 L695.6 616.5 L696.4 615.9 L697.1 616.2 L697.9 616.6 L698.6 616.2 L699.4 616.2 L700.1 616.4 L700.9 617.0 L701.6 616.1 L702.4 616.0 L703.1 615.7 L703.9 616.4 L704.6 616.2 L705.4 615.9 L706.1 616.0 L706.9 616.4 L707.6 616.4 L708.4 616.2 L709.1 616.4 L709.9 616.3 L710.6 615.9 L711.4 616.2 L712.1 616.0 L712.9 616.1 L713.6 616.0 L714.4 616.5 L715.1 615.5 L715.9 615.9 L716.6 615.5 L717.4 616.4 L718.1 615.6 L718.9 615.6 L719.6 615.7 L720.4 615.6 L721.1 616.1 L721.9 615.6 L722.6 615.6 L723.4 615.8 L724.1 615.9 L724.9 615.2 L725.6 615.5 L726.4 615.0 L727.1 615.5 L727.9 615.8 L728.6 615.2 L729.4 615.2 L730.1 615.6 L730.9 615.4 L731.6 615.5 L732.4 615.1 L733.1 615.1 L733.9 615.0 L734.6 615.6 L735.4 614.7 L736.1 614.9 L736.9 615.5 L737.6 615.0 L738.4 614.7 L739.1 615.0 L739.9 614.9 L740.6 614.9 L741.4 615.0 L742.1 615.1 L742.9 614.4 L743.6 615.0 L744.4 615.6 L745.1 615.0 L745.9 615.7 L746.6 615.6 L747.4 616.4 L748.1 616.2 L748.9 616.6 L749.6 616.8 L750.4 617.3 L751.1 617.1 L751.9 617.2 L752.6 617.6 L753.4 617.9 L754.1 617.3 L754.9 617.5 L755.6 617.4 L756.4 617.3 L757.1 617.2 L757.9 616.9 L758.6 617.0 L759.4 617.3 L760.1 617.1 L760.9 617.2 L761.6 616.6 L762.4 616.8 L763.1 616.5 L763.9 616.2 L764.6 616.8 L765.4 616.4 L766.1 616.5 L766.9 616.0 L767.6 616.3 L768.4 616.2 L769.1 616.1 L769.9 616.4 L770.6 616.2 L771.4 616.1 L772.1 616.0 L772.9 615.8 L773.6 615.6 L774.4 615.7 L775.1 615.4 L775.9 615.6 L776.6 615.6 L777.4 615.9 L778.1 615.4 L778.9 616.1 L779.6 615.2 L780.4 615.4 L781.1 615.3 L781.9 615.0 L782.6 615.1 L783.4 614.6 L784.1 615.3 L784.9 614.8 L785.6 614.9 L786.4 614.3 L787.1 615.0 L787.9 614.4 L788.6 615.2 L789.4 614.6 L790.1 614.7 L790.9 615.1 L791.6 615.3 L792.4 614.4 L793.1 614.5 L793.9 615.5 L794.6 615.1 L795.4 614.6 L796.1 614.9 L796.9 615.3 L797.6 615.0 L798.4 615.5 L799.1 614.9 L799.9 615.2 L800.6 615.5 L801.4 615.6 L802.1 615.3 L802.9 615.4 L803.6 615.1 L804.4 615.2 L805.1 615.1 L805.9 615.4 L806.6 615.5 L807.4 615.0 L808.1 615.0 L808.9 615.4 L809.6 616.0 L810.4 615.5 L811.1 615.5 L811.9 615.4 L812.6 615.0 L813.4 615.3 L814.1 615.9 L814.9 614.9 L815.6 616.0 L816.4 615.2 L817.1 616.2 L817.9 616.4 L818.6 616.0 L819.4 615.6 L820.1 615.8 L820.9 615.5 L821.6 615.6 L822.4 615.8 L823.1 614.8 L823.9 615.9 L824.6 615.7 L825.4 615.5 L826.1 615.7 L826.9 616.0 L827.6 615.6 L828.4 616.0 L829.1 615.5 L829.9 615.9 L830.6 615.8 L831.4 616.6 L832.1 616.3 L832.9 617.0 L833.6 616.5 L834.4 617.4 L835.1 617.9 L835.9 617.5 L836.6 618.0 L837.4 617.8 L838.1 618.1 L838.9 618.1 L839.6 618.1 L840.4 618.1 L841.1 618.0 L841.9 617.3 L842.6 617.5 L843.4 617.5 L844.1 617.3 L844.9 616.8 L845.6 617.7 L846.4 617.8 L847.1 617.0 L847.9 616.1 L848.6 617.3 L849.4 616.6 L850.1 617.2 L850.9 616.2 L851.6 616.6 L852.4 616.6 L853.1 615.8 L853.9 616.1 L854.6 616.2 L855.4 616.2 L856.1 616.0 L856.9 615.1 L857.6 615.1 L858.4 615.8 L859.1 616.0 L859.9 615.0 L860.6 615.5 L861.4 615.6 L862.1 615.0 L862.9 614.7 L863.6 615.1 L864.4 614.9 L865.1 614.9 L865.9 614.8 L866.6 614.7 L867.4 614.7 L868.1 614.4 L868.9 614.5 L869.6 614.2 L870.4 614.1 L871.1 614.3 L871.9 613.9 L872.6 614.2 L873.4 614.0 L874.1 614.2 L874.9 614.0 L875.6 613.1 L876.4 613.6 L877.1 613.7 L877.9 613.5 L878.6 613.4 L879.4 613.6 L880.1 613.4 L880.9 612.7 L881.6 613.1 L882.4 613.3 L883.1 612.9 L883.9 612.4 L884.6 612.9 L885.4 612.8 L886.1 613.0 L886.9 612.7 L887.6 612.8 L888.4 613.1 L889.1 612.5 L889.9 613.4 L890.6 613.1 L891.4 613.1 L892.1 613.3 L892.9 613.4 L893.6 612.5 L894.4 613.5 L895.1 613.3 L895.9 613.1 L896.6 613.7 L897.4 613.7 L898.1 613.6 L898.9 613.4 L899.6 613.6 L900.4 613.4 L901.1 614.4 L901.9 613.6 L902.6 614.2 L903.4 614.7 L904.1 614.2 L904.9 614.5 L905.6 614.2 L906.4 615.1 L907.1 615.0 L907.9 615.7 L908.6 615.8 L909.4 616.1 L910.1 616.4 L910.9 616.4 L911.6 616.9 L912.4 617.0 L913.1 617.1 L913.9 617.5 L914.6 617.5 L915.4 617.3 L916.1 617.8 L916.9 617.3 L917.6 618.1 L918.4 618.0 L919.1 618.1 L919.9 618.5 L920.6 618.5 L921.4 618.1 L922.1 618.4 L922.9 618.7 L923.6 618.4 L924.4 618.6 L925.1 618.7 L925.9 618.4 L926.6 618.8 L927.4 618.7 L928.1 618.7 L928.9 618.8 L929.6 618.8 L930.4 618.2 L931.1 618.4 L931.9 618.3 L932.6 618.0 L933.4 618.3 L934.1 618.1 L934.9 617.8 L935.6 618.3 L936.4 617.9 L937.1 617.5 L937.9 617.7 L938.6 617.6 L939.4 617.7 L940.1 618.2 L940.9 617.6 L941.6 617.8 L942.4 617.3 L943.1 617.4 L943.9 617.3 L944.6 617.1 L945.4 617.1 L946.1 616.8 L946.9 617.1 L947.6 616.5 L948.4 617.2 L949.1 615.6 L949.9 616.2 L950.6 616.5 L951.4 616.5 L952.1 616.4 L952.9 615.8 L953.6 616.3 L954.4 615.9 L955.1 616.1 L955.9 615.9 L956.6 615.8 L957.4 615.4 L958.1 615.4 L958.9 615.5 L959.6 615.3 L960.4 615.6 L961.1 615.1 L961.9 615.4 L962.6 615.5 L963.4 615.0 L964.1 614.9 L964.9 615.0 L965.6 615.2 L966.4 615.3 L967.1 615.5 L967.9 614.8 L968.6 614.9 L969.4 614.7 L970.1 614.6 L970.9 614.2 L971.6 614.3 L972.4 614.7 L973.1 614.7 L973.9 614.0 L974.6 613.6 L975.4 614.6 L976.1 614.0 L976.9 614.0 L977.6 613.8 L978.4 613.3 L979.1 613.9 L979.9 613.6 L980.6 613.8 L981.4 613.7 L982.1 613.9 L982.9 614.7 L983.6 614.4 L984.4 613.5 L985.1 613.6 L985.9 614.0 L986.6 613.9 L987.4 614.4 L988.1 614.6 L988.9 614.0 L989.6 614.4 L990.4 614.2 L991.1 613.7 L991.9 614.7 L992.6 614.9 L993.4 614.1 L994.1 614.6 L994.9 614.3 L995.6 614.4 L996.4 614.4 L997.1 614.5 L997.9 614.6 L998.6 614.4 L999.4 614.7 L1000.1 614.3 L1000.9 614.9 L1001.6 614.4 L1002.4 614.2 L1003.1 615.0 L1003.9 614.7 L1004.6 614.7 L1005.4 615.1 L1006.1 614.9 L1006.9 615.5 L1007.6 615.0 L1008.4 614.5 L1009.1 614.8 L1009.9 614.8 L1010.6 615.0 L1011.4 615.6 L1012.1 615.9 L1012.9 615.6 L1013.6 615.3 L1014.4 615.3 L1015.1 615.3 L1015.9 614.6 L1016.6 615.7 L1017.4 615.9 L1018.1 615.2 L1018.9 615.3 L1019.6 615.2 L1020.4 615.4 L1021.1 615.2 L1021.9 615.1 L1022.6 615.8 L1023.4 614.9 L1024.1 615.8 L1024.8 615.2 L1025.6 615.5 L1026.3 615.0 L1027.1 615.9 L1027.8 615.4 L1028.6 616.4 L1029.3 615.5 L1030.1 615.8 L1030.8 616.0 L1031.6 615.6 L1032.3 615.6 L1033.1 615.6 L1033.8 616.5 L1034.6 616.8 L1035.3 617.5 L1036.1 617.3 L1036.8 617.9 L1037.6 618.6 L1038.3 618.9 L1039.1 619.6 L1039.8 620.3 L1040.6 620.5 L1041.3 620.2 L1042.1 620.3 L1042.8 619.9 L1043.6 619.8 L1044.3 620.5 L1045.1 620.0 L1045.8 620.2 L1046.6 619.5 L1047.3 619.4 L1048.1 618.9 L1048.8 619.2 L1049.6 619.2 L1050.3 619.1 L1051.1 618.5 L1051.8 618.7 L1052.6 618.8 L1053.3 618.3 L1054.1 618.5 L1054.8 618.0 L1055.6 618.1 L1056.3 617.8 L1057.1 617.4 L1057.8 617.4 L1058.6 617.6 L1059.3 617.4 L1060.1 617.3 L1060.8 617.0 L1061.6 617.3 L1062.3 616.9 L1063.1 616.9 L1063.8 616.6 L1064.6 617.0 L1065.3 616.4 L1066.1 616.5 L1066.8 616.9 L1067.6 616.2 L1068.3 615.5 L1069.1 615.6 L1069.8 615.8 L1070.6 615.2 L1071.3 615.0 L1072.1 615.3 L1072.8 614.8 L1073.6 615.4 L1074.3 615.1 L1075.1 614.8 L1075.8 615.1 L1076.6 614.4 L1077.3 614.1 L1078.1 614.6 L1078.8 614.2 L1079.6 614.0 L1080.3 614.3 L1081.1 613.8 L1081.8 613.9 L1082.6 613.7 L1083.3 613.8 L1084.1 613.5 L1084.8 613.1 L1085.6 613.6 L1086.3 612.9 L1087.1 613.4 L1087.8 612.4 L1088.6 612.7 L1089.3 611.9 L1090.1 612.5 L1090.8 612.7 L1091.6 612.0 L1092.3 612.5 L1093.1 612.6 L1093.8 613.5 L1094.6 613.5 L1095.3 613.9 L1096.1 614.5 L1096.8 614.1 L1097.6 615.1 L1098.3 615.3 L1099.1 616.0 L1099.8 616.0 L1100.6 616.6 L1101.3 616.8 L1102.1 616.8 L1102.8 616.9 L1103.6 616.9 L1104.3 616.5 L1105.1 616.9 L1105.8 616.7 L1106.6 617.3 L1107.3 616.6 L1108.1 616.7 L1108.8 616.6 L1109.6 616.8 L1110.3 616.0 L1111.1 615.9 L1111.8 616.9 L1112.6 616.1 L1113.3 616.0 L1114.1 616.6 L1114.8 616.3 L1115.6 615.9 L1116.3 616.3 L1117.1 615.7 L1117.8 616.5 L1118.6 615.8 L1119.3 616.1 L1120.1 616.2 L1120.8 616.9 L1121.6 616.2 L1122.3 616.6 L1123.1 617.4 L1123.8 616.3 L1124.6 616.9 L1125.3 617.3 L1126.1 617.3 L1126.8 617.6 L1127.6 618.0 L1128.3 617.5 L1129.1 617.7 L1129.8 618.5 L1130.6 618.8 L1131.3 617.6 L1132.1 618.7 L1132.8 619.0 L1133.6 618.6 L1134.3 618.7 L1135.1 618.8 L1135.8 619.2 L1136.6 618.9 L1137.3 619.3 L1138.1 618.7 L1138.8 618.9 L1139.6 618.2 L1140.3 618.8 L1141.1 618.6 L1141.8 618.5 L1142.6 618.2 L1143.3 618.6 L1144.1 618.1 L1144.8 617.7 L1145.6 618.0 L1146.3 617.3 L1147.1 617.3 L1147.8 617.6 L1148.6 616.9 L1149.3 616.9 L1150.1 616.8 L1150.8 616.6 L1151.6 616.4 L1152.3 616.8 L1153.1 617.3 L1153.8 616.7 L1154.6 616.5 L1155.3 616.9 L1156.1 616.8 L1156.8 617.0 L1157.6 617.2 L1158.3 618.0 L1159.1 617.8 L1159.8 618.1 L1160.6 618.0 L1161.3 618.5 L1162.1 618.2 L1162.8 618.9 L1163.6 618.6 L1164.3 618.2 L1165.1 617.6 L1165.8 617.5 L1166.6 617.7 L1167.3 617.2 L1168.1 617.3 L1168.8 617.1 L1169.6 617.4 L1170.3 616.7 L1171.1 616.7 L1171.8 616.4 L1172.6 616.2 L1173.3 616.3 L1174.1 616.3 L1174.8 615.5 L1175.6 616.1 L1176.3 616.2 L1177.1 615.4 L1177.8 615.4 L1178.6 614.8 L1179.3 614.8 L1180.1 614.8 L1180.8 614.5 L1181.6 614.8 L1182.3 614.0 L1183.1 614.1 L1183.8 614.3 L1184.6 614.0 L1185.3 613.9 L1186.1 613.8 L1186.8 613.9 L1187.6 613.1 L1188.3 614.4 L1189.1 613.7 L1189.8 613.1 L1190.6 613.1 L1191.3 612.9 L1192.1 613.3 L1192.8 612.5 L1193.6 613.7 L1194.3 612.8 L1195.1 612.4 L1195.8 613.4 L1196.6 612.7 L1197.3 612.8 L1198.1 613.1 L1198.8 613.5 L1199.6 614.6 L1200.3 613.9 L1201.1 615.0 L1201.8 615.2 L1202.6 615.7 L1203.3 616.3 L1204.1 616.2 L1204.8 617.4 L1205.6 617.7 L1206.3 618.2 L1207.1 618.0 L1207.8 618.4 L1208.6 618.1 L1209.3 618.5 L1210.1 618.7 L1210.8 618.5 L1211.6 617.9 L1212.3 618.4 L1213.1 618.1 L1213.8 619.0 L1214.6 618.6 L1215.3 618.2 L1216.1 618.1 L1216.8 619.0 L1217.6 618.4 L1218.3 618.8 L1219.1 618.6 L1219.8 618.7 L1220.6 618.7 L1221.3 618.7 L1222.1 619.1 L1222.8 618.3 L1223.6 618.6 L1224.3 618.5 L1225.1 618.1 L1225.8 617.9 L1226.6 617.9 L1227.3 618.3 L1228.1 618.0 L1228.8 618.2 L1229.6 617.9 L1230.3 617.8 L1231.1 617.7 L1231.8 617.7 L1232.6 617.5 L1233.3 617.6 L1234.1 617.1 L1234.8 617.6 L1235.6 617.7 L1236.3 617.1 L1237.1 617.2 L1237.8 616.6 L1238.6 616.9 L1239.3 616.4 L1240.1 617.3 L1240.8 617.2 L1241.6 617.7 L1242.3 618.0 L1243.1 617.6 L1243.8 618.3 L1244.6 618.7 L1245.3 619.1 L1246.1 618.6 L1246.8 619.0 L1247.6 618.8 L1248.3 619.4 L1249.1 619.6 L1249.8 620.0 L1250.6 619.7 L1251.3 620.0 L1252.1 620.2 L1252.8 619.8 L1253.6 620.3 L1254.3 618.9 L1255.1 619.0 L1255.8 619.2 L1256.6 619.4 L1257.3 619.0 L1258.1 619.0 L1258.8 618.3 L1259.6 618.7 L1260.3 618.6 L1261.1 618.7 L1261.8 618.4 L1262.6 617.8 L1263.3 617.6 L1264.1 617.3 L1264.8 617.4 L1265.6 617.3 L1266.3 617.6 L1267.1 617.5 L1267.8 616.9 L1268.6 616.9 L1269.3 616.6 L1270.1 616.1 L1270.8 616.5 L1271.6 616.0 L1272.3 615.6 L1273.1 615.6 L1273.8 616.2 L1274.6 615.3 L1275.3 615.8 L1276.1 614.9 L1276.8 615.1 L1277.6 615.1 L1278.3 614.7 L1279.1 614.4 L1279.8 614.6 L1280.6 614.9 L1281.3 614.6 L1282.1 614.6 L1282.8 614.9 L1283.6 615.2 L1284.3 615.4 L1285.1 615.1 L1285.8 615.1 L1286.6 615.2 L1287.3 615.7 L1288.1 615.8 L1288.8 616.0 L1289.6 616.0 L1290.3 617.1 L1291.1 616.3 L1291.8 617.1 L1292.6 616.6 L1293.3 616.8 L1294.1 616.9 L1294.8 617.0 L1295.6 617.1 L1296.3 617.5 L1297.1 617.8 L1297.8 618.2 L1298.6 617.7 L1299.3 618.5 L1300.1 618.5 L1300.8 618.7 L1301.6 618.1 L1302.3 618.8 L1303.1 618.8 L1303.8 618.9 L1304.6 618.4 L1305.3 618.7 L1306.1 618.3 L1306.8 617.9 L1307.6 618.3 L1308.3 618.3 L1309.1 618.0 L1309.8 617.9 L1310.6 617.7 L1311.3 617.9 L1312.1 617.1 L1312.8 617.6 L1313.6 617.1 L1314.3 617.2 L1315.1 617.4 L1315.8 617.6 L1316.6 617.1 L1317.3 616.8 L1318.1 617.8 L1318.8 617.0 L1319.6 616.0 L1320.3 616.7 L1321.1 616.4 L1321.8 616.4 L1322.6 616.8 L1323.3 617.0 L1324.1 616.4 L1324.8 615.9 L1325.6 616.4 L1326.3 616.1 L1327.1 615.9 L1327.8 616.0 L1328.6 615.3 L1329.3 615.2 L1330.1 614.9 L1330.8 614.7 L1331.6 614.5 L1332.3 613.3 L1333.1 613.2 L1333.8 612.4 L1334.6 612.3 L1335.3 612.5 L1336.1 612.5 L1336.8 612.4 L1337.6 613.1 L1338.3 613.0 L1339.1 613.2 L1339.8 613.0 L1340.6 613.5 L1341.3 613.2 L1342.1 613.6 L1342.8 613.5 L1343.6 613.6 L1344.3 613.3 L1345.1 614.2 L1345.8 614.6 L1346.6 614.8 L1347.3 615.6 L1348.1 616.3 L1348.8 616.8 L1349.6 616.0 L1350.3 616.8 L1351.1 615.8 L1351.8 616.5 L1352.6 616.0 L1353.3 615.4 L1354.1 615.2 L1354.8 615.0 L1355.6 614.5 L1356.3 614.9 L1357.1 614.2 L1357.8 614.5 L1358.6 614.9 L1359.3 614.7 L1360.1 615.7 L1360.8 615.3 L1361.6 616.4 L1362.3 616.5 L1363.1 617.0 L1363.8 616.5 L1364.6 616.6 L1365.3 616.3 L1366.1 616.4 L1366.8 615.6 L1367.6 615.6 L1368.3 614.7 L1369.1 615.2 L1369.8 614.9 L1370.6 615.5 L1371.3 614.9 L1372.1 615.6 L1372.8 615.6 L1373.6 615.9 L1374.3 615.5 L1375.1 615.0 L1375.8 616.0 L1376.6 616.6 L1377.3 616.8 L1378.1 617.5 L1378.8 618.2 L1379.6 617.7 L1380.3 618.2 L1381.1 619.2 L1381.8 618.7 L1382.6 618.9 L1383.3 620.1 L1384.1 620.2 L1384.8 620.5 L1385.6 620.3 L1386.3 620.0 L1387.1 619.9 L1387.8 619.5 L1388.6 620.1 L1389.3 619.8 L1390.1 619.8 L1390.8 620.0 L1391.6 619.3 L1392.3 619.9 L1393.1 619.7 L1393.8 620.5 L1394.6 619.8 L1395.3 620.2 L1396.1 619.5 L1396.8 619.3 L1397.6 619.9 L1398.3 619.5 L1399.1 619.0 L1399.8 619.6 L1400.6 619.3 L1401.3 618.6 L1402.1 618.9 L1402.8 619.4 L1403.6 618.7 L1404.3 618.2 L1405.1 618.2 L1405.8 618.8 L1406.6 618.7 L1407.3 618.3 L1408.1 617.5 L1408.8 618.1 L1409.6 617.5 L1410.3 617.5 L1411.1 617.5 L1411.8 618.1 L1412.6 618.0 L1413.3 618.1 L1414.1 617.8 L1414.8 617.9 L1415.6 618.4 L1416.3 618.0 L1417.1 618.2 L1417.8 618.5 L1418.6 618.3 L1419.3 618.7 L1420.1 618.7 L1420.8 618.8 L1421.6 619.4 L1422.3 618.6 L1423.1 619.4 L1423.8 618.4" stroke="#9edae5" stroke-width="3.7" fill="none" stroke-linejoin="round" stroke-linecap="butt"/>
<rect x="169.55" y="5.45" width="1312.90" height="816.00" fill="none" stroke="#000" stroke-width="2.7" stroke-linejoin="miter"/>
<path d="M240.0 821.5 V835.6 M439.0 821.5 V835.6 M638.0 821.5 V835.6 M837.0 821.5 V835.6 M1036.0 821.5 V835.6 M1236.0 821.5 V835.6 M1435.0 821.5 V835.6 M169.6 777.0 H154.0 M169.6 683.0 H154.0 M169.6 590.0 H154.0 M169.6 496.0 H154.0 M169.6 402.0 H154.0 M169.6 309.0 H154.0 M169.6 215.0 H154.0 M169.6 122.0 H154.0 M169.6 28.0 H154.0" stroke="#000" stroke-width="2.0" fill="none"/>
<g font-family="Liberation Sans" font-size="37.5" fill="#000">
<text transform="translate(193.08 878.30) scale(1 1.04)"> 6:5 </text><path transform="translate(193.08 878.30) scale(0.01831 -0.01831)" d="M800 0H600V1147C557 1106 500 1064 429 1023C358 981 295 950 240 928V1102C340 1149 428 1206 503 1272C578 1338 631 1403 662 1466H800Z"/><path transform="translate(266.07 878.30) scale(0.01831 -0.01831)" d="M800 0H600V1147C557 1106 500 1064 429 1023C358 981 295 950 240 928V1102C340 1149 428 1206 503 1272C578 1338 631 1403 662 1466H800Z"/>
<text transform="translate(392.08 878.30) scale(1 1.04)"> 6:56</text><path transform="translate(392.08 878.30) scale(0.01831 -0.01831)" d="M800 0H600V1147C557 1106 500 1064 429 1023C358 981 295 950 240 928V1102C340 1149 428 1206 503 1272C578 1338 631 1403 662 1466H800Z"/>
<text transform="translate(591.08 878.30) scale(1 1.04)"> 7:0 </text><path transform="translate(591.08 878.30) scale(0.01831 -0.01831)" d="M800 0H600V1147C557 1106 500 1064 429 1023C358 981 295 950 240 928V1102C340 1149 428 1206 503 1272C578 1338 631 1403 662 1466H800Z"/><path transform="translate(664.07 878.30) scale(0.01831 -0.01831)" d="M800 0H600V1147C557 1106 500 1064 429 1023C358 981 295 950 240 928V1102C340 1149 428 1206 503 1272C578 1338 631 1403 662 1466H800Z"/>
<text transform="translate(790.08 878.30) scale(1 1.04)"> 7:06</text><path transform="translate(790.08 878.30) scale(0.01831 -0.01831)" d="M800 0H600V1147C557 1106 500 1064 429 1023C358 981 295 950 240 928V1102C340 1149 428 1206 503 1272C578 1338 631 1403 662 1466H800Z"/>
<text transform="translate(989.08 878.30) scale(1 1.04)"> 7:  </text><path transform="translate(989.08 878.30) scale(0.01831 -0.01831)" d="M800 0H600V1147C557 1106 500 1064 429 1023C358 981 295 950 240 928V1102C340 1149 428 1206 503 1272C578 1338 631 1403 662 1466H800Z"/><path transform="translate(1041.21 878.30) scale(0.01831 -0.01831)" d="M800 0H600V1147C557 1106 500 1064 429 1023C358 981 295 950 240 928V1102C340 1149 428 1206 503 1272C578 1338 631 1403 662 1466H800Z"/><path transform="translate(1062.07 878.30) scale(0.01831 -0.01831)" d="M800 0H600V1147C557 1106 500 1064 429 1023C358 981 295 950 240 928V1102C340 1149 428 1206 503 1272C578 1338 631 1403 662 1466H800Z"/>
<text transform="translate(1189.08 878.30) scale(1 1.04)"> 7: 6</text><path transform="translate(1189.08 878.30) scale(0.01831 -0.01831)" d="M800 0H600V1147C557 1106 500 1064 429 1023C358 981 295 950 240 928V1102C340 1149 428 1206 503 1272C578 1338 631 1403 662 1466H800Z"/><path transform="translate(1241.21 878.30) scale(0.01831 -0.01831)" d="M800 0H600V1147C557 1106 500 1064 429 1023C358 981 295 950 240 928V1102C340 1149 428 1206 503 1272C578 1338 631 1403 662 1466H800Z"/>
<text transform="translate(1388.08 878.30) scale(1 1.04)"> 7:2 </text><path transform="translate(1388.08 878.30) scale(0.01831 -0.01831)" d="M800 0H600V1147C557 1106 500 1064 429 1023C358 981 295 950 240 928V1102C340 1149 428 1206 503 1272C578 1338 631 1403 662 1466H800Z"/><path transform="translate(1461.07 878.30) scale(0.01831 -0.01831)" d="M800 0H600V1147C557 1106 500 1064 429 1023C358 981 295 950 240 928V1102C340 1149 428 1206 503 1272C578 1338 631 1403 662 1466H800Z"/>
<text transform="translate(76.83 790.90) scale(1 1.04)">250</text>
<text transform="translate(76.83 696.90) scale(1 1.04)">500</text>
<text transform="translate(76.83 603.90) scale(1 1.04)">750</text>
<text transform="translate(55.98 509.90) scale(1 1.04)"> 000</text><path transform="translate(55.98 509.90) scale(0.01831 -0.01831)" d="M800 0H600V1147C557 1106 500 1064 429 1023C358 981 295 950 240 928V1102C340 1149 428 1206 503 1272C578 1338 631 1403 662 1466H800Z"/>
<text transform="translate(55.98 416.90) scale(1 1.04)"> 250</text><path transform="translate(55.98 416.90) scale(0.01831 -0.01831)" d="M800 0H600V1147C557 1106 500 1064 429 1023C358 981 295 950 240 928V1102C340 1149 428 1206 503 1272C578 1338 631 1403 662 1466H800Z"/>
<text transform="translate(55.98 322.90) scale(1 1.04)"> 500</text><path transform="translate(55.98 322.90) scale(0.01831 -0.01831)" d="M800 0H600V1147C557 1106 500 1064 429 1023C358 981 295 950 240 928V1102C340 1149 428 1206 503 1272C578 1338 631 1403 662 1466H800Z"/>
<text transform="translate(55.98 229.90) scale(1 1.04)"> 750</text><path transform="translate(55.98 229.90) scale(0.01831 -0.01831)" d="M800 0H600V1147C557 1106 500 1064 429 1023C358 981 295 950 240 928V1102C340 1149 428 1206 503 1272C578 1338 631 1403 662 1466H800Z"/>
<text transform="translate(55.98 135.90) scale(1 1.04)">2000</text>
<text transform="translate(55.98 41.90) scale(1 1.04)">2250</text>
<text transform="translate(826 929.2) scale(1 1.04)" text-anchor="middle">Times (UT+8)</text>
<text transform="translate(32.2 414.2) rotate(-90) scale(1 1.04)" text-anchor="middle">Data / mV</text>
</g>
<g font-family="Liberation Sans" font-size="29.17" fill="#000">
<path d="M1518.9 43.0 H1580.9" stroke="#1f77b4" stroke-width="3.7"/>
<text transform="translate(1603.00 54.10) scale(1 1.05)">68.5-69.5 GHz_R</text>
<path d="M1518.9 85.6 H1580.9" stroke="#aec7e8" stroke-width="3.7"/>
<text transform="translate(1603.00 96.68) scale(1 1.05)">66.5-67.5 GHz_R</text>
<path d="M1518.9 128.2 H1580.9" stroke="#ff7f0e" stroke-width="3.7"/>
<text transform="translate(1603.00 139.26) scale(1 1.05)">64.5-65.5 GHz_R</text>
<path d="M1518.9 170.7 H1580.9" stroke="#ffbb78" stroke-width="3.7"/>
<text transform="translate(1603.00 181.84) scale(1 1.05)">62.5-63.5 GHz_R</text>
<path d="M1518.9 213.3 H1580.9" stroke="#2ca02c" stroke-width="3.7"/>
<text transform="translate(1603.00 224.42) scale(1 1.05)">60.5-6 .5 GHz_R</text><path transform="translate(1685.71 224.42) scale(0.01424 -0.01424)" d="M800 0H600V1147C557 1106 500 1064 429 1023C358 981 295 950 240 928V1102C340 1149 428 1206 503 1272C578 1338 631 1403 662 1466H800Z"/>
<path d="M1518.9 255.9 H1580.9" stroke="#98df8a" stroke-width="3.7"/>
<text transform="translate(1603.00 267.00) scale(1 1.05)">58.5-59.5 GHz_R</text>
<path d="M1518.9 298.5 H1580.9" stroke="#d62728" stroke-width="3.7"/>
<text transform="translate(1603.00 309.58) scale(1 1.05)">56.5-57.5 GHz_R</text>
<path d="M1518.9 341.1 H1580.9" stroke="#ff9896" stroke-width="3.7"/>
<text transform="translate(1603.00 352.16) scale(1 1.05)">54.5-55.5 GHz_R</text>
<path d="M1518.9 383.6 H1580.9" stroke="#9467bd" stroke-width="3.7"/>
<text transform="translate(1603.00 394.74) scale(1 1.05)">52.5-53.5 GHz_R</text>
<path d="M1518.9 426.2 H1580.9" stroke="#c5b0d5" stroke-width="3.7"/>
<text transform="translate(1603.00 437.32) scale(1 1.05)">50.5-5 .5 GHz_R</text><path transform="translate(1685.71 437.32) scale(0.01424 -0.01424)" d="M800 0H600V1147C557 1106 500 1064 429 1023C358 981 295 950 240 928V1102C340 1149 428 1206 503 1272C578 1338 631 1403 662 1466H800Z"/>
<path d="M1518.9 468.8 H1580.9" stroke="#8c564b" stroke-width="3.7"/>
<text transform="translate(1603.00 479.90) scale(1 1.05)">68.5-69.5 GHz_L</text>
<path d="M1518.9 511.4 H1580.9" stroke="#c49c94" stroke-width="3.7"/>
<text transform="translate(1603.00 522.48) scale(1 1.05)">66.5-67.5 GHz_L</text>
<path d="M1518.9 554.0 H1580.9" stroke="#e377c2" stroke-width="3.7"/>
<text transform="translate(1603.00 565.06) scale(1 1.05)">64.5-65.5 GHz_L</text>
<path d="M1518.9 596.5 H1580.9" stroke="#f7b6d2" stroke-width="3.7"/>
<text transform="translate(1603.00 607.64) scale(1 1.05)">62.5-63.5 GHz_L</text>
<path d="M1518.9 639.1 H1580.9" stroke="#7f7f7f" stroke-width="3.7"/>
<text transform="translate(1603.00 650.22) scale(1 1.05)">60.5-6 .5 GHz_L</text><path transform="translate(1685.71 650.22) scale(0.01424 -0.01424)" d="M800 0H600V1147C557 1106 500 1064 429 1023C358 981 295 950 240 928V1102C340 1149 428 1206 503 1272C578 1338 631 1403 662 1466H800Z"/>
<path d="M1518.9 681.7 H1580.9" stroke="#c7c7c7" stroke-width="3.7"/>
<text transform="translate(1603.00 692.80) scale(1 1.05)">58.5-59.5 GHz_L</text>
<path d="M1518.9 724.3 H1580.9" stroke="#bcbd22" stroke-width="3.7"/>
<text transform="translate(1603.00 735.38) scale(1 1.05)">56.5-57.5 GHz_L</text>
<path d="M1518.9 766.9 H1580.9" stroke="#dbdb8d" stroke-width="3.7"/>
<text transform="translate(1603.00 777.96) scale(1 1.05)">54.5-55.5 GHz_L</text>
<path d="M1518.9 809.4 H1580.9" stroke="#17becf" stroke-width="3.7"/>
<text transform="translate(1603.00 820.54) scale(1 1.05)">52.5-53.5 GHz_L</text>
<path d="M1518.9 852.0 H1580.9" stroke="#9edae5" stroke-width="3.7"/>
<text transform="translate(1603.00 863.12) scale(1 1.05)">50.5-5 .5 GHz_L</text><path transform="translate(1685.71 863.12) scale(0.01424 -0.01424)" d="M800 0H600V1147C557 1106 500 1064 429 1023C358 981 295 950 240 928V1102C340 1149 428 1206 503 1272C578 1338 631 1403 662 1466H800Z"/>
</g>
</svg></body></html>
